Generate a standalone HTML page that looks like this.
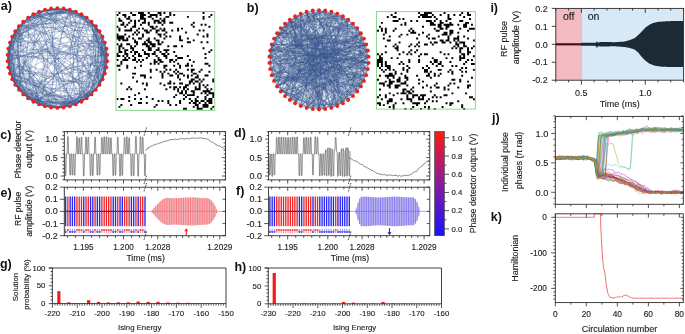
<!DOCTYPE html>
<html><head><meta charset="utf-8"><style>
html,body{margin:0;padding:0;background:#fff;}
body{width:685px;height:334px;overflow:hidden;}
svg{display:block;filter:blur(0.3px);font-family:"Liberation Sans", sans-serif;}
</style></head><body>
<svg width="685" height="334" viewBox="0 0 685 334">
<rect width="685" height="334" fill="#fff"/>
<text x="0.8" y="9.5" font-size="12.5" text-anchor="start" font-weight="bold" fill="#111">a)</text>
<path d="M118.46 12h1.96v1.96h-1.96zM130.19 12h1.96v1.96h-1.96zM138.02 12h1.96v1.96h-1.96zM139.97 12h1.96v1.96h-1.96zM141.93 12h1.96v1.96h-1.96zM147.8 12h1.96v1.96h-1.96zM157.58 12h1.96v1.96h-1.96zM159.53 12h1.96v1.96h-1.96zM163.44 12h1.96v1.96h-1.96zM169.31 12h1.96v1.96h-1.96zM202.56 12h1.96v1.96h-1.96zM116.5 13.96h1.96v1.96h-1.96zM122.37 13.96h1.96v1.96h-1.96zM124.32 13.96h1.96v1.96h-1.96zM132.15 13.96h1.96v1.96h-1.96zM134.1 13.96h1.96v1.96h-1.96zM139.97 13.96h1.96v1.96h-1.96zM141.93 13.96h1.96v1.96h-1.96zM143.88 13.96h1.96v1.96h-1.96zM149.75 13.96h1.96v1.96h-1.96zM151.71 13.96h1.96v1.96h-1.96zM153.66 13.96h1.96v1.96h-1.96zM155.62 13.96h1.96v1.96h-1.96zM159.53 13.96h1.96v1.96h-1.96zM169.31 13.96h1.96v1.96h-1.96zM173.22 13.96h1.96v1.96h-1.96zM210.39 13.96h1.96v1.96h-1.96zM124.32 15.91h1.96v1.96h-1.96zM128.24 15.91h1.96v1.96h-1.96zM139.97 15.91h1.96v1.96h-1.96zM141.93 15.91h1.96v1.96h-1.96zM147.8 15.91h1.96v1.96h-1.96zM149.75 15.91h1.96v1.96h-1.96zM155.62 15.91h1.96v1.96h-1.96zM165.4 15.91h1.96v1.96h-1.96zM167.36 15.91h1.96v1.96h-1.96zM186.92 15.91h1.96v1.96h-1.96zM202.56 15.91h1.96v1.96h-1.96zM208.43 15.91h1.96v1.96h-1.96zM118.46 17.87h1.96v1.96h-1.96zM126.28 17.87h1.96v1.96h-1.96zM128.24 17.87h1.96v1.96h-1.96zM139.97 17.87h1.96v1.96h-1.96zM141.93 17.87h1.96v1.96h-1.96zM143.88 17.87h1.96v1.96h-1.96zM151.71 17.87h1.96v1.96h-1.96zM159.53 17.87h1.96v1.96h-1.96zM163.44 17.87h1.96v1.96h-1.96zM202.56 17.87h1.96v1.96h-1.96zM118.46 19.82h1.96v1.96h-1.96zM120.41 19.82h1.96v1.96h-1.96zM130.19 19.82h1.96v1.96h-1.96zM134.1 19.82h1.96v1.96h-1.96zM138.02 19.82h1.96v1.96h-1.96zM143.88 19.82h1.96v1.96h-1.96zM153.66 19.82h1.96v1.96h-1.96zM155.62 19.82h1.96v1.96h-1.96zM157.58 19.82h1.96v1.96h-1.96zM161.49 19.82h1.96v1.96h-1.96zM163.44 19.82h1.96v1.96h-1.96zM122.37 21.78h1.96v1.96h-1.96zM128.24 21.78h1.96v1.96h-1.96zM134.1 21.78h1.96v1.96h-1.96zM141.93 21.78h1.96v1.96h-1.96zM143.88 21.78h1.96v1.96h-1.96zM147.8 21.78h1.96v1.96h-1.96zM153.66 21.78h1.96v1.96h-1.96zM157.58 21.78h1.96v1.96h-1.96zM159.53 21.78h1.96v1.96h-1.96zM163.44 21.78h1.96v1.96h-1.96zM169.31 21.78h1.96v1.96h-1.96zM171.27 21.78h1.96v1.96h-1.96zM192.78 21.78h1.96v1.96h-1.96zM120.41 23.74h1.96v1.96h-1.96zM122.37 23.74h1.96v1.96h-1.96zM126.28 23.74h1.96v1.96h-1.96zM134.1 23.74h1.96v1.96h-1.96zM139.97 23.74h1.96v1.96h-1.96zM147.8 23.74h1.96v1.96h-1.96zM161.49 23.74h1.96v1.96h-1.96zM190.83 23.74h1.96v1.96h-1.96zM200.61 23.74h1.96v1.96h-1.96zM204.52 23.74h1.96v1.96h-1.96zM116.5 25.69h1.96v1.96h-1.96zM124.32 25.69h1.96v1.96h-1.96zM132.15 25.69h1.96v1.96h-1.96zM134.1 25.69h1.96v1.96h-1.96zM149.75 25.69h1.96v1.96h-1.96zM151.71 25.69h1.96v1.96h-1.96zM155.62 25.69h1.96v1.96h-1.96zM192.78 25.69h1.96v1.96h-1.96zM208.43 25.69h1.96v1.96h-1.96zM118.46 27.65h1.96v1.96h-1.96zM130.19 27.65h1.96v1.96h-1.96zM138.02 27.65h1.96v1.96h-1.96zM141.93 27.65h1.96v1.96h-1.96zM151.71 27.65h1.96v1.96h-1.96zM153.66 27.65h1.96v1.96h-1.96zM159.53 27.65h1.96v1.96h-1.96zM163.44 27.65h1.96v1.96h-1.96zM177.14 27.65h1.96v1.96h-1.96zM181.05 27.65h1.96v1.96h-1.96zM118.46 29.6h1.96v1.96h-1.96zM124.32 29.6h1.96v1.96h-1.96zM126.28 29.6h1.96v1.96h-1.96zM128.24 29.6h1.96v1.96h-1.96zM130.19 29.6h1.96v1.96h-1.96zM136.06 29.6h1.96v1.96h-1.96zM143.88 29.6h1.96v1.96h-1.96zM145.84 29.6h1.96v1.96h-1.96zM149.75 29.6h1.96v1.96h-1.96zM155.62 29.6h1.96v1.96h-1.96zM157.58 29.6h1.96v1.96h-1.96zM161.49 29.6h1.96v1.96h-1.96zM163.44 29.6h1.96v1.96h-1.96zM171.27 29.6h1.96v1.96h-1.96zM177.14 29.6h1.96v1.96h-1.96zM198.65 29.6h1.96v1.96h-1.96zM202.56 29.6h1.96v1.96h-1.96zM134.1 31.56h1.96v1.96h-1.96zM138.02 31.56h1.96v1.96h-1.96zM145.84 31.56h1.96v1.96h-1.96zM147.8 31.56h1.96v1.96h-1.96zM155.62 31.56h1.96v1.96h-1.96zM165.4 31.56h1.96v1.96h-1.96zM184.96 31.56h1.96v1.96h-1.96zM116.5 33.52h1.96v1.96h-1.96zM124.32 33.52h1.96v1.96h-1.96zM132.15 33.52h1.96v1.96h-1.96zM136.06 33.52h1.96v1.96h-1.96zM141.93 33.52h1.96v1.96h-1.96zM157.58 33.52h1.96v1.96h-1.96zM159.53 33.52h1.96v1.96h-1.96zM163.44 33.52h1.96v1.96h-1.96zM196.7 33.52h1.96v1.96h-1.96zM206.48 33.52h1.96v1.96h-1.96zM116.5 35.47h1.96v1.96h-1.96zM118.46 35.47h1.96v1.96h-1.96zM120.41 35.47h1.96v1.96h-1.96zM122.37 35.47h1.96v1.96h-1.96zM128.24 35.47h1.96v1.96h-1.96zM141.93 35.47h1.96v1.96h-1.96zM159.53 35.47h1.96v1.96h-1.96zM165.4 35.47h1.96v1.96h-1.96zM169.31 35.47h1.96v1.96h-1.96zM179.09 35.47h1.96v1.96h-1.96zM202.56 35.47h1.96v1.96h-1.96zM206.48 35.47h1.96v1.96h-1.96zM116.5 37.43h1.96v1.96h-1.96zM118.46 37.43h1.96v1.96h-1.96zM120.41 37.43h1.96v1.96h-1.96zM122.37 37.43h1.96v1.96h-1.96zM126.28 37.43h1.96v1.96h-1.96zM132.15 37.43h1.96v1.96h-1.96zM138.02 37.43h1.96v1.96h-1.96zM139.97 37.43h1.96v1.96h-1.96zM147.8 37.43h1.96v1.96h-1.96zM153.66 37.43h1.96v1.96h-1.96zM163.44 37.43h1.96v1.96h-1.96zM179.09 37.43h1.96v1.96h-1.96zM186.92 37.43h1.96v1.96h-1.96zM118.46 39.38h1.96v1.96h-1.96zM122.37 39.38h1.96v1.96h-1.96zM124.32 39.38h1.96v1.96h-1.96zM126.28 39.38h1.96v1.96h-1.96zM134.1 39.38h1.96v1.96h-1.96zM145.84 39.38h1.96v1.96h-1.96zM147.8 39.38h1.96v1.96h-1.96zM155.62 39.38h1.96v1.96h-1.96zM157.58 39.38h1.96v1.96h-1.96zM179.09 39.38h1.96v1.96h-1.96zM181.05 39.38h1.96v1.96h-1.96zM192.78 39.38h1.96v1.96h-1.96zM134.1 41.34h1.96v1.96h-1.96zM136.06 41.34h1.96v1.96h-1.96zM143.88 41.34h1.96v1.96h-1.96zM147.8 41.34h1.96v1.96h-1.96zM149.75 41.34h1.96v1.96h-1.96zM157.58 41.34h1.96v1.96h-1.96zM161.49 41.34h1.96v1.96h-1.96zM186.92 41.34h1.96v1.96h-1.96zM188.87 41.34h1.96v1.96h-1.96zM200.61 41.34h1.96v1.96h-1.96zM206.48 41.34h1.96v1.96h-1.96zM116.5 43.3h1.96v1.96h-1.96zM120.41 43.3h1.96v1.96h-1.96zM126.28 43.3h1.96v1.96h-1.96zM128.24 43.3h1.96v1.96h-1.96zM136.06 43.3h1.96v1.96h-1.96zM141.93 43.3h1.96v1.96h-1.96zM143.88 43.3h1.96v1.96h-1.96zM145.84 43.3h1.96v1.96h-1.96zM149.75 43.3h1.96v1.96h-1.96zM151.71 43.3h1.96v1.96h-1.96zM153.66 43.3h1.96v1.96h-1.96zM157.58 43.3h1.96v1.96h-1.96zM159.53 43.3h1.96v1.96h-1.96zM118.46 45.25h1.96v1.96h-1.96zM120.41 45.25h1.96v1.96h-1.96zM130.19 45.25h1.96v1.96h-1.96zM134.1 45.25h1.96v1.96h-1.96zM145.84 45.25h1.96v1.96h-1.96zM147.8 45.25h1.96v1.96h-1.96zM151.71 45.25h1.96v1.96h-1.96zM153.66 45.25h1.96v1.96h-1.96zM167.36 45.25h1.96v1.96h-1.96zM173.22 45.25h1.96v1.96h-1.96zM175.18 45.25h1.96v1.96h-1.96zM181.05 45.25h1.96v1.96h-1.96zM118.46 47.21h1.96v1.96h-1.96zM122.37 47.21h1.96v1.96h-1.96zM130.19 47.21h1.96v1.96h-1.96zM132.15 47.21h1.96v1.96h-1.96zM147.8 47.21h1.96v1.96h-1.96zM149.75 47.21h1.96v1.96h-1.96zM157.58 47.21h1.96v1.96h-1.96zM202.56 47.21h1.96v1.96h-1.96zM118.46 49.16h1.96v1.96h-1.96zM124.32 49.16h1.96v1.96h-1.96zM126.28 49.16h1.96v1.96h-1.96zM132.15 49.16h1.96v1.96h-1.96zM141.93 49.16h1.96v1.96h-1.96zM147.8 49.16h1.96v1.96h-1.96zM149.75 49.16h1.96v1.96h-1.96zM155.62 49.16h1.96v1.96h-1.96zM157.58 49.16h1.96v1.96h-1.96zM163.44 49.16h1.96v1.96h-1.96zM165.4 49.16h1.96v1.96h-1.96zM167.36 49.16h1.96v1.96h-1.96zM210.39 49.16h1.96v1.96h-1.96zM118.46 51.12h1.96v1.96h-1.96zM120.41 51.12h1.96v1.96h-1.96zM124.32 51.12h1.96v1.96h-1.96zM130.19 51.12h1.96v1.96h-1.96zM134.1 51.12h1.96v1.96h-1.96zM136.06 51.12h1.96v1.96h-1.96zM143.88 51.12h1.96v1.96h-1.96zM153.66 51.12h1.96v1.96h-1.96zM159.53 51.12h1.96v1.96h-1.96zM165.4 51.12h1.96v1.96h-1.96zM173.22 51.12h1.96v1.96h-1.96zM208.43 51.12h1.96v1.96h-1.96zM116.5 53.08h1.96v1.96h-1.96zM124.32 53.08h1.96v1.96h-1.96zM126.28 53.08h1.96v1.96h-1.96zM134.1 53.08h1.96v1.96h-1.96zM138.02 53.08h1.96v1.96h-1.96zM143.88 53.08h1.96v1.96h-1.96zM145.84 53.08h1.96v1.96h-1.96zM147.8 53.08h1.96v1.96h-1.96zM151.71 53.08h1.96v1.96h-1.96zM153.66 53.08h1.96v1.96h-1.96zM161.49 53.08h1.96v1.96h-1.96zM163.44 53.08h1.96v1.96h-1.96zM167.36 53.08h1.96v1.96h-1.96zM204.52 53.08h1.96v1.96h-1.96zM116.5 55.03h1.96v1.96h-1.96zM118.46 55.03h1.96v1.96h-1.96zM122.37 55.03h1.96v1.96h-1.96zM126.28 55.03h1.96v1.96h-1.96zM132.15 55.03h1.96v1.96h-1.96zM138.02 55.03h1.96v1.96h-1.96zM139.97 55.03h1.96v1.96h-1.96zM147.8 55.03h1.96v1.96h-1.96zM155.62 55.03h1.96v1.96h-1.96zM163.44 55.03h1.96v1.96h-1.96zM165.4 55.03h1.96v1.96h-1.96zM175.18 55.03h1.96v1.96h-1.96zM186.92 55.03h1.96v1.96h-1.96zM124.32 56.99h1.96v1.96h-1.96zM128.24 56.99h1.96v1.96h-1.96zM134.1 56.99h1.96v1.96h-1.96zM145.84 56.99h1.96v1.96h-1.96zM157.58 56.99h1.96v1.96h-1.96zM165.4 56.99h1.96v1.96h-1.96zM177.14 56.99h1.96v1.96h-1.96zM179.09 56.99h1.96v1.96h-1.96zM181.05 56.99h1.96v1.96h-1.96zM204.52 56.99h1.96v1.96h-1.96zM116.5 58.94h1.96v1.96h-1.96zM122.37 58.94h1.96v1.96h-1.96zM124.32 58.94h1.96v1.96h-1.96zM126.28 58.94h1.96v1.96h-1.96zM132.15 58.94h1.96v1.96h-1.96zM134.1 58.94h1.96v1.96h-1.96zM138.02 58.94h1.96v1.96h-1.96zM141.93 58.94h1.96v1.96h-1.96zM153.66 58.94h1.96v1.96h-1.96zM157.58 58.94h1.96v1.96h-1.96zM159.53 58.94h1.96v1.96h-1.96zM169.31 58.94h1.96v1.96h-1.96zM171.27 58.94h1.96v1.96h-1.96zM175.18 58.94h1.96v1.96h-1.96zM188.87 58.94h1.96v1.96h-1.96zM120.41 60.9h1.96v1.96h-1.96zM136.06 60.9h1.96v1.96h-1.96zM139.97 60.9h1.96v1.96h-1.96zM153.66 60.9h1.96v1.96h-1.96zM155.62 60.9h1.96v1.96h-1.96zM159.53 60.9h1.96v1.96h-1.96zM161.49 60.9h1.96v1.96h-1.96zM169.31 60.9h1.96v1.96h-1.96zM173.22 60.9h1.96v1.96h-1.96zM192.78 60.9h1.96v1.96h-1.96zM120.41 62.86h1.96v1.96h-1.96zM149.75 62.86h1.96v1.96h-1.96zM153.66 62.86h1.96v1.96h-1.96zM157.58 62.86h1.96v1.96h-1.96zM177.14 62.86h1.96v1.96h-1.96zM186.92 62.86h1.96v1.96h-1.96zM204.52 62.86h1.96v1.96h-1.96zM206.48 62.86h1.96v1.96h-1.96zM116.5 64.81h1.96v1.96h-1.96zM118.46 64.81h1.96v1.96h-1.96zM126.28 64.81h1.96v1.96h-1.96zM139.97 64.81h1.96v1.96h-1.96zM163.44 64.81h1.96v1.96h-1.96zM165.4 64.81h1.96v1.96h-1.96zM173.22 64.81h1.96v1.96h-1.96zM179.09 64.81h1.96v1.96h-1.96zM184.96 64.81h1.96v1.96h-1.96zM186.92 64.81h1.96v1.96h-1.96zM190.83 64.81h1.96v1.96h-1.96zM208.43 64.81h1.96v1.96h-1.96zM126.28 66.77h1.96v1.96h-1.96zM134.1 66.77h1.96v1.96h-1.96zM163.44 66.77h1.96v1.96h-1.96zM179.09 66.77h1.96v1.96h-1.96zM118.46 68.72h1.96v1.96h-1.96zM149.75 68.72h1.96v1.96h-1.96zM155.62 68.72h1.96v1.96h-1.96zM165.4 68.72h1.96v1.96h-1.96zM169.31 68.72h1.96v1.96h-1.96zM175.18 68.72h1.96v1.96h-1.96zM186.92 68.72h1.96v1.96h-1.96zM190.83 68.72h1.96v1.96h-1.96zM192.78 68.72h1.96v1.96h-1.96zM200.61 68.72h1.96v1.96h-1.96zM149.75 70.68h1.96v1.96h-1.96zM159.53 70.68h1.96v1.96h-1.96zM163.44 70.68h1.96v1.96h-1.96zM173.22 70.68h1.96v1.96h-1.96zM177.14 70.68h1.96v1.96h-1.96zM190.83 70.68h1.96v1.96h-1.96zM198.65 70.68h1.96v1.96h-1.96zM208.43 70.68h1.96v1.96h-1.96zM132.15 72.64h1.96v1.96h-1.96zM134.1 72.64h1.96v1.96h-1.96zM161.49 72.64h1.96v1.96h-1.96zM167.36 72.64h1.96v1.96h-1.96zM175.18 72.64h1.96v1.96h-1.96zM179.09 72.64h1.96v1.96h-1.96zM181.05 72.64h1.96v1.96h-1.96zM192.78 72.64h1.96v1.96h-1.96zM194.74 72.64h1.96v1.96h-1.96zM139.97 74.59h1.96v1.96h-1.96zM141.93 74.59h1.96v1.96h-1.96zM143.88 74.59h1.96v1.96h-1.96zM161.49 74.59h1.96v1.96h-1.96zM169.31 74.59h1.96v1.96h-1.96zM171.27 74.59h1.96v1.96h-1.96zM177.14 74.59h1.96v1.96h-1.96zM183 74.59h1.96v1.96h-1.96zM186.92 74.59h1.96v1.96h-1.96zM190.83 74.59h1.96v1.96h-1.96zM196.7 74.59h1.96v1.96h-1.96zM204.52 74.59h1.96v1.96h-1.96zM206.48 74.59h1.96v1.96h-1.96zM132.15 76.55h1.96v1.96h-1.96zM143.88 76.55h1.96v1.96h-1.96zM149.75 76.55h1.96v1.96h-1.96zM161.49 76.55h1.96v1.96h-1.96zM177.14 76.55h1.96v1.96h-1.96zM186.92 76.55h1.96v1.96h-1.96zM194.74 76.55h1.96v1.96h-1.96zM196.7 76.55h1.96v1.96h-1.96zM179.09 78.5h1.96v1.96h-1.96zM190.83 78.5h1.96v1.96h-1.96zM192.78 78.5h1.96v1.96h-1.96zM198.65 78.5h1.96v1.96h-1.96zM202.56 78.5h1.96v1.96h-1.96zM212.34 78.5h1.96v1.96h-1.96zM136.06 80.46h1.96v1.96h-1.96zM169.31 80.46h1.96v1.96h-1.96zM188.87 80.46h1.96v1.96h-1.96zM190.83 80.46h1.96v1.96h-1.96zM194.74 80.46h1.96v1.96h-1.96zM196.7 80.46h1.96v1.96h-1.96zM200.61 80.46h1.96v1.96h-1.96zM212.34 80.46h1.96v1.96h-1.96zM120.41 82.42h1.96v1.96h-1.96zM141.93 82.42h1.96v1.96h-1.96zM145.84 82.42h1.96v1.96h-1.96zM159.53 82.42h1.96v1.96h-1.96zM167.36 82.42h1.96v1.96h-1.96zM169.31 82.42h1.96v1.96h-1.96zM173.22 82.42h1.96v1.96h-1.96zM179.09 82.42h1.96v1.96h-1.96zM181.05 82.42h1.96v1.96h-1.96zM188.87 82.42h1.96v1.96h-1.96zM192.78 82.42h1.96v1.96h-1.96zM198.65 82.42h1.96v1.96h-1.96zM145.84 84.37h1.96v1.96h-1.96zM163.44 84.37h1.96v1.96h-1.96zM184.96 84.37h1.96v1.96h-1.96zM186.92 84.37h1.96v1.96h-1.96zM198.65 84.37h1.96v1.96h-1.96zM202.56 84.37h1.96v1.96h-1.96zM206.48 84.37h1.96v1.96h-1.96zM128.24 86.33h1.96v1.96h-1.96zM169.31 86.33h1.96v1.96h-1.96zM173.22 86.33h1.96v1.96h-1.96zM175.18 86.33h1.96v1.96h-1.96zM179.09 86.33h1.96v1.96h-1.96zM183 86.33h1.96v1.96h-1.96zM184.96 86.33h1.96v1.96h-1.96zM194.74 86.33h1.96v1.96h-1.96zM198.65 86.33h1.96v1.96h-1.96zM204.52 86.33h1.96v1.96h-1.96zM126.28 88.28h1.96v1.96h-1.96zM130.19 88.28h1.96v1.96h-1.96zM143.88 88.28h1.96v1.96h-1.96zM165.4 88.28h1.96v1.96h-1.96zM173.22 88.28h1.96v1.96h-1.96zM177.14 88.28h1.96v1.96h-1.96zM183 88.28h1.96v1.96h-1.96zM186.92 88.28h1.96v1.96h-1.96zM194.74 88.28h1.96v1.96h-1.96zM196.7 88.28h1.96v1.96h-1.96zM198.65 88.28h1.96v1.96h-1.96zM206.48 88.28h1.96v1.96h-1.96zM210.39 88.28h1.96v1.96h-1.96zM177.14 90.24h1.96v1.96h-1.96zM181.05 90.24h1.96v1.96h-1.96zM184.96 90.24h1.96v1.96h-1.96zM190.83 90.24h1.96v1.96h-1.96zM192.78 90.24h1.96v1.96h-1.96zM202.56 90.24h1.96v1.96h-1.96zM204.52 90.24h1.96v1.96h-1.96zM206.48 90.24h1.96v1.96h-1.96zM208.43 90.24h1.96v1.96h-1.96zM138.02 92.2h1.96v1.96h-1.96zM179.09 92.2h1.96v1.96h-1.96zM181.05 92.2h1.96v1.96h-1.96zM184.96 92.2h1.96v1.96h-1.96zM192.78 92.2h1.96v1.96h-1.96zM200.61 92.2h1.96v1.96h-1.96zM204.52 92.2h1.96v1.96h-1.96zM208.43 92.2h1.96v1.96h-1.96zM210.39 92.2h1.96v1.96h-1.96zM212.34 92.2h1.96v1.96h-1.96zM134.1 94.15h1.96v1.96h-1.96zM175.18 94.15h1.96v1.96h-1.96zM183 94.15h1.96v1.96h-1.96zM186.92 94.15h1.96v1.96h-1.96zM188.87 94.15h1.96v1.96h-1.96zM190.83 94.15h1.96v1.96h-1.96zM192.78 94.15h1.96v1.96h-1.96zM206.48 94.15h1.96v1.96h-1.96zM212.34 94.15h1.96v1.96h-1.96zM128.24 96.11h1.96v1.96h-1.96zM145.84 96.11h1.96v1.96h-1.96zM173.22 96.11h1.96v1.96h-1.96zM184.96 96.11h1.96v1.96h-1.96zM196.7 96.11h1.96v1.96h-1.96zM204.52 96.11h1.96v1.96h-1.96zM212.34 96.11h1.96v1.96h-1.96zM116.5 98.06h1.96v1.96h-1.96zM120.41 98.06h1.96v1.96h-1.96zM122.37 98.06h1.96v1.96h-1.96zM134.1 98.06h1.96v1.96h-1.96zM139.97 98.06h1.96v1.96h-1.96zM151.71 98.06h1.96v1.96h-1.96zM183 98.06h1.96v1.96h-1.96zM188.87 98.06h1.96v1.96h-1.96zM194.74 98.06h1.96v1.96h-1.96zM204.52 98.06h1.96v1.96h-1.96zM208.43 98.06h1.96v1.96h-1.96zM210.39 98.06h1.96v1.96h-1.96zM128.24 100.02h1.96v1.96h-1.96zM157.58 100.02h1.96v1.96h-1.96zM161.49 100.02h1.96v1.96h-1.96zM167.36 100.02h1.96v1.96h-1.96zM179.09 100.02h1.96v1.96h-1.96zM190.83 100.02h1.96v1.96h-1.96zM194.74 100.02h1.96v1.96h-1.96zM196.7 100.02h1.96v1.96h-1.96zM200.61 100.02h1.96v1.96h-1.96zM202.56 100.02h1.96v1.96h-1.96zM206.48 100.02h1.96v1.96h-1.96zM208.43 100.02h1.96v1.96h-1.96zM210.39 100.02h1.96v1.96h-1.96zM138.02 101.98h1.96v1.96h-1.96zM139.97 101.98h1.96v1.96h-1.96zM145.84 101.98h1.96v1.96h-1.96zM167.36 101.98h1.96v1.96h-1.96zM179.09 101.98h1.96v1.96h-1.96zM188.87 101.98h1.96v1.96h-1.96zM192.78 101.98h1.96v1.96h-1.96zM194.74 101.98h1.96v1.96h-1.96zM198.65 101.98h1.96v1.96h-1.96zM204.52 101.98h1.96v1.96h-1.96zM208.43 101.98h1.96v1.96h-1.96zM210.39 101.98h1.96v1.96h-1.96zM120.41 103.93h1.96v1.96h-1.96zM130.19 103.93h1.96v1.96h-1.96zM155.62 103.93h1.96v1.96h-1.96zM169.31 103.93h1.96v1.96h-1.96zM175.18 103.93h1.96v1.96h-1.96zM194.74 103.93h1.96v1.96h-1.96zM196.7 103.93h1.96v1.96h-1.96zM202.56 103.93h1.96v1.96h-1.96zM204.52 103.93h1.96v1.96h-1.96zM206.48 103.93h1.96v1.96h-1.96zM118.46 105.89h1.96v1.96h-1.96zM153.66 105.89h1.96v1.96h-1.96zM192.78 105.89h1.96v1.96h-1.96zM196.7 105.89h1.96v1.96h-1.96zM202.56 105.89h1.96v1.96h-1.96zM204.52 105.89h1.96v1.96h-1.96zM206.48 105.89h1.96v1.96h-1.96zM212.34 105.89h1.96v1.96h-1.96zM183 107.84h1.96v1.96h-1.96zM184.96 107.84h1.96v1.96h-1.96zM196.7 107.84h1.96v1.96h-1.96zM198.65 107.84h1.96v1.96h-1.96zM200.61 107.84h1.96v1.96h-1.96zM210.39 107.84h1.96v1.96h-1.96z" fill="#000"/>
<rect x="116" y="11.5" width="98.7" height="98.9" fill="none" stroke="#8fd68f" stroke-width="1"/>
<path d="M104.86 73.42Q84.29 83.25 75.77 104.4M69.81 106.33Q21.08 81.05 18.95 26.19M57.4 8.1Q40.5 34.74 9.94 42.58M57.4 8.1Q97.43 44.99 86.73 98.37M102.55 79.25Q83.52 89.57 69.81 106.33M57.4 8.1Q41.83 10.08 28.07 17.63M28.07 98.37Q26.06 91.37 18.95 89.81M106.42 67.35Q70.33 75.8 51.15 107.51M15.27 84.74Q15.32 81.13 12.25 79.25M95.85 26.19Q54.81 16.82 15.27 31.26M106.42 48.65Q66.17 44.19 44.99 9.67M91.56 94.38Q45.58 94.39 8.38 67.35M28.07 98.37Q9.56 76.94 8.38 48.65M106.42 67.35Q54.84 62.03 28.07 17.63M57.4 107.9Q27.76 98.79 9.94 73.42M39.03 104.4Q12.3 69.58 18.95 26.19M69.81 106.33Q63.66 107.58 57.4 107.9M23.24 94.38Q15 84.91 9.94 73.42M95.85 26.19Q70.36 25.26 51.15 8.49M51.15 107.51Q27.08 94.65 9.94 73.42M8.38 67.35Q7.41 51.68 12.25 36.75M51.15 107.51Q27.34 99.37 12.25 79.25M91.56 21.62Q55.71 31.18 18.95 26.19M99.53 84.74Q67.63 36.26 9.94 42.58M23.24 21.62Q30.57 15.72 39.03 11.6M91.56 21.62Q46.63 43.18 12.25 79.25M91.56 21.62Q93.31 43.78 107.2 61.13M107.2 54.87Q57.29 58.87 9.94 42.58M99.53 84.74Q97.79 87.34 95.85 89.81M57.4 8.1Q55.42 57.36 28.07 98.37M86.73 17.63Q88.66 20.21 91.56 21.62M51.15 107.51Q17.84 86.75 8.38 48.65M95.85 89.81Q83.9 94.48 75.77 104.4M95.85 26.19Q93.71 43.63 107.2 54.87M75.77 11.6Q60.56 7.71 44.99 9.67M81.44 101.73Q57.4 89.67 33.36 101.73M18.95 89.81Q17.01 87.34 15.27 84.74M91.56 94.38Q89.22 96.46 86.73 98.37M7.6 54.87Q12.84 33.5 28.07 17.63M51.15 107.51Q41.93 105.63 33.36 101.73M102.55 36.75Q105.13 73.51 81.44 101.73M81.44 101.73Q74.28 100.63 69.81 106.33M63.65 107.51Q49.67 98.53 33.36 101.73M63.65 107.51Q43.09 84.03 12.25 79.25M75.77 11.6Q49.39 26.82 18.95 26.19M18.95 89.81Q15.2 84.78 12.25 79.25M91.56 94.38Q84.23 100.28 75.77 104.4M15.27 84.74Q10.84 76.43 8.38 67.35M57.4 8.1Q41.11 61.11 75.77 104.4M86.73 98.37Q69.08 93.95 57.4 107.9M7.6 61.13Q9.28 42.36 18.95 26.19M9.94 42.58Q33.47 29.08 51.15 8.49M75.77 104.4Q53.49 88.91 28.07 98.37M7.6 54.87Q23.54 26.21 51.15 8.49M23.24 94.38Q22.56 90.72 18.95 89.81M18.95 26.19Q28.49 23.06 33.36 14.27M102.55 79.25Q79.93 89.01 63.65 107.51M7.6 61.13Q24.99 45.17 23.24 21.62M69.81 106.33Q60.54 107.98 51.15 107.51M7.6 54.87Q16.89 44.84 15.27 31.26M91.56 21.62Q99.53 58 91.56 94.38M8.38 67.35Q17.61 47.78 18.95 26.19M91.56 94.38Q60.5 107.34 28.07 98.37M99.53 84.74Q92.43 86.98 91.56 94.38M18.95 26.19Q21.74 24.51 23.24 21.62M91.56 21.62Q102.44 43.37 106.42 67.35M107.2 61.13Q71.8 21.63 18.95 26.19M104.86 42.58Q105.01 48.92 107.2 54.87M8.38 67.35Q9.95 60.99 7.6 54.87M95.85 26.19Q98.14 32.15 102.55 36.75M86.73 98.37Q62.55 52.52 15.27 31.26M106.42 48.65Q60 61.58 33.36 101.73M12.25 36.75Q20.67 23.51 33.36 14.27M75.77 104.4Q51.39 89.5 23.24 94.38M95.85 89.81Q63.34 105.02 28.07 98.37M99.53 84.74Q91.77 94.6 81.44 101.73M95.85 89.81Q83.56 94.01 75.77 104.4M69.81 9.67Q68.8 53.49 99.53 84.74M107.2 54.87Q106.21 70.53 99.53 84.74M18.95 89.81Q15.2 84.78 12.25 79.25M69.81 9.67Q80.95 43.05 106.42 67.35M99.53 31.26Q69.21 28.17 44.99 9.67M95.85 89.81Q72.55 90.19 57.4 107.9M81.44 14.27Q58.8 58 81.44 101.73M95.85 26.19Q104.4 63.94 86.73 98.37M69.81 9.67Q51.6 56.89 51.15 107.51M63.65 8.49Q25.04 40.21 18.95 89.81M8.38 67.35Q16.76 55.44 9.94 42.58M69.81 9.67Q54.24 7.71 39.03 11.6M91.56 94.38Q88.72 95.86 86.73 98.37M15.27 84.74Q7.7 67.48 8.38 48.65M8.38 48.65Q9.87 42.56 12.25 36.75M102.55 79.25Q51.45 89.17 7.6 61.13M28.07 98.37Q33.39 61.03 18.95 26.19M75.77 104.4Q72.83 105.48 69.81 106.33M12.25 79.25Q15.16 38.13 44.99 9.67M104.86 42.58Q101.35 52.45 107.2 61.13M99.53 31.26Q108.78 71.19 81.44 101.73M23.24 94.38Q4.9 61.3 18.95 26.19M57.4 107.9Q48.02 107.19 39.03 104.4M104.86 73.42Q98.17 87.62 86.73 98.37M15.27 84.74Q9.64 73.52 7.6 61.13M86.73 98.37Q47.46 110.11 15.27 84.74M75.77 11.6Q106.72 38.47 102.55 79.25M95.85 26.19Q98.98 38.43 106.42 48.65M69.81 9.67Q71.73 51.26 102.55 79.25M18.95 89.81Q23.99 64.37 9.94 42.58M104.86 42.58Q104.25 52.08 107.2 61.13M63.65 107.51Q43.69 82.94 12.25 79.25M91.56 94.38Q86.78 98.43 81.44 101.73M81.44 101.73Q74.5 101.19 69.81 106.33M9.94 73.42Q13.63 60.75 8.38 48.65M86.73 17.63Q100.12 30.89 106.42 48.65M69.81 106.33Q54.79 99.47 39.03 104.4M63.65 107.51Q45.11 105.86 28.07 98.37M69.81 9.67Q28.98 13.22 8.38 48.65M69.81 106.33Q33.51 101.45 9.94 73.42M23.24 21.62Q36.08 19.22 44.99 9.67M33.36 101.73Q30.22 95.41 23.24 94.38M12.25 79.25Q7.41 64.32 8.38 48.65M81.44 14.27Q97.48 55.48 86.73 98.37M44.99 106.33Q42.27 104.56 39.03 104.4M86.73 98.37Q72.97 105.92 57.4 107.9M102.55 79.25Q101.14 82.05 99.53 84.74M91.56 21.62Q61.58 24.91 33.36 14.27M63.65 107.51Q41.53 83.01 9.94 73.42M86.73 98.37Q69.98 107.01 51.15 107.51M7.6 61.13Q12.31 33.21 33.36 14.27M102.55 36.75Q98.58 50.14 107.2 61.13M69.81 9.67Q81.01 38.47 107.2 54.87M91.56 21.62Q105.62 45.62 104.86 73.42M106.42 48.65Q76.9 84.84 33.36 101.73M95.85 26.19Q96.54 29.56 99.53 31.26M18.95 26.19Q25.48 19.42 33.36 14.27M7.6 61.13Q7.48 58 7.6 54.87M69.81 9.67Q50.14 57.54 63.65 107.51M18.95 89.81Q8.15 70.65 8.38 48.65M91.56 21.62Q93.6 40.96 107.2 54.87M9.94 73.42Q13.48 63.55 7.6 54.87M8.38 67.35Q8.76 64.14 7.6 61.13M104.86 73.42Q61.33 37.39 7.6 54.87M104.86 73.42Q99.8 84.91 91.56 94.38M102.55 79.25Q89.49 84.55 86.73 98.37M75.77 104.4Q57.4 100.52 39.03 104.4M63.65 107.51Q35.49 104.56 15.27 84.74M102.55 79.25Q51.25 63.77 39.03 11.6M81.44 14.27Q50.99 7.25 23.24 21.62M102.55 79.25Q53.91 63.49 18.95 26.19M28.07 98.37Q18.71 90.01 12.25 79.25M102.55 36.75Q100.35 49.81 107.2 61.13M69.81 9.67Q54.24 7.71 39.03 11.6M39.03 104.4Q9.8 80.4 9.94 42.58M106.42 48.65Q104.67 55.03 107.2 61.13M102.55 36.75Q108.02 61.18 99.53 84.74M106.42 67.35Q59.98 99.03 9.94 73.42M75.77 11.6Q63.05 13.26 51.15 8.49M104.86 42.58Q57.85 61.59 7.6 54.87M99.53 84.74Q55.02 95.81 12.25 79.25M63.65 8.49Q74.01 16.04 86.73 17.63M107.2 54.87Q107.08 64.28 104.86 73.42M104.86 73.42Q102.62 79.28 99.53 84.74M51.15 107.51Q68.77 55.83 33.36 14.27M75.77 11.6Q52.14 30.44 23.24 21.62M104.86 42.58Q54.51 42.84 7.6 61.13M9.94 73.42Q9.05 70.41 8.38 67.35M57.4 107.9Q49.32 65.59 7.6 54.87M33.36 101.73Q56.24 58.07 28.07 17.63M69.81 9.67Q38.21 17.22 12.25 36.75M81.44 14.27Q73.65 58 81.44 101.73M104.86 73.42Q53.04 71.42 9.94 42.58M102.55 79.25Q94.13 92.49 81.44 101.73M63.65 8.49Q44.82 8.99 28.07 17.63M102.55 79.25Q101.14 82.05 99.53 84.74M86.73 98.37Q84.15 100.15 81.44 101.73M104.86 42.58Q64.54 39.96 33.36 14.27M86.73 17.63Q93.9 23.72 99.53 31.26M69.81 9.67Q81.08 20.69 95.85 26.19M69.81 9.67Q51.96 14.93 33.36 14.27M63.65 8.49Q75.88 11.31 86.73 17.63M63.65 107.51Q57.4 107.98 51.15 107.51M57.4 8.1Q39.24 29.39 12.25 36.75M57.4 107.9Q48.02 107.19 39.03 104.4M95.85 26.19Q99.8 66.09 81.44 101.73M15.27 31.26Q23.03 21.4 33.36 14.27M15.27 84.74Q7.62 41.83 39.03 11.6M63.65 8.49Q31.45 41.53 15.27 84.74M95.85 89.81Q75.65 35.94 18.95 26.19M39.03 104.4Q32.85 96.69 23.24 94.38M91.56 21.62Q102.22 72.56 63.65 107.51M75.77 11.6Q44.95 9.5 18.95 26.19M95.85 26.19Q93.14 55.75 99.53 84.74M75.77 104.4Q66.78 107.19 57.4 107.9M81.44 14.27Q47.96 8.49 18.95 26.19M106.42 48.65Q103.13 83.14 75.77 104.4M9.94 42.58Q13.52 33.88 18.95 26.19M12.25 36.75Q13.66 33.95 15.27 31.26M9.94 73.42Q7.72 64.28 7.6 54.87M63.65 8.49Q40.62 27.48 12.25 36.75M51.15 107.51Q42.58 71.92 7.6 61.13M106.42 48.65Q100.91 58 106.42 67.35M106.42 48.65Q106.16 67.3 99.53 84.74M57.4 8.1Q43.7 15.85 28.07 17.63M12.25 79.25Q25.57 53.98 18.95 26.19M75.77 104.4Q65.62 101.12 57.4 107.9M63.65 107.51Q57.4 104.45 51.15 107.51M69.81 9.67Q78.72 12.69 86.73 17.63M104.86 73.42Q87.85 99.91 57.4 107.9M75.77 104.4Q50.53 64.45 12.25 36.75M39.03 104.4Q33.46 69.27 9.94 42.58M81.44 14.27Q84.15 15.85 86.73 17.63M102.55 36.75Q103.81 39.62 104.86 42.58M18.95 26.19Q22.02 24.78 23.24 21.62M106.42 48.65Q87.1 71.98 81.44 101.73M51.15 107.51Q39.44 79.71 9.94 73.42M69.81 9.67Q54.94 18.84 39.03 11.6M102.55 36.75Q54.06 50.91 12.25 79.25M107.2 54.87Q91.12 71.35 91.56 94.38M8.38 67.35Q10.8 58 8.38 48.65M69.81 106.33Q43.27 80.26 8.38 67.35M39.03 104.4Q56.32 58 39.03 11.6M86.73 98.37Q57.4 109.81 28.07 98.37M91.56 94.38Q60.57 83.08 33.36 101.73M86.73 17.63Q50.81 5.81 18.95 26.19M15.27 31.26Q25.28 19.18 39.03 11.6M107.2 54.87Q105.52 73.64 95.85 89.81M91.56 21.62Q48.65 51.64 33.36 101.73M106.42 67.35Q101.56 82.27 91.56 94.38M9.94 42.58Q14.41 37.77 15.27 31.26M15.27 84.74Q8.59 70.53 7.6 54.87M86.73 17.63Q51.28 34.15 12.25 36.75M8.38 67.35Q11.2 60.91 7.6 54.87M99.53 31.26Q100.07 34.54 102.55 36.75M69.81 9.67Q31.98 17.94 8.38 48.65M69.81 106.33Q40.38 100.99 15.27 84.74M81.44 14.27Q84.15 15.85 86.73 17.63M81.44 101.73Q70.75 99.07 63.65 107.51M57.4 8.1Q42.88 21.34 23.24 21.62M63.65 8.49Q46.08 44.32 7.6 54.87M28.07 17.63Q38.11 17.01 44.99 9.67M107.2 61.13Q62.25 66.82 33.36 101.73M44.99 106.33Q31.95 88.76 12.25 79.25M23.24 94.38Q21.78 91.45 18.95 89.81M51.15 107.51Q44.97 106.41 39.03 104.4M28.07 17.63Q41.3 17.35 51.15 8.49M28.07 98.37Q12 72.75 9.94 42.58M44.99 106.33Q35.41 98 23.24 94.38M91.56 94.38Q81.59 102 69.81 106.33M95.85 26.19Q72.39 11.85 44.99 9.67M106.42 48.65Q106.93 51.74 107.2 54.87M33.36 14.27Q41.93 10.37 51.15 8.49M39.03 104.4Q35.2 72.09 7.6 54.87M57.4 107.9Q54.27 107.82 51.15 107.51M107.2 61.13Q105.9 70.45 102.55 79.25M102.55 36.75Q60 61.15 28.07 98.37M107.2 54.87Q107.32 58 107.2 61.13M104.86 42.58Q82.89 66.28 86.73 98.37M104.86 42.58Q93.8 62.6 99.53 84.74M95.85 26.19Q108.45 51.55 102.55 79.25M23.24 94.38Q21.51 91.7 18.95 89.81M57.4 107.9Q46.4 100.83 33.36 101.73M69.81 9.67Q87.14 17.06 99.53 31.26M104.86 73.42Q99.8 84.91 91.56 94.38M23.24 94.38Q20.2 88.77 15.27 84.74M104.86 73.42Q99.8 84.91 91.56 94.38M107.2 54.87Q95.82 67.86 99.53 84.74M95.85 26.19Q97.23 29.06 99.53 31.26M7.6 54.87Q12.32 46.43 12.25 36.75M99.53 84.74Q50.96 83.09 7.6 61.13M91.56 94.38Q75.8 97.11 63.65 107.51M99.53 84.74Q89.32 87.97 86.73 98.37M99.53 31.26Q53.47 26.87 9.94 42.58M86.73 17.63Q96.09 25.99 102.55 36.75M86.73 17.63Q87.11 39.15 106.42 48.65M91.56 21.62Q92.3 25.23 95.85 26.19M63.65 8.49Q66.46 10.49 69.81 9.67M28.07 98.37Q16.63 87.62 9.94 73.42M81.44 101.73Q69.89 106.64 57.4 107.9M81.44 101.73Q30.34 95.25 8.38 48.65M15.27 31.26Q20.9 23.72 28.07 17.63M95.85 26.19Q65.55 32.9 44.99 9.67M86.73 17.63Q66.81 58 86.73 98.37M51.15 107.51Q38.92 104.69 28.07 98.37M9.94 73.42Q7.29 61.15 8.38 48.65M106.42 48.65Q52.17 37.63 9.94 73.42M63.65 107.51Q69.23 53.32 28.07 17.63M75.77 104.4Q27.46 89.88 9.94 42.58M51.15 107.51Q41.45 98.28 28.07 98.37M95.85 26.19Q76.22 10.46 51.15 8.49M99.53 84.74Q58.46 54.74 7.6 54.87M86.73 98.37Q48.94 63.37 33.36 14.27M23.24 21.62Q35.01 17.28 44.99 9.67M69.81 9.67Q72.83 10.52 75.77 11.6M33.36 101.73Q30.65 100.15 28.07 98.37M86.73 98.37Q83.03 98.38 81.44 101.73M102.55 36.75Q58.1 63.57 8.38 48.65M75.77 11.6Q27.9 44.12 33.36 101.73M12.25 36.75Q22.01 32.29 23.24 21.62M57.4 8.1Q67.43 18.94 81.44 14.27M91.56 21.62Q97.91 28.57 102.55 36.75M95.85 26.19Q99.6 31.22 102.55 36.75M104.86 73.42Q82.13 81.22 75.77 104.4M12.25 36.75Q13.66 33.95 15.27 31.26M95.85 26.19Q97.61 32.48 102.55 36.75M106.42 67.35Q59.64 93.6 9.94 73.42M51.15 107.51Q21.94 95.76 8.38 67.35M86.73 98.37Q64.02 50 12.25 36.75M107.2 54.87Q98.99 68.68 99.53 84.74M86.73 17.63Q87.96 21.06 91.56 21.62M7.6 54.87Q7.87 51.74 8.38 48.65M107.2 54.87Q58.2 59.26 33.36 101.73M86.73 17.63Q96.09 25.99 102.55 36.75M106.42 67.35Q58.59 39.03 7.6 61.13M8.38 48.65Q17.45 39.2 18.95 26.19M102.55 36.75Q68.7 33.99 44.99 9.67M75.77 104.4Q62.64 99.48 51.15 107.51M81.44 14.27Q65.7 14.5 51.15 8.49M39.03 104.4Q56.91 58.09 23.24 21.62M95.85 26.19Q87.53 54.19 102.55 79.25M91.56 94.38Q73.36 98.31 57.4 107.9M81.44 101.73Q68 99.27 57.4 107.9M75.77 11.6Q60.08 15.34 44.99 9.67M69.81 9.67Q46.14 23.34 18.95 26.19M12.25 36.75Q25.94 28.46 33.36 14.27M107.2 61.13Q106.93 64.26 106.42 67.35M81.44 101.73Q69.89 106.64 57.4 107.9M86.73 17.63Q93.9 23.72 99.53 31.26M104.86 42.58Q89.99 62.12 99.53 84.74M63.65 8.49Q47.96 8.5 33.36 14.27M57.4 8.1Q19.18 48.19 33.36 101.73M51.15 107.51Q44.97 106.41 39.03 104.4M102.55 36.75Q54.4 34.24 8.38 48.65M91.56 94.38Q45.86 63.43 51.15 8.49M81.44 14.27Q51.72 49.05 7.6 61.13M63.65 8.49Q66.54 10.09 69.81 9.67M63.65 8.49Q87.46 16.63 102.55 36.75M18.95 89.81Q5.21 58 18.95 26.19M28.07 98.37Q24.69 92.83 18.95 89.81M99.53 84.74Q97.16 86.89 95.85 89.81M75.77 104.4Q68.81 102.44 63.65 107.51M107.2 54.87Q66.11 44.28 39.03 11.6M91.56 21.62Q92.31 35.84 104.86 42.58M39.03 104.4Q33.32 101.8 28.07 98.37M86.73 17.63Q68.56 67.23 23.24 94.38M95.85 89.81Q77.63 33.55 18.95 26.19M9.94 42.58Q12.18 36.72 15.27 31.26M44.99 106.33Q33.21 102 23.24 94.38M28.07 98.37Q25.55 68.35 9.94 42.58M106.42 67.35Q100.94 75.24 99.53 84.74M95.85 89.81Q86.39 93.05 81.44 101.73M75.77 104.4Q26.47 95.39 8.38 48.65M69.81 9.67Q54.24 7.71 39.03 11.6M57.4 8.1Q72.97 10.08 86.73 17.63M102.55 36.75Q91.89 58 102.55 79.25M75.77 11.6Q83.61 21.93 95.85 26.19M75.77 104.4Q45.87 62.57 39.03 11.6M69.81 106.33Q35.32 92.79 8.38 67.35M23.24 94.38Q22.45 90.82 18.95 89.81M99.53 84.74Q93.9 92.28 86.73 98.37M75.77 11.6Q104.91 35.64 104.86 73.42M91.56 21.62Q97.91 28.57 102.55 36.75M104.86 73.42Q74.29 78.42 63.65 107.51M51.15 107.51Q27.34 99.37 12.25 79.25M69.81 9.67Q72.83 10.52 75.77 11.6M86.73 17.63Q42.56 12.31 9.94 42.58M106.42 67.35Q69.79 44.81 44.99 9.67M99.53 31.26Q73.37 61.05 86.73 98.37M51.15 107.51Q44.34 68.8 7.6 54.87M81.44 101.73Q57.4 87.6 33.36 101.73M63.65 8.49Q66.75 8.96 69.81 9.67M23.24 94.38Q15.57 60.63 18.95 26.19M33.36 101.73Q20.67 92.49 12.25 79.25M18.95 89.81Q16.29 74.28 7.6 61.13M9.94 42.58Q15.09 38.09 15.27 31.26M81.44 14.27Q107.43 41.74 102.55 79.25M9.94 73.42Q14.27 63.45 7.6 54.87M39.03 104.4Q30.57 100.28 23.24 94.38M39.03 104.4Q32.56 88.03 15.27 84.74M102.55 36.75Q108.25 58 102.55 79.25M15.27 84.74Q9.64 73.52 7.6 61.13M106.42 67.35Q57.4 80.45 8.38 67.35M8.38 48.65Q10.84 39.57 15.27 31.26M8.38 67.35Q7.7 48.52 15.27 31.26M23.24 94.38Q16.89 87.43 12.25 79.25M91.56 21.62Q92.43 25.11 95.85 26.19M69.81 106.33Q57.4 108.21 44.99 106.33M81.44 101.73Q86.2 46.6 44.99 9.67M39.03 104.4Q30.57 100.28 23.24 94.38M106.42 48.65Q71.04 66.66 69.81 106.33M57.4 107.9Q48.53 104.49 39.03 104.4M107.2 61.13Q70.34 90.68 23.24 94.38M86.73 98.37Q57.4 106.57 28.07 98.37M95.85 89.81Q83.69 94.18 75.77 104.4M102.55 79.25Q99.27 81.02 99.53 84.74M23.24 94.38Q22.04 87.26 15.27 84.74M69.81 9.67Q54.24 7.71 39.03 11.6M95.85 26.19Q103.11 60.88 91.56 94.38M95.85 26.19Q108.14 61.19 91.56 94.38M57.4 8.1Q86.37 56.18 63.65 107.51M81.44 14.27Q86.75 26.74 99.53 31.26M33.36 101.73Q20.67 92.49 12.25 79.25M9.94 73.42Q10.48 66.95 7.6 61.13M23.24 94.38Q38.58 55.62 33.36 14.27M102.55 36.75Q104.73 84.02 63.65 107.51M99.53 84.74Q41.48 77.24 23.24 21.62M57.4 107.9Q43.8 86.89 18.95 89.81M57.4 107.9Q51.61 103.85 44.99 106.33M91.56 94.38Q85.59 96.8 81.44 101.73M102.55 36.75Q104.93 42.56 106.42 48.65M12.25 79.25Q12.49 75.78 9.94 73.42M44.99 106.33Q42.54 103.73 39.03 104.4M99.53 84.74Q97.13 86.86 95.85 89.81M102.55 36.75Q99.22 50.02 107.2 61.13M75.77 104.4Q43.24 66.98 23.24 21.62M81.44 14.27Q108.78 44.81 99.53 84.74M69.81 106.33Q64.53 53.48 18.95 26.19M104.86 73.42Q98.17 87.62 86.73 98.37M23.24 94.38Q21.01 84.44 12.25 79.25M28.07 98.37Q24.51 88.89 15.27 84.74M15.27 84.74Q31.79 53.12 28.07 17.63M39.03 104.4Q33.1 75.66 7.6 61.13M12.25 79.25Q6.35 51.55 18.95 26.19M102.55 36.75Q71.41 62.55 81.44 101.73M63.65 107.51Q47.96 107.5 33.36 101.73M95.85 89.81Q49.75 68.53 15.27 31.26M106.42 48.65Q103.26 55.11 107.2 61.13M86.73 98.37Q81.48 101.8 75.77 104.4M99.53 31.26Q101.14 33.95 102.55 36.75M51.15 107.51Q37.74 88.98 15.27 84.74M95.85 26.19Q94.98 48.35 106.42 67.35M95.85 26.19Q81.3 77.77 33.36 101.73M18.95 26.19Q25.48 19.42 33.36 14.27M86.73 17.63Q98.17 28.38 104.86 42.58M39.03 104.4Q25.47 96.6 15.27 84.74M7.6 54.87Q16.27 44.64 15.27 31.26M18.95 89.81Q29.69 58 18.95 26.19M86.73 98.37Q54.12 110.09 23.24 94.38M107.2 54.87Q57.4 62.46 7.6 54.87M75.77 104.4Q31.87 85.19 9.94 42.58M95.85 89.81Q54.85 71.35 9.94 73.42M99.53 84.74Q89.52 96.82 75.77 104.4M18.95 89.81Q13.52 82.12 9.94 73.42M81.44 14.27Q57.4 25.73 33.36 14.27M44.99 106.33Q67.89 57.34 39.03 11.6M99.53 31.26Q106.21 45.47 107.2 61.13M106.42 48.65Q53.01 48.67 18.95 89.81M15.27 84.74Q8.59 70.53 7.6 54.87M75.77 11.6Q86.91 17.38 95.85 26.19M104.86 42.58Q49.59 33.95 9.94 73.42M95.85 89.81Q86.91 98.62 75.77 104.4M63.65 107.51Q60.53 107.82 57.4 107.9M69.81 106.33Q52.87 93.84 33.36 101.73M9.94 73.42Q9.72 70.24 8.38 67.35M44.99 106.33Q29.69 84.03 8.38 67.35M63.65 8.49Q47.24 18.42 28.07 17.63M91.56 94.38Q84.23 100.28 75.77 104.4M57.4 107.9Q54.27 107.82 51.15 107.51M7.6 61.13Q7.72 51.72 9.94 42.58M106.42 67.35Q105.75 70.41 104.86 73.42M8.38 48.65Q9.05 45.59 9.94 42.58M107.2 61.13Q105.9 70.45 102.55 79.25M107.2 54.87Q106.21 70.53 99.53 84.74M99.53 84.74Q88.42 28.87 33.36 14.27M39.03 104.4Q36.48 67.85 9.94 42.58M107.2 54.87Q75.8 24.53 33.36 14.27M39.03 104.4Q25.28 96.82 15.27 84.74M95.85 26.19Q83.39 54.72 102.55 79.25M106.42 67.35Q103.96 76.43 99.53 84.74M95.85 89.81Q77.98 95.43 63.65 107.51M106.42 48.65Q107.1 67.48 99.53 84.74M44.99 106.33Q36.08 103.31 28.07 98.37M63.65 107.51Q57.4 107.98 51.15 107.51M28.07 98.37Q24.24 85.43 12.25 79.25M107.2 61.13Q82.61 76.32 75.77 104.4M7.6 61.13Q17.32 28.88 44.99 9.67M91.56 94.38Q88.03 95.02 86.73 98.37M106.42 67.35Q63.53 34.13 9.94 42.58M86.73 17.63Q93.9 23.72 99.53 31.26M81.44 14.27Q67.99 58.67 75.77 104.4M75.77 11.6Q76.46 68.48 28.07 98.37M91.56 21.62Q68.81 61.71 63.65 107.51M12.25 36.75Q20.67 23.51 33.36 14.27M106.42 67.35Q57.25 57.63 28.07 98.37M12.25 36.75Q13.66 33.95 15.27 31.26M75.77 11.6Q92.04 21.11 102.55 36.75M18.95 89.81Q21.66 60.25 15.27 31.26M86.73 17.63Q96.09 25.99 102.55 36.75M12.25 79.25Q13.34 69.31 7.6 61.13M33.36 101.73Q12.48 79.14 8.38 48.65M106.42 67.35Q103.96 76.43 99.53 84.74M81.44 101.73Q56.07 60.83 8.38 67.35M7.6 61.13Q37.66 45.47 39.03 11.6M15.27 84.74Q15.13 68.85 7.6 54.87M75.77 11.6Q54.21 7.25 33.36 14.27M39.03 104.4Q27.89 98.62 18.95 89.81M91.56 94.38Q64.05 92.85 39.03 104.4M107.2 61.13Q106.93 64.26 106.42 67.35M33.36 101.73Q29.98 83.75 12.25 79.25M57.4 107.9Q18.24 76.43 18.95 26.19M106.42 48.65Q75.85 83.39 33.36 101.73M23.24 94.38Q21.01 92.17 18.95 89.81M104.86 73.42Q99.8 84.91 91.56 94.38M106.42 67.35Q103.96 76.43 99.53 84.74M75.77 104.4Q66.78 107.19 57.4 107.9M33.36 14.27Q39.69 13.27 44.99 9.67M91.56 94.38Q75.42 96.3 63.65 107.51M104.86 42.58Q106.49 48.63 107.2 54.87M107.2 61.13Q60.05 64.7 23.24 94.38M7.6 54.87Q10.55 39.45 18.95 26.19M57.4 107.9Q43.09 80.54 12.25 79.25M7.6 54.87Q12.44 46.46 12.25 36.75M39.03 104.4Q36.15 103.17 33.36 101.73M81.44 14.27Q41.7 41.28 12.25 79.25M63.65 8.49Q87.46 16.63 102.55 36.75M91.56 21.62Q62.65 64.35 15.27 84.74M23.24 94.38Q13.26 82.27 8.38 67.35M23.24 94.38Q13.24 82.27 8.38 67.35M28.07 98.37Q9.78 61 23.24 21.62M28.07 17.63Q34.91 17.09 39.03 11.6M7.6 61.13Q7.72 51.72 9.94 42.58M15.27 84.74Q15.84 74.45 8.38 67.35" stroke="#3c5c96" stroke-width="0.36" stroke-opacity="0.9" fill="none"/>
<circle cx="57.4" cy="8.1" r="1.9" fill="#e8231e"/>
<circle cx="63.65" cy="8.49" r="1.9" fill="#e8231e"/>
<circle cx="69.81" cy="9.67" r="1.9" fill="#e8231e"/>
<circle cx="75.77" cy="11.6" r="1.9" fill="#e8231e"/>
<circle cx="81.44" cy="14.27" r="1.9" fill="#e8231e"/>
<circle cx="86.73" cy="17.63" r="1.9" fill="#e8231e"/>
<circle cx="91.56" cy="21.62" r="1.9" fill="#e8231e"/>
<circle cx="95.85" cy="26.19" r="1.9" fill="#e8231e"/>
<circle cx="99.53" cy="31.26" r="1.9" fill="#e8231e"/>
<circle cx="102.55" cy="36.75" r="1.9" fill="#e8231e"/>
<circle cx="104.86" cy="42.58" r="1.9" fill="#e8231e"/>
<circle cx="106.42" cy="48.65" r="1.9" fill="#e8231e"/>
<circle cx="107.2" cy="54.87" r="1.9" fill="#e8231e"/>
<circle cx="107.2" cy="61.13" r="1.9" fill="#e8231e"/>
<circle cx="106.42" cy="67.35" r="1.9" fill="#e8231e"/>
<circle cx="104.86" cy="73.42" r="1.9" fill="#e8231e"/>
<circle cx="102.55" cy="79.25" r="1.9" fill="#e8231e"/>
<circle cx="99.53" cy="84.74" r="1.9" fill="#e8231e"/>
<circle cx="95.85" cy="89.81" r="1.9" fill="#e8231e"/>
<circle cx="91.56" cy="94.38" r="1.9" fill="#e8231e"/>
<circle cx="86.73" cy="98.37" r="1.9" fill="#e8231e"/>
<circle cx="81.44" cy="101.73" r="1.9" fill="#e8231e"/>
<circle cx="75.77" cy="104.4" r="1.9" fill="#e8231e"/>
<circle cx="69.81" cy="106.33" r="1.9" fill="#e8231e"/>
<circle cx="63.65" cy="107.51" r="1.9" fill="#e8231e"/>
<circle cx="57.4" cy="107.9" r="1.9" fill="#e8231e"/>
<circle cx="51.15" cy="107.51" r="1.9" fill="#e8231e"/>
<circle cx="44.99" cy="106.33" r="1.9" fill="#e8231e"/>
<circle cx="39.03" cy="104.4" r="1.9" fill="#e8231e"/>
<circle cx="33.36" cy="101.73" r="1.9" fill="#e8231e"/>
<circle cx="28.07" cy="98.37" r="1.9" fill="#e8231e"/>
<circle cx="23.24" cy="94.38" r="1.9" fill="#e8231e"/>
<circle cx="18.95" cy="89.81" r="1.9" fill="#e8231e"/>
<circle cx="15.27" cy="84.74" r="1.9" fill="#e8231e"/>
<circle cx="12.25" cy="79.25" r="1.9" fill="#e8231e"/>
<circle cx="9.94" cy="73.42" r="1.9" fill="#e8231e"/>
<circle cx="8.38" cy="67.35" r="1.9" fill="#e8231e"/>
<circle cx="7.6" cy="61.13" r="1.9" fill="#e8231e"/>
<circle cx="7.6" cy="54.87" r="1.9" fill="#e8231e"/>
<circle cx="8.38" cy="48.65" r="1.9" fill="#e8231e"/>
<circle cx="9.94" cy="42.58" r="1.9" fill="#e8231e"/>
<circle cx="12.25" cy="36.75" r="1.9" fill="#e8231e"/>
<circle cx="15.27" cy="31.26" r="1.9" fill="#e8231e"/>
<circle cx="18.95" cy="26.19" r="1.9" fill="#e8231e"/>
<circle cx="23.24" cy="21.62" r="1.9" fill="#e8231e"/>
<circle cx="28.07" cy="17.63" r="1.9" fill="#e8231e"/>
<circle cx="33.36" cy="14.27" r="1.9" fill="#e8231e"/>
<circle cx="39.03" cy="11.6" r="1.9" fill="#e8231e"/>
<circle cx="44.99" cy="9.67" r="1.9" fill="#e8231e"/>
<circle cx="51.15" cy="8.49" r="1.9" fill="#e8231e"/>
<text x="246.8" y="12.2" font-size="12.5" text-anchor="start" font-weight="bold" fill="#111">b)</text>
<path d="M394.62 12.1h1.96v1.96h-1.96zM418.12 12.1h1.96v1.96h-1.96zM423.99 12.1h1.96v1.96h-1.96zM425.95 12.1h1.96v1.96h-1.96zM427.91 12.1h1.96v1.96h-1.96zM429.87 12.1h1.96v1.96h-1.96zM443.57 12.1h1.96v1.96h-1.96zM461.19 12.1h1.96v1.96h-1.96zM467.07 12.1h1.96v1.96h-1.96zM390.71 14.06h1.96v1.96h-1.96zM420.08 14.06h1.96v1.96h-1.96zM422.03 14.06h1.96v1.96h-1.96zM423.99 14.06h1.96v1.96h-1.96zM425.95 14.06h1.96v1.96h-1.96zM431.82 14.06h1.96v1.96h-1.96zM439.66 14.06h1.96v1.96h-1.96zM447.49 14.06h1.96v1.96h-1.96zM453.36 14.06h1.96v1.96h-1.96zM459.24 14.06h1.96v1.96h-1.96zM467.07 14.06h1.96v1.96h-1.96zM469.03 14.06h1.96v1.96h-1.96zM386.79 16.02h1.96v1.96h-1.96zM392.66 16.02h1.96v1.96h-1.96zM394.62 16.02h1.96v1.96h-1.96zM418.12 16.02h1.96v1.96h-1.96zM422.03 16.02h1.96v1.96h-1.96zM423.99 16.02h1.96v1.96h-1.96zM425.95 16.02h1.96v1.96h-1.96zM427.91 16.02h1.96v1.96h-1.96zM429.87 16.02h1.96v1.96h-1.96zM433.78 16.02h1.96v1.96h-1.96zM447.49 16.02h1.96v1.96h-1.96zM463.15 16.02h1.96v1.96h-1.96zM398.54 17.97h1.96v1.96h-1.96zM402.45 17.97h1.96v1.96h-1.96zM435.74 17.97h1.96v1.96h-1.96zM447.49 17.97h1.96v1.96h-1.96zM449.45 17.97h1.96v1.96h-1.96zM469.03 17.97h1.96v1.96h-1.96zM392.66 19.93h1.96v1.96h-1.96zM394.62 19.93h1.96v1.96h-1.96zM396.58 19.93h1.96v1.96h-1.96zM410.29 19.93h1.96v1.96h-1.96zM416.16 19.93h1.96v1.96h-1.96zM425.95 19.93h1.96v1.96h-1.96zM427.91 19.93h1.96v1.96h-1.96zM429.87 19.93h1.96v1.96h-1.96zM433.78 19.93h1.96v1.96h-1.96zM439.66 19.93h1.96v1.96h-1.96zM445.53 19.93h1.96v1.96h-1.96zM459.24 19.93h1.96v1.96h-1.96zM461.19 19.93h1.96v1.96h-1.96zM380.92 21.89h1.96v1.96h-1.96zM404.41 21.89h1.96v1.96h-1.96zM429.87 21.89h1.96v1.96h-1.96zM431.82 21.89h1.96v1.96h-1.96zM439.66 21.89h1.96v1.96h-1.96zM441.61 21.89h1.96v1.96h-1.96zM449.45 21.89h1.96v1.96h-1.96zM465.11 21.89h1.96v1.96h-1.96zM467.07 21.89h1.96v1.96h-1.96zM400.5 23.85h1.96v1.96h-1.96zM404.41 23.85h1.96v1.96h-1.96zM429.87 23.85h1.96v1.96h-1.96zM431.82 23.85h1.96v1.96h-1.96zM433.78 23.85h1.96v1.96h-1.96zM437.7 23.85h1.96v1.96h-1.96zM439.66 23.85h1.96v1.96h-1.96zM443.57 23.85h1.96v1.96h-1.96zM445.53 23.85h1.96v1.96h-1.96zM447.49 23.85h1.96v1.96h-1.96zM449.45 23.85h1.96v1.96h-1.96zM451.4 23.85h1.96v1.96h-1.96zM457.28 23.85h1.96v1.96h-1.96zM463.15 23.85h1.96v1.96h-1.96zM465.11 23.85h1.96v1.96h-1.96zM470.98 23.85h1.96v1.96h-1.96zM378.96 25.81h1.96v1.96h-1.96zM422.03 25.81h1.96v1.96h-1.96zM437.7 25.81h1.96v1.96h-1.96zM439.66 25.81h1.96v1.96h-1.96zM445.53 25.81h1.96v1.96h-1.96zM447.49 25.81h1.96v1.96h-1.96zM463.15 25.81h1.96v1.96h-1.96zM465.11 25.81h1.96v1.96h-1.96zM380.92 27.76h1.96v1.96h-1.96zM384.83 27.76h1.96v1.96h-1.96zM394.62 27.76h1.96v1.96h-1.96zM410.29 27.76h1.96v1.96h-1.96zM433.78 27.76h1.96v1.96h-1.96zM439.66 27.76h1.96v1.96h-1.96zM441.61 27.76h1.96v1.96h-1.96zM445.53 27.76h1.96v1.96h-1.96zM459.24 27.76h1.96v1.96h-1.96zM469.03 27.76h1.96v1.96h-1.96zM470.98 27.76h1.96v1.96h-1.96zM472.94 27.76h1.96v1.96h-1.96zM377 29.72h1.96v1.96h-1.96zM380.92 29.72h1.96v1.96h-1.96zM384.83 29.72h1.96v1.96h-1.96zM392.66 29.72h1.96v1.96h-1.96zM408.33 29.72h1.96v1.96h-1.96zM412.24 29.72h1.96v1.96h-1.96zM435.74 29.72h1.96v1.96h-1.96zM437.7 29.72h1.96v1.96h-1.96zM449.45 29.72h1.96v1.96h-1.96zM451.4 29.72h1.96v1.96h-1.96zM467.07 29.72h1.96v1.96h-1.96zM384.83 31.68h1.96v1.96h-1.96zM410.29 31.68h1.96v1.96h-1.96zM412.24 31.68h1.96v1.96h-1.96zM414.2 31.68h1.96v1.96h-1.96zM422.03 31.68h1.96v1.96h-1.96zM443.57 31.68h1.96v1.96h-1.96zM445.53 31.68h1.96v1.96h-1.96zM449.45 31.68h1.96v1.96h-1.96zM451.4 31.68h1.96v1.96h-1.96zM457.28 31.68h1.96v1.96h-1.96zM382.87 33.64h1.96v1.96h-1.96zM400.5 33.64h1.96v1.96h-1.96zM406.37 33.64h1.96v1.96h-1.96zM418.12 33.64h1.96v1.96h-1.96zM427.91 33.64h1.96v1.96h-1.96zM441.61 33.64h1.96v1.96h-1.96zM443.57 33.64h1.96v1.96h-1.96zM445.53 33.64h1.96v1.96h-1.96zM449.45 33.64h1.96v1.96h-1.96zM388.75 35.6h1.96v1.96h-1.96zM398.54 35.6h1.96v1.96h-1.96zM425.95 35.6h1.96v1.96h-1.96zM437.7 35.6h1.96v1.96h-1.96zM447.49 35.6h1.96v1.96h-1.96zM457.28 35.6h1.96v1.96h-1.96zM463.15 35.6h1.96v1.96h-1.96zM382.87 37.55h1.96v1.96h-1.96zM416.16 37.55h1.96v1.96h-1.96zM427.91 37.55h1.96v1.96h-1.96zM431.82 37.55h1.96v1.96h-1.96zM433.78 37.55h1.96v1.96h-1.96zM447.49 37.55h1.96v1.96h-1.96zM453.36 37.55h1.96v1.96h-1.96zM455.32 37.55h1.96v1.96h-1.96zM457.28 37.55h1.96v1.96h-1.96zM467.07 37.55h1.96v1.96h-1.96zM386.79 39.51h1.96v1.96h-1.96zM388.75 39.51h1.96v1.96h-1.96zM439.66 39.51h1.96v1.96h-1.96zM441.61 39.51h1.96v1.96h-1.96zM445.53 39.51h1.96v1.96h-1.96zM447.49 39.51h1.96v1.96h-1.96zM453.36 39.51h1.96v1.96h-1.96zM457.28 39.51h1.96v1.96h-1.96zM472.94 39.51h1.96v1.96h-1.96zM398.54 41.47h1.96v1.96h-1.96zM418.12 41.47h1.96v1.96h-1.96zM429.87 41.47h1.96v1.96h-1.96zM433.78 41.47h1.96v1.96h-1.96zM435.74 41.47h1.96v1.96h-1.96zM441.61 41.47h1.96v1.96h-1.96zM443.57 41.47h1.96v1.96h-1.96zM449.45 41.47h1.96v1.96h-1.96zM455.32 41.47h1.96v1.96h-1.96zM459.24 41.47h1.96v1.96h-1.96zM461.19 41.47h1.96v1.96h-1.96zM463.15 41.47h1.96v1.96h-1.96zM394.62 43.43h1.96v1.96h-1.96zM410.29 43.43h1.96v1.96h-1.96zM416.16 43.43h1.96v1.96h-1.96zM423.99 43.43h1.96v1.96h-1.96zM425.95 43.43h1.96v1.96h-1.96zM431.82 43.43h1.96v1.96h-1.96zM455.32 43.43h1.96v1.96h-1.96zM457.28 43.43h1.96v1.96h-1.96zM463.15 43.43h1.96v1.96h-1.96zM384.83 45.39h1.96v1.96h-1.96zM392.66 45.39h1.96v1.96h-1.96zM396.58 45.39h1.96v1.96h-1.96zM408.33 45.39h1.96v1.96h-1.96zM414.2 45.39h1.96v1.96h-1.96zM418.12 45.39h1.96v1.96h-1.96zM453.36 45.39h1.96v1.96h-1.96zM457.28 45.39h1.96v1.96h-1.96zM463.15 45.39h1.96v1.96h-1.96zM465.11 45.39h1.96v1.96h-1.96zM472.94 45.39h1.96v1.96h-1.96zM394.62 47.34h1.96v1.96h-1.96zM396.58 47.34h1.96v1.96h-1.96zM451.4 47.34h1.96v1.96h-1.96zM455.32 47.34h1.96v1.96h-1.96zM459.24 47.34h1.96v1.96h-1.96zM461.19 47.34h1.96v1.96h-1.96zM467.07 47.34h1.96v1.96h-1.96zM470.98 47.34h1.96v1.96h-1.96zM396.58 49.3h1.96v1.96h-1.96zM410.29 49.3h1.96v1.96h-1.96zM416.16 49.3h1.96v1.96h-1.96zM459.24 49.3h1.96v1.96h-1.96zM467.07 49.3h1.96v1.96h-1.96zM384.83 51.26h1.96v1.96h-1.96zM402.45 51.26h1.96v1.96h-1.96zM408.33 51.26h1.96v1.96h-1.96zM414.2 51.26h1.96v1.96h-1.96zM439.66 51.26h1.96v1.96h-1.96zM459.24 51.26h1.96v1.96h-1.96zM467.07 51.26h1.96v1.96h-1.96zM469.03 51.26h1.96v1.96h-1.96zM377 53.22h1.96v1.96h-1.96zM380.92 53.22h1.96v1.96h-1.96zM398.54 53.22h1.96v1.96h-1.96zM406.37 53.22h1.96v1.96h-1.96zM410.29 53.22h1.96v1.96h-1.96zM420.08 53.22h1.96v1.96h-1.96zM423.99 53.22h1.96v1.96h-1.96zM425.95 53.22h1.96v1.96h-1.96zM443.57 53.22h1.96v1.96h-1.96zM447.49 53.22h1.96v1.96h-1.96zM461.19 53.22h1.96v1.96h-1.96zM463.15 53.22h1.96v1.96h-1.96zM467.07 53.22h1.96v1.96h-1.96zM378.96 55.18h1.96v1.96h-1.96zM418.12 55.18h1.96v1.96h-1.96zM459.24 55.18h1.96v1.96h-1.96zM463.15 55.18h1.96v1.96h-1.96zM472.94 55.18h1.96v1.96h-1.96zM378.96 57.13h1.96v1.96h-1.96zM380.92 57.13h1.96v1.96h-1.96zM390.71 57.13h1.96v1.96h-1.96zM396.58 57.13h1.96v1.96h-1.96zM431.82 57.13h1.96v1.96h-1.96zM445.53 57.13h1.96v1.96h-1.96zM451.4 57.13h1.96v1.96h-1.96zM459.24 57.13h1.96v1.96h-1.96zM461.19 57.13h1.96v1.96h-1.96zM463.15 57.13h1.96v1.96h-1.96zM377 59.09h1.96v1.96h-1.96zM378.96 59.09h1.96v1.96h-1.96zM380.92 59.09h1.96v1.96h-1.96zM408.33 59.09h1.96v1.96h-1.96zM418.12 59.09h1.96v1.96h-1.96zM433.78 59.09h1.96v1.96h-1.96zM435.74 59.09h1.96v1.96h-1.96zM459.24 59.09h1.96v1.96h-1.96zM467.07 59.09h1.96v1.96h-1.96zM470.98 59.09h1.96v1.96h-1.96zM377 61.05h1.96v1.96h-1.96zM378.96 61.05h1.96v1.96h-1.96zM380.92 61.05h1.96v1.96h-1.96zM384.83 61.05h1.96v1.96h-1.96zM400.5 61.05h1.96v1.96h-1.96zM408.33 61.05h1.96v1.96h-1.96zM418.12 61.05h1.96v1.96h-1.96zM429.87 61.05h1.96v1.96h-1.96zM433.78 61.05h1.96v1.96h-1.96zM435.74 61.05h1.96v1.96h-1.96zM439.66 61.05h1.96v1.96h-1.96zM449.45 61.05h1.96v1.96h-1.96zM465.11 61.05h1.96v1.96h-1.96zM377 63.01h1.96v1.96h-1.96zM380.92 63.01h1.96v1.96h-1.96zM384.83 63.01h1.96v1.96h-1.96zM398.54 63.01h1.96v1.96h-1.96zM402.45 63.01h1.96v1.96h-1.96zM431.82 63.01h1.96v1.96h-1.96zM437.7 63.01h1.96v1.96h-1.96zM439.66 63.01h1.96v1.96h-1.96zM463.15 63.01h1.96v1.96h-1.96zM470.98 63.01h1.96v1.96h-1.96zM472.94 63.01h1.96v1.96h-1.96zM377 64.97h1.96v1.96h-1.96zM380.92 64.97h1.96v1.96h-1.96zM384.83 64.97h1.96v1.96h-1.96zM386.79 64.97h1.96v1.96h-1.96zM388.75 64.97h1.96v1.96h-1.96zM406.37 64.97h1.96v1.96h-1.96zM425.95 64.97h1.96v1.96h-1.96zM435.74 64.97h1.96v1.96h-1.96zM441.61 64.97h1.96v1.96h-1.96zM451.4 64.97h1.96v1.96h-1.96zM455.32 64.97h1.96v1.96h-1.96zM378.96 66.92h1.96v1.96h-1.96zM386.79 66.92h1.96v1.96h-1.96zM388.75 66.92h1.96v1.96h-1.96zM402.45 66.92h1.96v1.96h-1.96zM408.33 66.92h1.96v1.96h-1.96zM422.03 66.92h1.96v1.96h-1.96zM427.91 66.92h1.96v1.96h-1.96zM461.19 66.92h1.96v1.96h-1.96zM465.11 66.92h1.96v1.96h-1.96zM380.92 68.88h1.96v1.96h-1.96zM384.83 68.88h1.96v1.96h-1.96zM388.75 68.88h1.96v1.96h-1.96zM392.66 68.88h1.96v1.96h-1.96zM402.45 68.88h1.96v1.96h-1.96zM406.37 68.88h1.96v1.96h-1.96zM423.99 68.88h1.96v1.96h-1.96zM425.95 68.88h1.96v1.96h-1.96zM437.7 68.88h1.96v1.96h-1.96zM439.66 68.88h1.96v1.96h-1.96zM449.45 68.88h1.96v1.96h-1.96zM459.24 68.88h1.96v1.96h-1.96zM472.94 68.88h1.96v1.96h-1.96zM382.87 70.84h1.96v1.96h-1.96zM394.62 70.84h1.96v1.96h-1.96zM406.37 70.84h1.96v1.96h-1.96zM423.99 70.84h1.96v1.96h-1.96zM425.95 70.84h1.96v1.96h-1.96zM429.87 70.84h1.96v1.96h-1.96zM447.49 70.84h1.96v1.96h-1.96zM451.4 70.84h1.96v1.96h-1.96zM461.19 70.84h1.96v1.96h-1.96zM465.11 70.84h1.96v1.96h-1.96zM388.75 72.8h1.96v1.96h-1.96zM390.71 72.8h1.96v1.96h-1.96zM394.62 72.8h1.96v1.96h-1.96zM400.5 72.8h1.96v1.96h-1.96zM427.91 72.8h1.96v1.96h-1.96zM433.78 72.8h1.96v1.96h-1.96zM439.66 72.8h1.96v1.96h-1.96zM451.4 72.8h1.96v1.96h-1.96zM378.96 74.76h1.96v1.96h-1.96zM384.83 74.76h1.96v1.96h-1.96zM386.79 74.76h1.96v1.96h-1.96zM388.75 74.76h1.96v1.96h-1.96zM390.71 74.76h1.96v1.96h-1.96zM392.66 74.76h1.96v1.96h-1.96zM404.41 74.76h1.96v1.96h-1.96zM416.16 74.76h1.96v1.96h-1.96zM425.95 74.76h1.96v1.96h-1.96zM427.91 74.76h1.96v1.96h-1.96zM433.78 74.76h1.96v1.96h-1.96zM437.7 74.76h1.96v1.96h-1.96zM461.19 74.76h1.96v1.96h-1.96zM386.79 76.71h1.96v1.96h-1.96zM392.66 76.71h1.96v1.96h-1.96zM398.54 76.71h1.96v1.96h-1.96zM404.41 76.71h1.96v1.96h-1.96zM406.37 76.71h1.96v1.96h-1.96zM429.87 76.71h1.96v1.96h-1.96zM470.98 76.71h1.96v1.96h-1.96zM377 78.67h1.96v1.96h-1.96zM388.75 78.67h1.96v1.96h-1.96zM396.58 78.67h1.96v1.96h-1.96zM398.54 78.67h1.96v1.96h-1.96zM406.37 78.67h1.96v1.96h-1.96zM418.12 78.67h1.96v1.96h-1.96zM451.4 78.67h1.96v1.96h-1.96zM453.36 78.67h1.96v1.96h-1.96zM459.24 78.67h1.96v1.96h-1.96zM384.83 80.63h1.96v1.96h-1.96zM388.75 80.63h1.96v1.96h-1.96zM390.71 80.63h1.96v1.96h-1.96zM392.66 80.63h1.96v1.96h-1.96zM396.58 80.63h1.96v1.96h-1.96zM398.54 80.63h1.96v1.96h-1.96zM404.41 80.63h1.96v1.96h-1.96zM422.03 80.63h1.96v1.96h-1.96zM459.24 80.63h1.96v1.96h-1.96zM467.07 80.63h1.96v1.96h-1.96zM378.96 82.59h1.96v1.96h-1.96zM380.92 82.59h1.96v1.96h-1.96zM382.87 82.59h1.96v1.96h-1.96zM388.75 82.59h1.96v1.96h-1.96zM390.71 82.59h1.96v1.96h-1.96zM400.5 82.59h1.96v1.96h-1.96zM402.45 82.59h1.96v1.96h-1.96zM404.41 82.59h1.96v1.96h-1.96zM418.12 82.59h1.96v1.96h-1.96zM435.74 82.59h1.96v1.96h-1.96zM449.45 82.59h1.96v1.96h-1.96zM453.36 82.59h1.96v1.96h-1.96zM382.87 84.55h1.96v1.96h-1.96zM386.79 84.55h1.96v1.96h-1.96zM388.75 84.55h1.96v1.96h-1.96zM394.62 84.55h1.96v1.96h-1.96zM396.58 84.55h1.96v1.96h-1.96zM398.54 84.55h1.96v1.96h-1.96zM406.37 84.55h1.96v1.96h-1.96zM425.95 84.55h1.96v1.96h-1.96zM433.78 84.55h1.96v1.96h-1.96zM447.49 84.55h1.96v1.96h-1.96zM467.07 84.55h1.96v1.96h-1.96zM469.03 84.55h1.96v1.96h-1.96zM388.75 86.5h1.96v1.96h-1.96zM394.62 86.5h1.96v1.96h-1.96zM396.58 86.5h1.96v1.96h-1.96zM412.24 86.5h1.96v1.96h-1.96zM422.03 86.5h1.96v1.96h-1.96zM429.87 86.5h1.96v1.96h-1.96zM435.74 86.5h1.96v1.96h-1.96zM437.7 86.5h1.96v1.96h-1.96zM443.57 86.5h1.96v1.96h-1.96zM457.28 86.5h1.96v1.96h-1.96zM467.07 86.5h1.96v1.96h-1.96zM378.96 88.46h1.96v1.96h-1.96zM402.45 88.46h1.96v1.96h-1.96zM404.41 88.46h1.96v1.96h-1.96zM410.29 88.46h1.96v1.96h-1.96zM443.57 88.46h1.96v1.96h-1.96zM447.49 88.46h1.96v1.96h-1.96zM402.45 90.42h1.96v1.96h-1.96zM406.37 90.42h1.96v1.96h-1.96zM408.33 90.42h1.96v1.96h-1.96zM412.24 90.42h1.96v1.96h-1.96zM429.87 90.42h1.96v1.96h-1.96zM388.75 92.38h1.96v1.96h-1.96zM396.58 92.38h1.96v1.96h-1.96zM400.5 92.38h1.96v1.96h-1.96zM402.45 92.38h1.96v1.96h-1.96zM404.41 92.38h1.96v1.96h-1.96zM408.33 92.38h1.96v1.96h-1.96zM410.29 92.38h1.96v1.96h-1.96zM451.4 92.38h1.96v1.96h-1.96zM465.11 92.38h1.96v1.96h-1.96zM378.96 94.34h1.96v1.96h-1.96zM384.83 94.34h1.96v1.96h-1.96zM392.66 94.34h1.96v1.96h-1.96zM406.37 94.34h1.96v1.96h-1.96zM412.24 94.34h1.96v1.96h-1.96zM414.2 94.34h1.96v1.96h-1.96zM416.16 94.34h1.96v1.96h-1.96zM420.08 94.34h1.96v1.96h-1.96zM422.03 94.34h1.96v1.96h-1.96zM423.99 94.34h1.96v1.96h-1.96zM433.78 94.34h1.96v1.96h-1.96zM443.57 94.34h1.96v1.96h-1.96zM445.53 94.34h1.96v1.96h-1.96zM377 96.29h1.96v1.96h-1.96zM384.83 96.29h1.96v1.96h-1.96zM406.37 96.29h1.96v1.96h-1.96zM412.24 96.29h1.96v1.96h-1.96zM418.12 96.29h1.96v1.96h-1.96zM422.03 96.29h1.96v1.96h-1.96zM431.82 96.29h1.96v1.96h-1.96zM435.74 96.29h1.96v1.96h-1.96zM439.66 96.29h1.96v1.96h-1.96zM469.03 96.29h1.96v1.96h-1.96zM470.98 96.29h1.96v1.96h-1.96zM380.92 98.25h1.96v1.96h-1.96zM388.75 98.25h1.96v1.96h-1.96zM390.71 98.25h1.96v1.96h-1.96zM400.5 98.25h1.96v1.96h-1.96zM406.37 98.25h1.96v1.96h-1.96zM408.33 98.25h1.96v1.96h-1.96zM410.29 98.25h1.96v1.96h-1.96zM418.12 98.25h1.96v1.96h-1.96zM420.08 98.25h1.96v1.96h-1.96zM422.03 98.25h1.96v1.96h-1.96zM427.91 98.25h1.96v1.96h-1.96zM472.94 98.25h1.96v1.96h-1.96zM386.79 100.21h1.96v1.96h-1.96zM388.75 100.21h1.96v1.96h-1.96zM390.71 100.21h1.96v1.96h-1.96zM410.29 100.21h1.96v1.96h-1.96zM425.95 100.21h1.96v1.96h-1.96zM431.82 100.21h1.96v1.96h-1.96zM435.74 100.21h1.96v1.96h-1.96zM457.28 100.21h1.96v1.96h-1.96zM377 102.17h1.96v1.96h-1.96zM378.96 102.17h1.96v1.96h-1.96zM386.79 102.17h1.96v1.96h-1.96zM394.62 102.17h1.96v1.96h-1.96zM402.45 102.17h1.96v1.96h-1.96zM412.24 102.17h1.96v1.96h-1.96zM414.2 102.17h1.96v1.96h-1.96zM416.16 102.17h1.96v1.96h-1.96zM418.12 102.17h1.96v1.96h-1.96zM423.99 102.17h1.96v1.96h-1.96zM445.53 102.17h1.96v1.96h-1.96zM449.45 102.17h1.96v1.96h-1.96zM451.4 102.17h1.96v1.96h-1.96zM378.96 104.13h1.96v1.96h-1.96zM382.87 104.13h1.96v1.96h-1.96zM392.66 104.13h1.96v1.96h-1.96zM416.16 104.13h1.96v1.96h-1.96zM449.45 104.13h1.96v1.96h-1.96zM461.19 104.13h1.96v1.96h-1.96zM388.75 106.08h1.96v1.96h-1.96zM392.66 106.08h1.96v1.96h-1.96zM412.24 106.08h1.96v1.96h-1.96zM423.99 106.08h1.96v1.96h-1.96zM427.91 106.08h1.96v1.96h-1.96zM441.61 106.08h1.96v1.96h-1.96zM461.19 106.08h1.96v1.96h-1.96zM392.66 108.04h1.96v1.96h-1.96zM404.41 108.04h1.96v1.96h-1.96zM410.29 108.04h1.96v1.96h-1.96zM420.08 108.04h1.96v1.96h-1.96zM427.91 108.04h1.96v1.96h-1.96zM433.78 108.04h1.96v1.96h-1.96zM463.15 108.04h1.96v1.96h-1.96z" fill="#000"/>
<rect x="376.5" y="11.6" width="98.9" height="97.5" fill="none" stroke="#8fd68f" stroke-width="1"/>
<path d="M368.6 62.92Q367.9 69.13 366.27 75.16M319 109.5Q302.66 94.52 280.71 91.48M342.94 16.25Q304.49 15.15 274.03 38.64M357.29 91.48Q304.56 96.27 269.4 56.68M367.82 69.11Q316.7 71.87 270.18 50.49M360.96 86.43Q308.94 90.77 269.4 56.68M363.97 80.96Q359.35 89.12 353.02 96.03M366.27 75.16Q315.25 69.27 274.03 38.64M368.6 56.68Q331.94 92.49 280.71 91.48M366.27 75.16Q314.03 75.08 271.73 44.44M348.21 19.59Q299.37 45.54 289.79 100.01M363.97 38.64Q319.63 49.82 277.04 33.17M367.82 50.49Q323.99 67.67 289.79 100.01M348.21 19.59Q320.9 61.82 277.04 86.43M353.02 96.03Q321.53 55.19 270.18 50.49M366.27 44.44Q312 32.54 270.18 69.11M312.77 109.11Q331.08 59.04 306.64 11.66M353.02 23.57Q348.88 76.23 306.64 107.94M300.7 106.01Q315.78 59.39 312.77 10.49M363.97 80.96Q314.18 97.92 270.18 69.11M348.21 19.59Q323.61 23.31 300.7 13.59M366.27 44.44Q358.5 64.79 360.96 86.43M331.36 11.66Q329.95 64.95 289.79 100.01M342.94 103.35Q321.39 57.83 280.71 28.12M368.6 56.68Q320.04 43.2 270.18 50.49M360.96 86.43Q317.79 60.94 295.06 16.25M270.18 50.49Q279.76 27.34 300.7 13.59M357.29 28.12Q320.57 62.66 271.73 75.16M353.02 23.57Q331.54 68.91 295.06 103.35M360.96 86.43Q319.75 59.09 295.06 16.25M366.27 75.16Q327.77 78.44 300.7 106.01M357.29 91.48Q344.88 95.42 337.3 106.01M337.3 106.01Q305.14 66.32 295.06 16.25M337.3 106.01Q341.84 50.76 300.7 13.59M325.23 10.49Q350.82 57.8 331.36 107.94M363.97 38.64Q321.97 67.3 271.73 75.16M366.27 44.44Q318.64 54.15 270.18 50.49M357.29 91.48Q332.4 47.22 289.79 19.59M357.29 91.48Q310.64 68.71 284.98 23.57M368.6 62.92Q319.51 51.64 269.4 56.68M270.18 69.11Q269.09 56.66 271.73 44.44M342.94 16.25Q302.32 50.63 295.06 103.35M357.29 91.48Q318.83 59.91 306.64 11.66M368.6 62.92Q341.07 94.57 300.7 106.01M357.29 28.12Q361.23 43.08 368.6 56.68M277.04 33.17Q287.44 21.65 300.7 13.59M363.97 38.64Q321.03 67.69 269.4 62.92M337.3 13.59Q328.85 66.05 284.98 96.03M331.36 11.66Q307.98 46.48 269.4 62.92M357.29 91.48Q331.78 46.19 284.98 23.57M357.29 91.48Q323.85 52.16 274.03 38.64M368.6 56.68Q322.74 30.22 271.73 44.44M363.97 38.64Q328.41 72.75 284.98 96.03M357.29 28.12Q343.95 77.93 300.7 106.01M368.6 62.92Q360.65 73.33 360.96 86.43M331.36 11.66Q357.47 49.92 353.02 96.03M277.04 86.43Q289.87 46.09 312.77 10.49M312.77 109.11Q323.71 59.5 306.64 11.66M348.21 100.01Q297.18 83.04 277.04 33.17M325.23 109.11Q293.6 94.76 270.18 69.11M348.21 19.59Q315.52 58.67 319 109.5M367.82 50.49Q323.02 27.95 274.03 38.64M366.27 44.44Q313.61 51.3 284.98 96.03M368.6 62.92Q316.79 66.6 277.04 33.17M342.94 16.25Q348.84 35.12 366.27 44.44M366.27 44.44Q341.22 90.38 289.79 100.01M348.21 100.01Q320.37 59.15 306.64 11.66M368.6 62.92Q318.63 60.73 280.71 28.12M360.96 86.43Q336.15 39.06 284.98 23.57M319 10.1Q295.69 50.57 284.98 96.03M366.27 44.44Q319 25.43 271.73 44.44M319 109.5Q317.15 60.15 300.7 13.59M295.06 103.35Q322.7 60.51 312.77 10.49M337.3 13.59Q324.6 64.44 277.04 86.43M353.02 23.57Q312.47 55.06 295.06 103.35M325.23 109.11Q319 106.23 312.77 109.11M368.6 62.92Q317.11 52.46 277.04 86.43M366.27 44.44Q317.6 37.61 270.18 50.49M325.23 10.49Q307.16 59.05 319 109.5M367.82 69.11Q328.26 76.64 300.7 106.01M366.27 44.44Q315.47 48.93 271.73 75.16M368.6 56.68Q324.9 90.71 271.73 75.16M277.04 86.43Q268.75 66.15 271.73 44.44M331.36 11.66Q314.93 59.8 331.36 107.94M284.98 96.03Q288.23 49.8 312.77 10.49M360.96 33.17Q312.04 32.69 269.4 56.68M360.96 33.17Q337.78 67.24 331.36 107.94M319 10.1Q306.75 60.57 325.23 109.11M342.94 16.25Q302.28 17.57 271.73 44.44M319 10.1Q282.84 50.51 295.06 103.35M357.29 28.12Q356.31 74.57 325.23 109.11M319 109.5Q302.65 85.56 274.03 80.96M367.82 69.11Q320.22 53.42 270.18 50.49M360.96 33.17Q314.66 53.83 280.71 91.48M363.97 80.96Q321.33 56.98 289.79 19.59M368.6 62.92Q321.97 44.24 271.73 44.44M337.3 106.01Q289.42 91.3 271.73 44.44M367.82 69.11Q345.75 101.95 306.64 107.94M366.27 44.44Q347.7 73.3 337.3 106.01M367.82 50.49Q317.34 51.1 270.18 69.11M348.21 19.59Q304.21 47.57 284.98 96.03M342.94 16.25Q296.18 35.5 274.03 80.96M269.4 56.68Q274.62 35.4 289.79 19.59M353.02 96.03Q328.22 108.13 300.7 106.01M366.27 44.44Q337.62 89.14 284.98 96.03M366.27 75.16Q324.42 76.48 289.79 100.01M366.27 75.16Q319 63.77 271.73 75.16M337.3 106.01Q302 95.93 271.73 75.16M271.73 44.44Q284.21 34.53 289.79 19.59M360.96 86.43Q311.46 78.85 270.18 50.49M360.96 33.17Q313.57 54.7 295.06 103.35M353.02 96.03Q312.53 63.91 300.7 13.59M348.21 19.59Q310.48 55.11 300.7 106.01M366.27 75.16Q334.06 80.53 319 109.5M331.36 107.94Q333.57 56.06 306.64 11.66M360.96 33.17Q330.3 31.25 306.64 11.66M363.97 38.64Q313 28.32 269.4 56.68M367.82 50.49Q323.77 84.79 270.18 69.11M368.6 56.68Q321.85 82.33 270.18 69.11M367.82 69.11Q327.28 42.21 280.71 28.12M342.94 16.25Q339.38 54.57 360.96 86.43M342.94 103.35Q335.37 50.8 295.06 16.25M367.82 50.49Q366.61 59.8 367.82 69.11M269.4 56.68Q277.23 36.84 289.79 19.59M337.3 106.01Q319.16 59.68 280.71 28.12M366.27 44.44Q326.45 20.75 280.71 28.12M277.04 33.17Q289.38 19.03 306.64 11.66M353.02 96.03Q310.21 64.63 306.64 11.66M367.82 50.49Q322.55 31.72 274.03 38.64M274.03 38.64Q289.87 28.78 300.7 13.59M353.02 96.03Q337.06 44.86 289.79 19.59M342.94 103.35Q300.86 88.39 269.4 56.68M348.21 100.01Q306.49 68.89 289.79 19.59M367.82 69.11Q329.26 33.89 277.04 33.17M348.21 100.01Q318.93 59.89 271.73 44.44M319 109.5Q323.73 58.9 300.7 13.59M357.29 28.12Q351.85 59.8 357.29 91.48M319 10.1Q303.25 46.77 270.18 69.11M360.96 33.17Q321.98 62.6 295.06 103.35M331.36 107.94Q313.17 60.91 312.77 10.49M331.36 107.94Q287.37 93.48 270.18 50.49M342.94 16.25Q319 8.87 295.06 16.25M337.3 106.01Q303.43 67.13 295.06 16.25M348.21 19.59Q331.07 71.13 280.71 91.48M367.82 69.11Q316.73 66.8 274.03 38.64M366.27 44.44Q319.85 66.52 269.4 56.68M366.27 75.16Q349.33 101.54 319 109.5M337.3 13.59Q311.28 36.04 277.04 33.17M342.94 103.35Q298.81 76.5 280.71 28.12M363.97 80.96Q319.32 64.84 277.04 86.43M366.27 44.44Q316.26 53.97 277.04 86.43M331.36 11.66Q307.91 59.8 331.36 107.94M319 10.1Q335.16 25.45 357.29 28.12M357.29 91.48Q311.83 64.35 306.64 11.66M348.21 19.59Q316.24 15.99 284.98 23.57M325.23 10.49Q294.14 14.58 274.03 38.64M331.36 107.94Q290.12 73.39 289.79 19.59M325.23 10.49Q340.44 58.45 331.36 107.94M363.97 38.64Q343 65.96 348.21 100.01M368.6 62.92Q321.77 45.29 271.73 44.44M280.71 91.48Q277.46 57.19 284.98 23.57M366.27 44.44Q327.84 82.12 274.03 80.96M306.64 107.94Q297.4 93.84 280.71 91.48M353.02 96.03Q313.82 64.66 284.98 23.57M366.27 44.44Q317.09 29.43 270.18 50.49M325.23 10.49Q311.4 19.97 295.06 16.25M325.23 10.49Q339.57 40.48 368.6 56.68M348.21 19.59Q319 8.2 289.79 19.59M319 10.1Q285.06 27.93 269.4 62.92M319 10.1Q309.65 10.81 300.7 13.59M367.82 69.11Q322.01 83.59 274.03 80.96M312.77 109.11Q326.49 58.37 295.06 16.25M357.29 28.12Q321.66 17.49 284.98 23.57M277.04 86.43Q286.11 61.87 274.03 38.64M348.21 19.59Q304.28 49.1 289.79 100.01M353.02 96.03Q305.14 71.27 289.79 19.59M357.29 91.48Q306.05 92.5 269.4 56.68M357.29 28.12Q366.16 44.48 368.6 62.92M353.02 96.03Q307.87 87.9 269.4 62.92M367.82 50.49Q318.71 64.41 271.73 44.44M366.27 75.16Q316.74 95.7 270.18 69.11M368.6 56.68Q326.39 31.03 277.04 33.17M348.21 100.01Q318.87 60.04 269.4 56.68M337.3 106.01Q324.75 56.15 284.98 23.57M289.79 100.01Q308.67 59.8 289.79 19.59M357.29 28.12Q325.35 69.81 274.03 80.96M331.36 11.66Q348.62 19.03 360.96 33.17M342.94 103.35Q318.47 60.24 280.71 28.12M300.7 106.01Q287.84 65.74 284.98 23.57M337.3 13.59Q315.82 57.49 280.71 91.48M367.82 69.11Q314.76 68.81 280.71 28.12M325.23 10.49Q345.8 54.69 342.94 103.35M319 10.1Q349.83 22.54 367.82 50.49M368.6 62.92Q319 51.14 269.4 62.92M353.02 96.03Q320.33 59.17 312.77 10.49M325.23 10.49Q290.45 25.28 269.4 56.68M312.77 109.11Q300.31 93.79 280.71 91.48M280.71 91.48Q302.26 54.36 306.64 11.66M353.02 96.03Q306.94 81.74 270.18 50.49M368.6 62.92Q322.13 35.04 270.18 50.49M348.21 100.01Q338.9 102.1 331.36 107.94M342.94 16.25Q331.35 67.63 289.79 100.01M342.94 103.35Q299.97 68.75 300.7 13.59M363.97 80.96Q311.54 78.64 271.73 44.44M348.21 100.01Q309.66 68.57 280.71 28.12M363.97 80.96Q344.32 90.4 331.36 107.94M325.23 10.49Q297.73 21.11 274.03 38.64M357.29 91.48Q346.34 42.45 306.64 11.66M360.96 33.17Q323.94 67.58 277.04 86.43M348.21 19.59Q337.71 68.61 306.64 107.94M342.94 16.25Q298.4 16.03 270.18 50.49M363.97 80.96Q335.8 41.91 295.06 16.25M367.82 50.49Q334.94 88.8 284.98 96.03M363.97 38.64Q360.43 73.26 342.94 103.35M368.6 62.92Q337.48 99.06 289.79 100.01M342.94 16.25Q322.86 63.42 277.04 86.43M360.96 33.17Q358.93 67.42 348.21 100.01M360.96 33.17Q321.79 68.39 269.4 62.92M367.82 69.11Q325.67 42.96 277.04 33.17M360.96 86.43Q308.78 70.69 289.79 19.59M280.71 28.12Q293.42 24.6 300.7 13.59M366.27 44.44Q313.27 29.77 269.4 62.92M312.77 109.11Q313.18 60.54 300.7 13.59M331.36 107.94Q319.29 59.66 289.79 19.59M366.27 44.44Q317.36 57.54 289.79 100.01M337.3 13.59Q290.44 36.17 277.04 86.43M337.3 13.59Q345.41 68.38 306.64 107.94M319 109.5Q312.04 62.06 289.79 19.59M284.98 96.03Q304.69 58.9 289.79 19.59M360.96 33.17Q329 34.55 306.64 11.66M353.02 23.57Q309.96 47.36 274.03 80.96M319 10.1Q347.65 56.18 331.36 107.94M331.36 11.66Q327.43 59.27 337.3 106.01M367.82 50.49Q333.27 74.99 306.64 107.94M353.02 23.57Q367.56 56.74 357.29 91.48M368.6 56.68Q326.13 32.04 277.04 33.17M360.96 33.17Q362.81 74.03 337.3 106.01M367.82 50.49Q335.15 19.01 289.79 19.59M368.6 56.68Q318.45 57.67 274.03 80.96M274.03 80.96Q273.26 71.54 269.4 62.92M337.3 13.59Q348.4 19.34 357.29 28.12M280.71 91.48Q298.96 55.98 295.06 16.25M348.21 19.59Q301.49 45.31 284.98 96.03M357.29 91.48Q338.61 43.58 295.06 16.25M360.96 33.17Q317.43 54.98 269.4 62.92M295.06 103.35Q289.74 100.07 284.98 96.03M348.21 19.59Q310.29 55.01 300.7 106.01M325.23 10.49Q323.75 60.71 306.64 107.94M368.6 62.92Q319.66 62.37 277.04 86.43M269.4 56.68Q285.67 41.48 289.79 19.59M319 109.5Q306.39 98.62 289.79 100.01M325.23 109.11Q298.58 103.2 277.04 86.43M366.27 75.16Q334.74 35 284.98 23.57M325.23 10.49Q316.02 60.37 342.94 103.35M368.6 62.92Q351.64 90.45 325.23 109.11M360.96 33.17Q318.06 58.8 289.79 100.01M367.82 50.49Q323.62 74.03 274.03 80.96M348.21 19.59Q345.04 72.05 306.64 107.94M269.4 56.68Q270.1 50.47 271.73 44.44M319 10.1Q345.24 54.79 337.3 106.01M360.96 86.43Q323.46 52.77 277.04 33.17M331.36 11.66Q342.72 48.64 363.97 80.96M331.36 11.66Q309.24 57.3 306.64 107.94M363.97 38.64Q314.73 46.66 270.18 69.11M284.98 96.03Q271.39 72.03 271.73 44.44M342.94 16.25Q292.39 34.81 277.04 86.43M368.6 56.68Q319.28 60.91 274.03 80.96M367.82 69.11Q321.12 93.53 271.73 75.16M337.3 13.59Q300.73 53.87 306.64 107.94M348.21 19.59Q326.94 62.38 319 109.5M325.23 10.49Q304.47 42.23 269.4 56.68M363.97 80.96Q326.72 40.29 271.73 44.44M342.94 16.25Q333.19 68.81 289.79 100.01M368.6 62.92Q319 78.39 269.4 62.92M337.3 13.59Q314.18 55.81 277.04 86.43M360.96 33.17Q320.33 63.15 270.18 69.11M331.36 11.66Q308.41 47 269.4 62.92M368.6 62.92Q319.9 45.5 269.4 56.68M342.94 16.25Q328.24 11.34 312.77 10.49M348.21 19.59Q347.55 69.08 319 109.5M368.6 62.92Q365.66 78.27 357.29 91.48M368.6 56.68Q324.54 88.87 271.73 75.16M363.97 80.96Q321.28 57.04 289.79 19.59M348.21 19.59Q352.23 24.41 357.29 28.12M337.3 13.59Q329.45 57.12 357.29 91.48M368.6 56.68Q333.19 76.96 306.64 107.94M331.36 11.66Q294.41 15.08 271.73 44.44M270.18 69.11Q269.09 56.66 271.73 44.44M271.73 75.16Q268.92 59.8 271.73 44.44M342.94 16.25Q342.34 48.82 367.82 69.11M353.02 23.57Q305.03 40.58 274.03 80.96M367.82 69.11Q361.19 86.58 348.21 100.01M353.02 23.57Q351.17 55.74 360.96 86.43M357.29 28.12Q328.26 31.3 306.64 11.66M342.94 16.25Q310.32 58.15 325.23 109.11M366.27 44.44Q320.44 61.54 295.06 103.35M360.96 33.17Q312.42 47.82 274.03 80.96M269.4 62.92Q296.86 43.72 306.64 11.66M367.82 69.11Q318.91 59.34 277.04 86.43M366.27 75.16Q329.58 37.31 277.04 33.17M366.27 44.44Q319 66.24 271.73 44.44M312.77 109.11Q288.21 88.72 269.4 62.92M271.73 75.16Q277.18 33.26 312.77 10.49M363.97 80.96Q317.57 61.32 295.06 16.25M368.6 62.92Q317.87 41.8 270.18 69.11M342.94 103.35Q306.44 108.7 277.04 86.43M348.21 100.01Q338.83 45.39 289.79 19.59M306.64 107.94Q309.43 61.63 289.79 19.59M367.82 69.11Q320.15 53.79 270.18 50.49M319 10.1Q303.8 32.15 277.04 33.17M367.82 69.11Q321.26 47.97 270.18 50.49M368.6 56.68Q321.14 42.85 271.73 44.44M300.7 106.01Q327.92 60.93 312.77 10.49M331.36 11.66Q343.09 15.97 353.02 23.57M319 10.1Q323.58 61.29 289.79 100.01M331.36 11.66Q294.31 36.61 271.73 75.16M331.36 107.94Q342.22 55.37 312.77 10.49M342.94 16.25Q324.87 60.92 325.23 109.11M289.79 100.01Q298.35 58.5 295.06 16.25M348.21 19.59Q354.36 30.54 363.97 38.64M353.02 23.57Q325.78 69.13 274.03 80.96M319 10.1Q351.76 24.91 368.6 56.68M306.64 107.94Q322.27 59.59 300.7 13.59M366.27 44.44Q316.88 53.29 271.73 75.16M363.97 80.96Q348.18 87.2 342.94 103.35M360.96 33.17Q315.14 53.72 277.04 86.43M353.02 23.57Q303.5 35.38 271.73 75.16M325.23 10.49Q351.11 33.24 368.6 62.92M306.64 107.94Q286.96 98.53 274.03 80.96M348.21 19.59Q313.35 57.96 319 109.5M325.23 109.11Q315.87 109.58 306.64 107.94M348.21 19.59Q343.19 51.94 366.27 75.16M360.96 33.17Q332.24 78.02 280.71 91.48M325.23 109.11Q303.75 62.71 306.64 11.66M348.21 100.01Q316.12 63.28 274.03 38.64M319 109.5Q316.92 60.34 295.06 16.25M342.94 103.35Q341.83 52.38 312.77 10.49M342.94 16.25Q300.89 48.31 289.79 100.01M367.82 50.49Q321.26 54.08 289.79 19.59M360.96 33.17Q321.86 67.04 270.18 69.11M319 10.1Q329.77 61.16 306.64 107.94M312.77 109.11Q289.06 101 274.03 80.96M337.3 106.01Q291.88 79.5 280.71 28.12M367.82 50.49Q324.67 77.26 274.03 80.96M368.6 56.68Q318.99 59.77 277.04 86.43M337.3 106.01Q319 110.2 300.7 106.01M357.29 28.12Q359.04 34.39 363.97 38.64M357.29 91.48Q332.33 45.61 284.98 23.57M342.94 16.25Q334.91 69.9 289.79 100.01M368.6 56.68Q318.27 48.26 269.4 62.92M353.02 23.57Q359.35 30.48 363.97 38.64M368.6 62.92Q319.84 73.19 270.18 69.11M363.97 38.64Q334.75 31.16 312.77 10.49M360.96 33.17Q316.67 56.98 284.98 96.03M337.3 106.01Q323.77 55.85 277.04 33.17M331.36 107.94Q296.28 67.18 300.7 13.59M368.6 56.68Q361.29 67.87 363.97 80.96M367.82 50.49Q319 26.13 270.18 50.49M367.82 50.49Q317.35 33.52 269.4 56.68M360.96 86.43Q324.87 51.72 280.71 28.12M360.96 33.17Q327.98 64.03 325.23 109.11M342.94 103.35Q315.4 60.97 312.77 10.49M348.21 100.01Q340.68 51.21 312.77 10.49M367.82 69.11Q357.93 81.2 353.02 96.03M337.3 106.01Q296.37 78.52 277.04 33.17M357.29 28.12Q308.58 33.49 269.4 62.92M325.23 10.49Q359.24 34.26 366.27 75.16M342.94 16.25Q363.94 45.2 363.97 80.96M367.82 50.49Q353.6 88.42 319 109.5M348.21 19.59Q326.03 66.4 280.71 91.48M319 10.1Q321.38 59.35 337.3 106.01M337.3 106.01Q343.24 53.58 312.77 10.49M363.97 38.64Q312.36 39.36 270.18 69.11M368.6 62.92Q320.81 54.23 277.04 33.17M270.18 50.49Q279.76 27.34 300.7 13.59M337.3 13.59Q300.12 52.33 300.7 106.01M342.94 103.35Q330.72 52.36 289.79 19.59M342.94 16.25Q325.48 59.8 342.94 103.35M337.3 13.59Q293.34 47.73 295.06 103.35M366.27 75.16Q353.12 96.13 331.36 107.94M360.96 86.43Q319.52 59.25 289.79 19.59M331.36 107.94Q291.15 70.83 295.06 16.25M331.36 107.94Q290.52 73.2 289.79 19.59M325.23 109.11Q300.55 67.11 289.79 19.59M366.27 44.44Q366.41 82.11 337.3 106.01M319 109.5Q299.92 73.67 271.73 44.44M348.21 19.59Q304.22 49.06 289.79 100.01M300.7 106.01Q279.76 92.26 270.18 69.11M363.97 80.96Q361.03 86.47 357.29 91.48M348.21 19.59Q337.74 56.23 360.96 86.43M342.94 103.35Q333.93 50.32 289.79 19.59M360.96 86.43Q330.28 47.79 289.79 19.59M342.94 16.25Q298.18 42.58 280.71 91.48M325.23 109.11Q311.1 63.52 284.98 23.57M274.03 80.96Q293.58 49.73 300.7 13.59M360.96 86.43Q309.9 82.77 270.18 50.49M342.94 16.25Q347.81 35.97 366.27 44.44M337.3 13.59Q338.43 56.09 353.02 96.03M363.97 38.64Q318.48 59.24 295.06 103.35M325.23 10.49Q281.71 36.14 277.04 86.43M368.6 56.68Q323.56 83.71 271.73 75.16M357.29 28.12Q303.69 27.26 270.18 69.11M319 109.5Q294.14 69.64 284.98 23.57M319 10.1Q332.64 59.8 319 109.5M366.27 75.16Q315.71 77.02 269.4 56.68M368.6 62.92Q319.41 53.32 269.4 56.68M337.3 106.01Q306.91 66.45 289.79 19.59M366.27 75.16Q330.74 81.15 306.64 107.94M342.94 103.35Q306.97 68.54 284.98 23.57M368.6 56.68Q320 43.88 270.18 50.49M325.23 109.11Q303.98 91.72 277.04 86.43M366.27 44.44Q317.74 39.77 270.18 50.49M368.6 56.68Q318.45 58.41 280.71 91.48M353.02 96.03Q343.09 103.63 331.36 107.94M319 109.5Q328.66 58.58 306.64 11.66M284.98 96.03Q295.42 62.78 277.04 33.17M357.29 28.12Q306.82 46.83 284.98 96.03M269.4 62.92Q275.93 32.47 300.7 13.59M363.97 38.64Q318.32 58.73 280.71 91.48M348.21 19.59Q307.3 14.22 274.03 38.64M353.02 23.57Q322 64.53 271.73 75.16M319 10.1Q287.39 39.74 274.03 80.96M367.82 50.49Q319.76 71.85 269.4 56.68M367.82 50.49Q350.86 93.73 306.64 107.94M312.77 109.11Q305.06 68.65 271.73 44.44M357.29 28.12Q358.74 37.95 366.27 44.44M357.29 91.48Q305.49 78.39 277.04 33.17M360.96 86.43Q320.26 79.79 280.71 91.48M325.23 109.11Q293.23 71.92 284.98 23.57M331.36 107.94Q306.18 80 270.18 69.11M368.6 56.68Q327.59 81.49 280.71 91.48M325.23 10.49Q311.93 55.31 277.04 86.43M357.29 91.48Q323.62 56.87 306.64 11.66M348.21 19.59Q355.36 25.66 360.96 33.17M342.94 103.35Q328.29 54.69 295.06 16.25M366.27 75.16Q314 75.2 271.73 44.44M325.23 10.49Q332.25 60.63 319 109.5M295.06 103.35Q304 58.86 300.7 13.59M312.77 109.11Q316.62 59.95 306.64 11.66M337.3 106.01Q322.26 58.01 289.79 19.59M342.94 103.35Q305.97 110.55 277.04 86.43M353.02 23.57Q336.15 70.69 300.7 106.01M363.97 38.64Q324.46 16.61 280.71 28.12M368.6 62.92Q318.16 62.39 277.04 33.17M363.97 38.64Q329.33 74.02 284.98 96.03M331.36 11.66Q342.14 64.21 312.77 109.11M363.97 38.64Q315.1 28.96 270.18 50.49M366.27 44.44Q321.08 61.76 306.64 107.94M366.27 44.44Q336.35 83.68 289.79 100.01M353.02 23.57Q302.95 37.71 274.03 80.96M360.96 86.43Q343.7 93.8 331.36 107.94M312.77 109.11Q286.4 80.49 271.73 44.44M325.23 109.11Q298.03 65.18 300.7 13.59M366.27 44.44Q316.42 51.85 271.73 75.16M363.97 80.96Q317.27 62.94 277.04 33.17M368.6 56.68Q352.73 78.34 342.94 103.35M367.82 50.49Q322.02 63.96 295.06 103.35M325.23 109.11Q305.35 78.58 270.18 69.11M353.02 23.57Q322.37 33.1 295.06 16.25M366.27 75.16Q362.54 80.29 360.96 86.43M357.29 28.12Q329 73.57 277.04 86.43M274.03 38.64Q289.06 18.6 312.77 10.49M300.7 106.01Q279.75 78.27 271.73 44.44M342.94 103.35Q322.87 56.6 280.71 28.12M367.82 50.49Q325.92 86.76 271.73 75.16M360.96 86.43Q312.7 79.2 269.4 56.68M357.29 28.12Q344.6 78.4 300.7 106.01M353.02 96.03Q298.65 87.81 274.03 38.64M269.4 56.68Q275 39.1 284.98 23.57M342.94 103.35Q296.33 74.18 289.79 19.59M325.23 10.49Q328.34 54.67 363.97 80.96M368.6 56.68Q344.55 73.84 342.94 103.35M337.3 13.59Q308.79 55 295.06 103.35M319 10.1Q346.46 16.53 363.97 38.64M331.36 107.94Q295.42 79.31 274.03 38.64M319 10.1Q338.06 61 312.77 109.11M337.3 13.59Q300.99 14.31 274.03 38.64M366.27 44.44Q321.58 73.3 269.4 62.92M325.23 109.11Q297.15 62.56 312.77 10.49M366.27 75.16Q343.32 33.9 300.7 13.59" stroke="#36538c" stroke-width="0.33" stroke-opacity="0.88" fill="none"/>
<circle cx="319" cy="10.1" r="1.9" fill="#e8231e"/>
<circle cx="325.23" cy="10.49" r="1.9" fill="#e8231e"/>
<circle cx="331.36" cy="11.66" r="1.9" fill="#e8231e"/>
<circle cx="337.3" cy="13.59" r="1.9" fill="#e8231e"/>
<circle cx="342.94" cy="16.25" r="1.9" fill="#e8231e"/>
<circle cx="348.21" cy="19.59" r="1.9" fill="#e8231e"/>
<circle cx="353.02" cy="23.57" r="1.9" fill="#e8231e"/>
<circle cx="357.29" cy="28.12" r="1.9" fill="#e8231e"/>
<circle cx="360.96" cy="33.17" r="1.9" fill="#e8231e"/>
<circle cx="363.97" cy="38.64" r="1.9" fill="#e8231e"/>
<circle cx="366.27" cy="44.44" r="1.9" fill="#e8231e"/>
<circle cx="367.82" cy="50.49" r="1.9" fill="#e8231e"/>
<circle cx="368.6" cy="56.68" r="1.9" fill="#e8231e"/>
<circle cx="368.6" cy="62.92" r="1.9" fill="#e8231e"/>
<circle cx="367.82" cy="69.11" r="1.9" fill="#e8231e"/>
<circle cx="366.27" cy="75.16" r="1.9" fill="#e8231e"/>
<circle cx="363.97" cy="80.96" r="1.9" fill="#e8231e"/>
<circle cx="360.96" cy="86.43" r="1.9" fill="#e8231e"/>
<circle cx="357.29" cy="91.48" r="1.9" fill="#e8231e"/>
<circle cx="353.02" cy="96.03" r="1.9" fill="#e8231e"/>
<circle cx="348.21" cy="100.01" r="1.9" fill="#e8231e"/>
<circle cx="342.94" cy="103.35" r="1.9" fill="#e8231e"/>
<circle cx="337.3" cy="106.01" r="1.9" fill="#e8231e"/>
<circle cx="331.36" cy="107.94" r="1.9" fill="#e8231e"/>
<circle cx="325.23" cy="109.11" r="1.9" fill="#e8231e"/>
<circle cx="319" cy="109.5" r="1.9" fill="#e8231e"/>
<circle cx="312.77" cy="109.11" r="1.9" fill="#e8231e"/>
<circle cx="306.64" cy="107.94" r="1.9" fill="#e8231e"/>
<circle cx="300.7" cy="106.01" r="1.9" fill="#e8231e"/>
<circle cx="295.06" cy="103.35" r="1.9" fill="#e8231e"/>
<circle cx="289.79" cy="100.01" r="1.9" fill="#e8231e"/>
<circle cx="284.98" cy="96.03" r="1.9" fill="#e8231e"/>
<circle cx="280.71" cy="91.48" r="1.9" fill="#e8231e"/>
<circle cx="277.04" cy="86.43" r="1.9" fill="#e8231e"/>
<circle cx="274.03" cy="80.96" r="1.9" fill="#e8231e"/>
<circle cx="271.73" cy="75.16" r="1.9" fill="#e8231e"/>
<circle cx="270.18" cy="69.11" r="1.9" fill="#e8231e"/>
<circle cx="269.4" cy="62.92" r="1.9" fill="#e8231e"/>
<circle cx="269.4" cy="56.68" r="1.9" fill="#e8231e"/>
<circle cx="270.18" cy="50.49" r="1.9" fill="#e8231e"/>
<circle cx="271.73" cy="44.44" r="1.9" fill="#e8231e"/>
<circle cx="274.03" cy="38.64" r="1.9" fill="#e8231e"/>
<circle cx="277.04" cy="33.17" r="1.9" fill="#e8231e"/>
<circle cx="280.71" cy="28.12" r="1.9" fill="#e8231e"/>
<circle cx="284.98" cy="23.57" r="1.9" fill="#e8231e"/>
<circle cx="289.79" cy="19.59" r="1.9" fill="#e8231e"/>
<circle cx="295.06" cy="16.25" r="1.9" fill="#e8231e"/>
<circle cx="300.7" cy="13.59" r="1.9" fill="#e8231e"/>
<circle cx="306.64" cy="11.66" r="1.9" fill="#e8231e"/>
<circle cx="312.77" cy="10.49" r="1.9" fill="#e8231e"/>
<text x="490.4" y="12.2" font-size="12.5" text-anchor="start" font-weight="bold" fill="#111">i)</text>
<rect x="555.8" y="8.4" width="26.2" height="71.8" fill="#f2bbc1"/>
<rect x="582" y="8.4" width="101.6" height="71.8" fill="#d7e9f6"/>
<path d="M581.36 42.83 L582 42.83 L582.64 42.83 L583.28 42.83 L583.92 42.83 L584.55 42.83 L585.19 42.83 L585.83 42.83 L586.47 42.83 L587.11 42.83 L587.75 42.83 L588.39 42.83 L589.03 42.83 L589.67 42.83 L590.31 42.83 L590.94 42.83 L591.58 42.83 L592.22 42.83 L592.86 42.83 L593.5 42.83 L594.14 42.83 L594.78 42.83 L595.42 42.83 L596.06 42.83 L596.7 42.72 L597.34 42.61 L597.97 42.5 L598.61 42.39 L599.25 42.28 L599.89 42.17 L600.53 42.06 L601.17 42.06 L601.81 42.06 L602.45 42.07 L603.09 42.07 L603.73 42.08 L604.36 42.08 L605 42.08 L605.64 42.09 L606.28 42.09 L606.92 42.1 L607.56 42.1 L608.2 42.1 L608.84 42.11 L609.48 42.11 L610.12 42.12 L610.75 42.12 L611.39 42.12 L612.03 42.13 L612.67 42.13 L613.31 42.14 L613.95 42.14 L614.59 42.14 L615.23 42.13 L615.87 42.09 L616.5 42.05 L617.14 42.02 L617.78 41.98 L618.42 41.94 L619.06 41.9 L619.7 41.87 L620.34 41.83 L620.98 41.79 L621.62 41.75 L622.26 41.71 L622.89 41.68 L623.53 41.64 L624.17 41.57 L624.81 41.4 L625.45 41.23 L626.09 41.06 L626.73 40.89 L627.37 40.72 L628.01 40.55 L628.65 40.38 L629.29 40.21 L629.92 39.97 L630.56 39.71 L631.2 39.45 L631.84 39.2 L632.48 38.94 L633.12 38.68 L633.76 38.43 L634.4 38.17 L635.04 37.8 L635.68 37.25 L636.31 36.71 L636.95 36.16 L637.59 35.62 L638.23 35.07 L638.87 34.45 L639.51 33.8 L640.15 33.15 L640.79 32.5 L641.43 31.85 L642.07 31.2 L642.7 30.53 L643.34 29.87 L643.98 29.2 L644.62 28.54 L645.26 27.87 L645.9 27.32 L646.54 26.84 L647.18 26.36 L647.82 25.88 L648.45 25.39 L649.09 24.91 L649.73 24.59 L650.37 24.27 L651.01 23.95 L651.65 23.63 L652.29 23.31 L652.93 23.06 L653.57 22.91 L654.21 22.76 L654.84 22.61 L655.48 22.46 L656.12 22.31 L656.76 22.16 L657.4 22.01 L658.04 21.86 L658.68 21.82 L659.32 21.77 L659.96 21.72 L660.6 21.67 L661.23 21.63 L661.87 21.58 L662.51 21.53 L663.15 21.48 L663.79 21.44 L664.43 21.39 L665.07 21.34 L665.71 21.31 L666.35 21.29 L666.99 21.26 L667.62 21.24 L668.26 21.22 L668.9 21.19 L669.54 21.17 L670.18 21.14 L670.82 21.12 L671.46 21.1 L672.1 21.07 L672.74 21.05 L673.38 21.03 L674.01 21 L674.65 20.98 L675.29 20.96 L675.93 20.96 L676.57 20.96 L677.21 20.96 L677.85 20.96 L678.49 20.96 L679.13 20.96 L679.77 20.96 L680.4 20.96 L681.04 20.96 L681.68 20.96 L682.32 20.96 L682.96 20.96 L683.6 20.96 L683.6 67.1 L682.96 67.1 L682.32 67.1 L681.68 67.1 L681.04 67.1 L680.4 67.1 L679.77 67.1 L679.13 67.1 L678.49 67.1 L677.85 67.1 L677.21 67.1 L676.57 67.1 L675.93 67.1 L675.29 67.1 L674.65 67.09 L674.01 67.07 L673.38 67.05 L672.74 67.03 L672.1 67.02 L671.46 67 L670.82 66.98 L670.18 66.96 L669.54 66.95 L668.9 66.93 L668.26 66.91 L667.62 66.89 L666.99 66.88 L666.35 66.86 L665.71 66.84 L665.07 66.82 L664.43 66.81 L663.79 66.79 L663.15 66.77 L662.51 66.75 L661.87 66.74 L661.23 66.64 L660.6 66.55 L659.96 66.46 L659.32 66.37 L658.68 66.27 L658.04 66.18 L657.4 66.09 L656.76 65.99 L656.12 65.9 L655.48 65.81 L654.84 65.72 L654.21 65.56 L653.57 65.3 L652.93 65.05 L652.29 64.79 L651.65 64.53 L651.01 64.28 L650.37 64.02 L649.73 63.76 L649.09 63.51 L648.45 63.03 L647.82 62.54 L647.18 62.06 L646.54 61.58 L645.9 61.1 L645.26 60.55 L644.62 59.88 L643.98 59.22 L643.34 58.55 L642.7 57.89 L642.07 57.22 L641.43 56.45 L640.79 55.68 L640.15 54.9 L639.51 54.13 L638.87 53.36 L638.23 52.62 L637.59 52.04 L636.95 51.47 L636.31 50.89 L635.68 50.31 L635.04 49.74 L634.4 49.39 L633.76 49.2 L633.12 49.01 L632.48 48.81 L631.84 48.62 L631.2 48.43 L630.56 48.24 L629.92 48.04 L629.29 47.87 L628.65 47.76 L628.01 47.65 L627.37 47.55 L626.73 47.44 L626.09 47.33 L625.45 47.23 L624.81 47.12 L624.17 47.01 L623.53 46.95 L622.89 46.9 L622.26 46.85 L621.62 46.8 L620.98 46.75 L620.34 46.7 L619.7 46.65 L619.06 46.6 L618.42 46.55 L617.78 46.5 L617.14 46.45 L616.5 46.4 L615.87 46.35 L615.23 46.29 L614.59 46.28 L613.95 46.29 L613.31 46.31 L612.67 46.32 L612.03 46.33 L611.39 46.34 L610.75 46.35 L610.12 46.37 L609.48 46.38 L608.84 46.39 L608.2 46.4 L607.56 46.41 L606.92 46.42 L606.28 46.44 L605.64 46.45 L605 46.46 L604.36 46.47 L603.73 46.48 L603.09 46.5 L602.45 46.51 L601.81 46.52 L601.17 46.53 L600.53 46.54 L599.89 46.43 L599.25 46.32 L598.61 46.21 L597.97 46.1 L597.34 45.99 L596.7 45.88 L596.06 45.77 L595.42 45.77 L594.78 45.77 L594.14 45.77 L593.5 45.77 L592.86 45.77 L592.22 45.77 L591.58 45.77 L590.94 45.77 L590.31 45.77 L589.67 45.77 L589.03 45.77 L588.39 45.77 L587.75 45.77 L587.11 45.77 L586.47 45.77 L585.83 45.77 L585.19 45.77 L584.55 45.77 L583.92 45.77 L583.28 45.77 L582.64 45.77 L582 45.77 L581.36 45.77Z" fill="#1b2a35"/>
<line x1="555.8" y1="44.3" x2="582" y2="44.3" stroke="#4e0e14" stroke-width="2.2"/>
<path d="M594.9 44.4 L596.9 41.2 L598.9 44.4 L596.9 47.9Z" fill="#1b2a35"/>
<rect x="555.8" y="8.4" width="127.8" height="71.8" fill="none" stroke="#2c2c2c" stroke-width="0.9"/>
<line x1="551.8" y1="8.4" x2="555.8" y2="8.4" stroke="#2c2c2c" stroke-width="0.9"/>
<text x="547.8" y="11.6" font-size="9" text-anchor="end" font-weight="normal" fill="#1a1a1a" stroke="#1a1a1a" stroke-width="0.12">0.2</text>
<line x1="551.8" y1="26.35" x2="555.8" y2="26.35" stroke="#2c2c2c" stroke-width="0.9"/>
<text x="547.8" y="29.55" font-size="9" text-anchor="end" font-weight="normal" fill="#1a1a1a" stroke="#1a1a1a" stroke-width="0.12">0.1</text>
<line x1="551.8" y1="44.3" x2="555.8" y2="44.3" stroke="#2c2c2c" stroke-width="0.9"/>
<text x="547.8" y="47.5" font-size="9" text-anchor="end" font-weight="normal" fill="#1a1a1a" stroke="#1a1a1a" stroke-width="0.12">0.0</text>
<line x1="551.8" y1="62.25" x2="555.8" y2="62.25" stroke="#2c2c2c" stroke-width="0.9"/>
<text x="547.8" y="65.45" font-size="9" text-anchor="end" font-weight="normal" fill="#1a1a1a" stroke="#1a1a1a" stroke-width="0.12">-0.1</text>
<line x1="551.8" y1="80.2" x2="555.8" y2="80.2" stroke="#2c2c2c" stroke-width="0.9"/>
<text x="547.8" y="83.4" font-size="9" text-anchor="end" font-weight="normal" fill="#1a1a1a" stroke="#1a1a1a" stroke-width="0.12">-0.2</text>
<line x1="555.8" y1="80.2" x2="555.8" y2="82.4" stroke="#2c2c2c" stroke-width="0.9"/>
<line x1="555.8" y1="8.4" x2="555.8" y2="10.6" stroke="#2c2c2c" stroke-width="0.9"/>
<line x1="568.58" y1="80.2" x2="568.58" y2="82.4" stroke="#2c2c2c" stroke-width="0.9"/>
<line x1="568.58" y1="8.4" x2="568.58" y2="10.6" stroke="#2c2c2c" stroke-width="0.9"/>
<line x1="581.36" y1="80.2" x2="581.36" y2="84.7" stroke="#2c2c2c" stroke-width="0.9"/>
<line x1="581.36" y1="8.4" x2="581.36" y2="12.9" stroke="#2c2c2c" stroke-width="0.9"/>
<line x1="594.14" y1="80.2" x2="594.14" y2="82.4" stroke="#2c2c2c" stroke-width="0.9"/>
<line x1="594.14" y1="8.4" x2="594.14" y2="10.6" stroke="#2c2c2c" stroke-width="0.9"/>
<line x1="606.92" y1="80.2" x2="606.92" y2="82.4" stroke="#2c2c2c" stroke-width="0.9"/>
<line x1="606.92" y1="8.4" x2="606.92" y2="10.6" stroke="#2c2c2c" stroke-width="0.9"/>
<line x1="619.7" y1="80.2" x2="619.7" y2="82.4" stroke="#2c2c2c" stroke-width="0.9"/>
<line x1="619.7" y1="8.4" x2="619.7" y2="10.6" stroke="#2c2c2c" stroke-width="0.9"/>
<line x1="632.48" y1="80.2" x2="632.48" y2="82.4" stroke="#2c2c2c" stroke-width="0.9"/>
<line x1="632.48" y1="8.4" x2="632.48" y2="10.6" stroke="#2c2c2c" stroke-width="0.9"/>
<line x1="645.26" y1="80.2" x2="645.26" y2="84.7" stroke="#2c2c2c" stroke-width="0.9"/>
<line x1="645.26" y1="8.4" x2="645.26" y2="12.9" stroke="#2c2c2c" stroke-width="0.9"/>
<line x1="658.04" y1="80.2" x2="658.04" y2="82.4" stroke="#2c2c2c" stroke-width="0.9"/>
<line x1="658.04" y1="8.4" x2="658.04" y2="10.6" stroke="#2c2c2c" stroke-width="0.9"/>
<line x1="670.82" y1="80.2" x2="670.82" y2="82.4" stroke="#2c2c2c" stroke-width="0.9"/>
<line x1="670.82" y1="8.4" x2="670.82" y2="10.6" stroke="#2c2c2c" stroke-width="0.9"/>
<line x1="683.6" y1="80.2" x2="683.6" y2="82.4" stroke="#2c2c2c" stroke-width="0.9"/>
<line x1="683.6" y1="8.4" x2="683.6" y2="10.6" stroke="#2c2c2c" stroke-width="0.9"/>
<text x="581.36" y="96" font-size="9" text-anchor="middle" font-weight="normal" fill="#1a1a1a" stroke="#1a1a1a" stroke-width="0.12">0.5</text>
<text x="645.26" y="96" font-size="9" text-anchor="middle" font-weight="normal" fill="#1a1a1a" stroke="#1a1a1a" stroke-width="0.12">1.0</text>
<text x="619.8" y="107.2" font-size="9" text-anchor="middle" font-weight="normal" fill="#1a1a1a" stroke="#1a1a1a" stroke-width="0.12">Time (ms)</text>
<text x="507.2" y="39" font-size="9" text-anchor="middle" font-weight="normal" fill="#1a1a1a" stroke="#1a1a1a" stroke-width="0.12" transform="rotate(-90 507.2 39)">RF pulse</text>
<text x="519" y="37.5" font-size="9" text-anchor="middle" font-weight="normal" fill="#1a1a1a" stroke="#1a1a1a" stroke-width="0.12" transform="rotate(-90 519 37.5)">amplitude (V)</text>
<text x="568.7" y="20.2" font-size="10.5" text-anchor="middle" font-weight="normal" fill="#1a1a1a" stroke="#1a1a1a" stroke-width="0.12">off</text>
<text x="593.5" y="20.2" font-size="10.5" text-anchor="middle" font-weight="normal" fill="#1a1a1a" stroke="#1a1a1a" stroke-width="0.12">on</text>
<text x="0.3" y="138.7" font-size="12.5" text-anchor="start" font-weight="bold" fill="#111">c)</text>
<text x="0.6" y="196.5" font-size="12.5" text-anchor="start" font-weight="bold" fill="#111">e)</text>
<text x="234.1" y="137.1" font-size="12.5" text-anchor="start" font-weight="bold" fill="#111">d)</text>
<text x="236" y="194.9" font-size="12.5" text-anchor="start" font-weight="bold" fill="#111">f)</text>
<polyline points="64.3,153.92 64.85,153.92 65.3,175.88 65.9,175.88 66.35,153.92 67.12,153.92 67.57,136.65 68.17,136.65 68.62,153.92 69.39,153.92 69.84,174.96 70.44,174.96 70.89,153.92 71.66,153.92 72.11,175.02 72.71,175.02 73.16,153.92 73.92,153.92 74.37,175.21 74.97,175.21 75.42,153.92 76.19,153.92 76.64,136.81 77.24,136.81 77.69,153.92 78.46,153.92 78.91,138.1 79.51,138.1 79.96,153.92 80.73,153.92 81.18,137.17 81.78,137.17 82.23,153.92 83,153.92 83.45,176 84.05,176 84.5,153.92 85.27,153.92 85.72,137.02 86.32,137.02 86.77,153.92 87.54,153.92 87.99,137.46 88.59,137.46 89.04,153.92 89.8,153.92 90.25,175.54 90.85,175.54 91.3,153.92 92.07,153.92 92.52,175.57 93.12,175.57 93.57,153.92 94.34,153.92 94.79,137.25 95.39,137.25 95.84,153.92 96.61,153.92 97.06,175.15 97.66,175.15 98.11,153.92 98.88,153.92 99.33,174.92 99.93,174.92 100.38,153.92 101.15,153.92 101.6,137.59 102.2,137.59 102.65,153.92 103.42,153.92 103.87,136.91 104.47,136.91 104.92,153.92 105.68,153.92 106.13,136.79 106.73,136.79 107.18,153.92 107.95,153.92 108.4,137.52 109,137.52 109.45,153.92 110.22,153.92 110.67,137.91 111.27,137.91 111.72,153.92 112.49,153.92 112.94,175.64 113.54,175.64 113.99,153.92 114.76,153.92 115.21,175.24 115.81,175.24 116.26,153.92 117.03,153.92 117.48,137.32 118.08,137.32 118.53,153.92 119.3,153.92 119.75,176.1 120.35,176.1 120.8,153.92 121.56,153.92 122.01,175.33 122.61,175.33 123.06,153.92 123.83,153.92 124.28,137.62 124.88,137.62 125.33,153.92 126.1,153.92 126.55,136.79 127.15,136.79 127.6,153.92 128.37,153.92 128.82,137.85 129.42,137.85 129.87,153.92 130.64,153.92 131.09,175.49 131.69,175.49 132.14,153.92 132.91,153.92 133.36,175.8 133.96,175.8 134.41,153.92 135.18,153.92 135.63,136.65 136.23,136.65 136.68,153.92 137.44,153.92 137.89,176.16 138.49,176.16 138.94,153.92 139.71,153.92 140.16,136.8 140.76,136.8 141.21,153.92 141.98,153.92 142.43,137.48 143.03,137.48 143.48,153.92 144.25,153.92 144.7,175.82 145.3,175.82 145.75,153.92" fill="none" stroke="#3a3a3a" stroke-width="0.55"/>
<polyline points="145.3,150.71 146.9,148.79 147.77,149.11 148.63,146.83 149.5,147.35 150.43,146.32 151.37,146.14 152.3,146.11 153.18,145.18 154.05,144.76 154.93,144.8 155.8,144.29 156.73,144 157.65,143.88 158.57,143.39 159.5,143.11 160.38,142.72 161.25,142.74 162.12,142.51 163,141.64 163.93,141.32 164.85,141.07 165.77,141.27 166.7,141.2 167.52,140.58 168.35,140.25 169.18,140.06 170,139.81 170.97,139.73 171.95,139.4 172.93,139.67 173.9,139.55 174.72,139.43 175.54,138.82 176.36,139.81 177.18,139.47 178,138.95 178.82,139.23 179.63,139.2 180.45,138.85 181.27,138.1 182.08,138.48 182.9,138.58 183.72,139.05 184.54,139.09 185.36,138.84 186.18,138.43 187,138.82 187.82,138.38 188.63,139.07 189.45,138.59 190.27,138.34 191.08,138.17 191.9,138.35 192.93,138.27 193.97,137.47 195,138.57 195.8,138.56 196.6,138.03 197.4,138.5 198.2,137.81 199,137.95 199.8,137.96 200.6,137.93 201.4,137.89 202.2,138.27 203,138.13 204.07,138.52 205.13,138.46 206.2,138.83 207.02,138.89 207.85,139.35 208.68,139.4 209.5,140.87 210.47,141.36 211.45,142.11 212.43,141.99 213.4,142.69 214.3,143.52 215.2,143.67 216.1,144.96 217,144.76 217.9,145.9 218.8,146.17 219.7,145.61 220.6,146.81 221.42,147.3 222.23,147.35 223.05,148.11 223.87,148.34 224.68,148.93 225.5,149.8" fill="none" stroke="#3a3a3a" stroke-width="0.6"/>
<path d="M67.2 196.46h1.35V226.34h-1.35zM76.27 196.46h1.35V226.34h-1.35zM78.54 196.46h1.35V226.34h-1.35zM80.81 196.46h1.35V226.34h-1.35zM85.35 196.46h1.35V226.34h-1.35zM87.62 196.46h1.35V226.34h-1.35zM94.42 196.46h1.35V226.34h-1.35zM101.23 196.46h1.35V226.34h-1.35zM103.5 196.46h1.35V226.34h-1.35zM105.76 196.46h1.35V226.34h-1.35zM108.03 196.46h1.35V226.34h-1.35zM110.3 196.46h1.35V226.34h-1.35zM117.11 196.46h1.35V226.34h-1.35zM123.91 196.46h1.35V226.34h-1.35zM126.18 196.46h1.35V226.34h-1.35zM128.45 196.46h1.35V226.34h-1.35zM135.26 196.46h1.35V226.34h-1.35zM139.79 196.46h1.35V226.34h-1.35zM142.06 196.46h1.35V226.34h-1.35z" fill="#f02828"/>
<path d="M64.93 196.46h1.35V226.34h-1.35zM69.47 196.46h1.35V226.34h-1.35zM71.74 196.46h1.35V226.34h-1.35zM74 196.46h1.35V226.34h-1.35zM83.08 196.46h1.35V226.34h-1.35zM89.88 196.46h1.35V226.34h-1.35zM92.15 196.46h1.35V226.34h-1.35zM96.69 196.46h1.35V226.34h-1.35zM98.96 196.46h1.35V226.34h-1.35zM112.57 196.46h1.35V226.34h-1.35zM114.84 196.46h1.35V226.34h-1.35zM119.38 196.46h1.35V226.34h-1.35zM121.64 196.46h1.35V226.34h-1.35zM130.72 196.46h1.35V226.34h-1.35zM132.99 196.46h1.35V226.34h-1.35zM137.52 196.46h1.35V226.34h-1.35zM144.33 196.46h1.35V226.34h-1.35z" fill="#2828f0"/>
<path d="M67.87 233.2v-4.2M67.87 229l0.9 1.4h-1.8zM76.94 233.2v-4.2M76.94 229l0.9 1.4h-1.8zM79.21 233.2v-4.2M79.21 229l0.9 1.4h-1.8zM81.48 233.2v-4.2M81.48 229l0.9 1.4h-1.8zM86.02 233.2v-4.2M86.02 229l0.9 1.4h-1.8zM88.29 233.2v-4.2M88.29 229l0.9 1.4h-1.8zM95.09 233.2v-4.2M95.09 229l0.9 1.4h-1.8zM101.9 233.2v-4.2M101.9 229l0.9 1.4h-1.8zM104.17 233.2v-4.2M104.17 229l0.9 1.4h-1.8zM106.43 233.2v-4.2M106.43 229l0.9 1.4h-1.8zM108.7 233.2v-4.2M108.7 229l0.9 1.4h-1.8zM110.97 233.2v-4.2M110.97 229l0.9 1.4h-1.8zM117.78 233.2v-4.2M117.78 229l0.9 1.4h-1.8zM124.58 233.2v-4.2M124.58 229l0.9 1.4h-1.8zM126.85 233.2v-4.2M126.85 229l0.9 1.4h-1.8zM129.12 233.2v-4.2M129.12 229l0.9 1.4h-1.8zM135.93 233.2v-4.2M135.93 229l0.9 1.4h-1.8zM140.46 233.2v-4.2M140.46 229l0.9 1.4h-1.8zM142.73 233.2v-4.2M142.73 229l0.9 1.4h-1.8z" stroke="#f04a4a" stroke-width="0.6" fill="#f04a4a"/>
<path d="M65.6 228.8v4.2M65.6 233l0.9 -1.4h-1.8zM70.14 228.8v4.2M70.14 233l0.9 -1.4h-1.8zM72.41 228.8v4.2M72.41 233l0.9 -1.4h-1.8zM74.67 228.8v4.2M74.67 233l0.9 -1.4h-1.8zM83.75 228.8v4.2M83.75 233l0.9 -1.4h-1.8zM90.55 228.8v4.2M90.55 233l0.9 -1.4h-1.8zM92.82 228.8v4.2M92.82 233l0.9 -1.4h-1.8zM97.36 228.8v4.2M97.36 233l0.9 -1.4h-1.8zM99.63 228.8v4.2M99.63 233l0.9 -1.4h-1.8zM113.24 228.8v4.2M113.24 233l0.9 -1.4h-1.8zM115.51 228.8v4.2M115.51 233l0.9 -1.4h-1.8zM120.05 228.8v4.2M120.05 233l0.9 -1.4h-1.8zM122.31 228.8v4.2M122.31 233l0.9 -1.4h-1.8zM131.39 228.8v4.2M131.39 233l0.9 -1.4h-1.8zM133.66 228.8v4.2M133.66 233l0.9 -1.4h-1.8zM138.19 228.8v4.2M138.19 233l0.9 -1.4h-1.8zM145 228.8v4.2M145 233l0.9 -1.4h-1.8z" stroke="#4a4af0" stroke-width="0.6" fill="#4a4af0"/>
<line x1="64.3" y1="211.4" x2="145.3" y2="211.4" stroke="#5a1a9a" stroke-width="1.2"/>
<path d="M151.6 211.4 L151.93 210.31 L152.25 210 L152.58 209.66 L152.91 209.32 L153.23 208.97 L153.56 208.61 L153.89 208.25 L154.21 207.88 L154.54 207.51 L154.87 207.14 L155.19 206.77 L155.52 206.4 L155.84 206.02 L156.17 205.65 L156.5 205.29 L156.82 204.92 L157.15 204.56 L157.48 204.2 L157.8 203.85 L158.13 203.5 L158.46 203.16 L158.78 202.83 L159.11 202.5 L159.44 202.18 L159.76 201.87 L160.09 201.57 L160.42 201.28 L160.74 201 L161.07 200.73 L161.39 200.47 L161.72 200.22 L162.05 199.98 L162.37 199.75 L162.7 199.54 L163.03 199.34 L163.35 199.15 L163.68 198.97 L164.01 198.81 L164.33 198.66 L164.66 198.52 L164.99 198.39 L165.31 198.28 L165.64 198.19 L165.97 198.1 L166.29 198.03 L166.62 197.97 L166.95 197.93 L167.27 197.89 L167.6 197.88 L167.93 197.87 L168.25 197.88 L168.58 197.89 L168.9 197.92 L169.23 197.95 L169.56 197.97 L169.88 197.99 L170.21 198.02 L170.54 198.04 L170.86 198.06 L171.19 198.08 L171.52 198.1 L171.84 198.11 L172.17 198.13 L172.5 198.14 L172.82 198.16 L173.15 198.17 L173.48 198.18 L173.8 198.19 L174.13 198.19 L174.45 198.2 L174.78 198.2 L175.11 198.2 L175.43 198.2 L175.76 198.2 L176.09 198.19 L176.41 198.19 L176.74 198.18 L177.07 198.17 L177.39 198.16 L177.72 198.15 L178.05 198.13 L178.37 198.12 L178.7 198.1 L179.03 198.08 L179.35 198.07 L179.68 198.04 L180.01 198.02 L180.33 198 L180.66 197.98 L180.99 197.95 L181.31 197.93 L181.64 197.9 L181.96 197.88 L182.29 197.85 L182.62 197.82 L182.94 197.8 L183.27 197.77 L183.6 197.74 L183.92 197.72 L184.25 197.69 L184.58 197.67 L184.9 197.64 L185.23 197.62 L185.56 197.59 L185.88 197.57 L186.21 197.55 L186.54 197.53 L186.86 197.51 L187.19 197.49 L187.51 197.47 L187.84 197.46 L188.17 197.44 L188.49 197.43 L188.82 197.42 L189.15 197.41 L189.47 197.4 L189.8 197.39 L190.13 197.39 L190.45 197.39 L190.78 197.38 L191.11 197.38 L191.43 197.39 L191.76 197.39 L192.09 197.4 L192.41 197.4 L192.74 197.41 L193.07 197.42 L193.39 197.43 L193.72 197.45 L194.05 197.46 L194.37 197.48 L194.7 197.5 L195.02 197.52 L195.35 197.54 L195.68 197.56 L196 197.58 L196.33 197.6 L196.66 197.63 L196.98 197.65 L197.31 197.68 L197.64 197.7 L197.96 197.73 L198.29 197.76 L198.62 197.78 L198.94 197.81 L199.27 197.84 L199.6 197.86 L199.92 197.89 L200.25 197.91 L200.57 197.94 L200.9 197.96 L201.23 197.99 L201.55 198.01 L201.88 198.03 L202.21 198.05 L202.53 198.07 L202.86 198.09 L203.19 198.11 L203.51 198.13 L203.84 198.14 L204.17 198.15 L204.49 198.17 L204.82 198.18 L205.15 198.18 L205.47 198.19 L205.8 198.2 L206.13 198.2 L206.45 198.2 L206.78 198.2 L207.11 198.2 L207.43 198.23 L207.76 198.28 L208.08 198.36 L208.41 198.46 L208.74 198.58 L209.06 198.73 L209.39 198.9 L209.72 199.1 L210.04 199.33 L210.37 199.58 L210.7 199.85 L211.02 200.15 L211.35 200.47 L211.68 200.82 L212 201.19 L212.33 201.59 L212.66 202.02 L212.98 202.47 L213.31 202.94 L213.63 203.44 L213.96 203.97 L214.29 204.53 L214.61 205.11 L214.94 205.73 L215.27 206.38 L215.59 207.07 L215.92 207.81 L216.25 208.6 L216.57 209.5 L216.9 211.4 L216.9 211.4 L216.57 213.3 L216.25 214.2 L215.92 214.99 L215.59 215.73 L215.27 216.42 L214.94 217.07 L214.61 217.69 L214.29 218.27 L213.96 218.83 L213.63 219.36 L213.31 219.86 L212.98 220.33 L212.66 220.78 L212.33 221.21 L212 221.61 L211.68 221.98 L211.35 222.33 L211.02 222.65 L210.7 222.95 L210.37 223.22 L210.04 223.47 L209.72 223.7 L209.39 223.9 L209.06 224.07 L208.74 224.22 L208.41 224.34 L208.08 224.44 L207.76 224.52 L207.43 224.57 L207.11 224.6 L206.78 224.6 L206.45 224.6 L206.13 224.6 L205.8 224.6 L205.47 224.61 L205.15 224.62 L204.82 224.62 L204.49 224.63 L204.17 224.65 L203.84 224.66 L203.51 224.67 L203.19 224.69 L202.86 224.71 L202.53 224.73 L202.21 224.75 L201.88 224.77 L201.55 224.79 L201.23 224.81 L200.9 224.84 L200.57 224.86 L200.25 224.89 L199.92 224.91 L199.6 224.94 L199.27 224.96 L198.94 224.99 L198.62 225.02 L198.29 225.04 L197.96 225.07 L197.64 225.1 L197.31 225.12 L196.98 225.15 L196.66 225.17 L196.33 225.2 L196 225.22 L195.68 225.24 L195.35 225.26 L195.02 225.28 L194.7 225.3 L194.37 225.32 L194.05 225.34 L193.72 225.35 L193.39 225.37 L193.07 225.38 L192.74 225.39 L192.41 225.4 L192.09 225.4 L191.76 225.41 L191.43 225.41 L191.11 225.42 L190.78 225.42 L190.45 225.41 L190.13 225.41 L189.8 225.41 L189.47 225.4 L189.15 225.39 L188.82 225.38 L188.49 225.37 L188.17 225.36 L187.84 225.34 L187.51 225.33 L187.19 225.31 L186.86 225.29 L186.54 225.27 L186.21 225.25 L185.88 225.23 L185.56 225.21 L185.23 225.18 L184.9 225.16 L184.58 225.13 L184.25 225.11 L183.92 225.08 L183.6 225.06 L183.27 225.03 L182.94 225 L182.62 224.98 L182.29 224.95 L181.96 224.92 L181.64 224.9 L181.31 224.87 L180.99 224.85 L180.66 224.82 L180.33 224.8 L180.01 224.78 L179.68 224.76 L179.35 224.73 L179.03 224.72 L178.7 224.7 L178.37 224.68 L178.05 224.67 L177.72 224.65 L177.39 224.64 L177.07 224.63 L176.74 224.62 L176.41 224.61 L176.09 224.61 L175.76 224.6 L175.43 224.6 L175.11 224.6 L174.78 224.6 L174.45 224.6 L174.13 224.61 L173.8 224.61 L173.48 224.62 L173.15 224.63 L172.82 224.64 L172.5 224.66 L172.17 224.67 L171.84 224.69 L171.52 224.7 L171.19 224.72 L170.86 224.74 L170.54 224.76 L170.21 224.78 L169.88 224.81 L169.56 224.83 L169.23 224.85 L168.9 224.88 L168.58 224.91 L168.25 224.92 L167.93 224.93 L167.6 224.92 L167.27 224.91 L166.95 224.87 L166.62 224.83 L166.29 224.77 L165.97 224.7 L165.64 224.61 L165.31 224.52 L164.99 224.41 L164.66 224.28 L164.33 224.14 L164.01 223.99 L163.68 223.83 L163.35 223.65 L163.03 223.46 L162.7 223.26 L162.37 223.05 L162.05 222.82 L161.72 222.58 L161.39 222.33 L161.07 222.07 L160.74 221.8 L160.42 221.52 L160.09 221.23 L159.76 220.93 L159.44 220.62 L159.11 220.3 L158.78 219.97 L158.46 219.64 L158.13 219.3 L157.8 218.95 L157.48 218.6 L157.15 218.24 L156.82 217.88 L156.5 217.51 L156.17 217.15 L155.84 216.78 L155.52 216.4 L155.19 216.03 L154.87 215.66 L154.54 215.29 L154.21 214.92 L153.89 214.55 L153.56 214.19 L153.23 213.83 L152.91 213.48 L152.58 213.14 L152.25 212.8 L151.93 212.49 L151.6 211.4Z" fill="#f8c4c8"/>
<path d="M152.2 210.05V212.75M153.94 208.19V214.61M155.68 206.21V216.59M157.42 204.26V218.54M159.16 202.45V220.35M160.9 200.87V221.93M162.64 199.58V223.22M164.38 198.64V224.16M166.12 198.07V224.73M167.86 197.87V224.93M169.6 197.97V224.83M171.34 198.09V224.71M173.08 198.17V224.63M174.82 198.2V224.6M176.56 198.18V224.62M178.3 198.12V224.68M180.04 198.02V224.78M181.78 197.89V224.91M183.52 197.75V225.05M185.26 197.61V225.19M187 197.5V225.3M188.74 197.42V225.38M190.48 197.39V225.41M192.22 197.4V225.4M193.96 197.46V225.34M195.7 197.56V225.24M197.44 197.69V225.11M199.18 197.83V224.97M200.92 197.97V224.83M202.66 198.08V224.72M204.4 198.16V224.64M206.14 198.2V224.6M207.88 198.31V224.49M209.62 199.04V223.76M211.36 200.48V222.32M213.1 202.64V220.16M214.84 205.54V217.26M216.58 209.51V213.29" stroke="#f0646c" stroke-width="0.75" fill="none"/>
<line x1="145.3" y1="211.4" x2="225.5" y2="211.4" stroke="#f0646c" stroke-width="0.6"/>
<path d="M186.3 235V230" stroke="#f02020" stroke-width="1.1"/>
<path d="M186.3 228.2l2 3h-4z" fill="#f02020"/>
<rect x="64.3" y="131.6" width="161.2" height="48.3" fill="none" stroke="#2c2c2c" stroke-width="0.9"/>
<rect x="64.3" y="187.2" width="161.2" height="48.5" fill="none" stroke="#2c2c2c" stroke-width="0.9"/>
<line x1="67.36" y1="179.9" x2="67.36" y2="182.1" stroke="#2c2c2c" stroke-width="0.8"/>
<line x1="67.36" y1="131.6" x2="67.36" y2="133.8" stroke="#2c2c2c" stroke-width="0.8"/>
<line x1="75.38" y1="179.9" x2="75.38" y2="182.1" stroke="#2c2c2c" stroke-width="0.8"/>
<line x1="75.38" y1="131.6" x2="75.38" y2="133.8" stroke="#2c2c2c" stroke-width="0.8"/>
<line x1="83.4" y1="179.9" x2="83.4" y2="183.5" stroke="#2c2c2c" stroke-width="0.8"/>
<line x1="83.4" y1="131.6" x2="83.4" y2="135.2" stroke="#2c2c2c" stroke-width="0.8"/>
<line x1="91.42" y1="179.9" x2="91.42" y2="182.1" stroke="#2c2c2c" stroke-width="0.8"/>
<line x1="91.42" y1="131.6" x2="91.42" y2="133.8" stroke="#2c2c2c" stroke-width="0.8"/>
<line x1="99.44" y1="179.9" x2="99.44" y2="182.1" stroke="#2c2c2c" stroke-width="0.8"/>
<line x1="99.44" y1="131.6" x2="99.44" y2="133.8" stroke="#2c2c2c" stroke-width="0.8"/>
<line x1="107.46" y1="179.9" x2="107.46" y2="182.1" stroke="#2c2c2c" stroke-width="0.8"/>
<line x1="107.46" y1="131.6" x2="107.46" y2="133.8" stroke="#2c2c2c" stroke-width="0.8"/>
<line x1="115.48" y1="179.9" x2="115.48" y2="182.1" stroke="#2c2c2c" stroke-width="0.8"/>
<line x1="115.48" y1="131.6" x2="115.48" y2="133.8" stroke="#2c2c2c" stroke-width="0.8"/>
<line x1="123.5" y1="179.9" x2="123.5" y2="183.5" stroke="#2c2c2c" stroke-width="0.8"/>
<line x1="123.5" y1="131.6" x2="123.5" y2="135.2" stroke="#2c2c2c" stroke-width="0.8"/>
<line x1="131.52" y1="179.9" x2="131.52" y2="182.1" stroke="#2c2c2c" stroke-width="0.8"/>
<line x1="131.52" y1="131.6" x2="131.52" y2="133.8" stroke="#2c2c2c" stroke-width="0.8"/>
<line x1="139.54" y1="179.9" x2="139.54" y2="182.1" stroke="#2c2c2c" stroke-width="0.8"/>
<line x1="139.54" y1="131.6" x2="139.54" y2="133.8" stroke="#2c2c2c" stroke-width="0.8"/>
<line x1="151.6" y1="179.9" x2="151.6" y2="182.1" stroke="#2c2c2c" stroke-width="0.8"/>
<line x1="151.6" y1="131.6" x2="151.6" y2="133.8" stroke="#2c2c2c" stroke-width="0.8"/>
<line x1="157.8" y1="179.9" x2="157.8" y2="183.5" stroke="#2c2c2c" stroke-width="0.8"/>
<line x1="157.8" y1="131.6" x2="157.8" y2="135.2" stroke="#2c2c2c" stroke-width="0.8"/>
<line x1="164" y1="179.9" x2="164" y2="182.1" stroke="#2c2c2c" stroke-width="0.8"/>
<line x1="164" y1="131.6" x2="164" y2="133.8" stroke="#2c2c2c" stroke-width="0.8"/>
<line x1="170.2" y1="179.9" x2="170.2" y2="182.1" stroke="#2c2c2c" stroke-width="0.8"/>
<line x1="170.2" y1="131.6" x2="170.2" y2="133.8" stroke="#2c2c2c" stroke-width="0.8"/>
<line x1="176.4" y1="179.9" x2="176.4" y2="182.1" stroke="#2c2c2c" stroke-width="0.8"/>
<line x1="176.4" y1="131.6" x2="176.4" y2="133.8" stroke="#2c2c2c" stroke-width="0.8"/>
<line x1="182.6" y1="179.9" x2="182.6" y2="182.1" stroke="#2c2c2c" stroke-width="0.8"/>
<line x1="182.6" y1="131.6" x2="182.6" y2="133.8" stroke="#2c2c2c" stroke-width="0.8"/>
<line x1="188.8" y1="179.9" x2="188.8" y2="182.1" stroke="#2c2c2c" stroke-width="0.8"/>
<line x1="188.8" y1="131.6" x2="188.8" y2="133.8" stroke="#2c2c2c" stroke-width="0.8"/>
<line x1="195" y1="179.9" x2="195" y2="182.1" stroke="#2c2c2c" stroke-width="0.8"/>
<line x1="195" y1="131.6" x2="195" y2="133.8" stroke="#2c2c2c" stroke-width="0.8"/>
<line x1="201.2" y1="179.9" x2="201.2" y2="182.1" stroke="#2c2c2c" stroke-width="0.8"/>
<line x1="201.2" y1="131.6" x2="201.2" y2="133.8" stroke="#2c2c2c" stroke-width="0.8"/>
<line x1="207.4" y1="179.9" x2="207.4" y2="182.1" stroke="#2c2c2c" stroke-width="0.8"/>
<line x1="207.4" y1="131.6" x2="207.4" y2="133.8" stroke="#2c2c2c" stroke-width="0.8"/>
<line x1="213.6" y1="179.9" x2="213.6" y2="182.1" stroke="#2c2c2c" stroke-width="0.8"/>
<line x1="213.6" y1="131.6" x2="213.6" y2="133.8" stroke="#2c2c2c" stroke-width="0.8"/>
<line x1="219.8" y1="179.9" x2="219.8" y2="183.5" stroke="#2c2c2c" stroke-width="0.8"/>
<line x1="219.8" y1="131.6" x2="219.8" y2="135.2" stroke="#2c2c2c" stroke-width="0.8"/>
<line x1="146.6" y1="127.4" x2="144" y2="135.8" stroke="#222" stroke-width="0.8" stroke-dasharray="1.6 0.8"/>
<line x1="146.6" y1="175.7" x2="144" y2="184.1" stroke="#222" stroke-width="0.8" stroke-dasharray="1.6 0.8"/>
<line x1="67.36" y1="235.7" x2="67.36" y2="237.9" stroke="#2c2c2c" stroke-width="0.8"/>
<line x1="67.36" y1="187.2" x2="67.36" y2="189.4" stroke="#2c2c2c" stroke-width="0.8"/>
<line x1="75.38" y1="235.7" x2="75.38" y2="237.9" stroke="#2c2c2c" stroke-width="0.8"/>
<line x1="75.38" y1="187.2" x2="75.38" y2="189.4" stroke="#2c2c2c" stroke-width="0.8"/>
<line x1="83.4" y1="235.7" x2="83.4" y2="239.3" stroke="#2c2c2c" stroke-width="0.8"/>
<line x1="83.4" y1="187.2" x2="83.4" y2="190.8" stroke="#2c2c2c" stroke-width="0.8"/>
<line x1="91.42" y1="235.7" x2="91.42" y2="237.9" stroke="#2c2c2c" stroke-width="0.8"/>
<line x1="91.42" y1="187.2" x2="91.42" y2="189.4" stroke="#2c2c2c" stroke-width="0.8"/>
<line x1="99.44" y1="235.7" x2="99.44" y2="237.9" stroke="#2c2c2c" stroke-width="0.8"/>
<line x1="99.44" y1="187.2" x2="99.44" y2="189.4" stroke="#2c2c2c" stroke-width="0.8"/>
<line x1="107.46" y1="235.7" x2="107.46" y2="237.9" stroke="#2c2c2c" stroke-width="0.8"/>
<line x1="107.46" y1="187.2" x2="107.46" y2="189.4" stroke="#2c2c2c" stroke-width="0.8"/>
<line x1="115.48" y1="235.7" x2="115.48" y2="237.9" stroke="#2c2c2c" stroke-width="0.8"/>
<line x1="115.48" y1="187.2" x2="115.48" y2="189.4" stroke="#2c2c2c" stroke-width="0.8"/>
<line x1="123.5" y1="235.7" x2="123.5" y2="239.3" stroke="#2c2c2c" stroke-width="0.8"/>
<line x1="123.5" y1="187.2" x2="123.5" y2="190.8" stroke="#2c2c2c" stroke-width="0.8"/>
<line x1="131.52" y1="235.7" x2="131.52" y2="237.9" stroke="#2c2c2c" stroke-width="0.8"/>
<line x1="131.52" y1="187.2" x2="131.52" y2="189.4" stroke="#2c2c2c" stroke-width="0.8"/>
<line x1="139.54" y1="235.7" x2="139.54" y2="237.9" stroke="#2c2c2c" stroke-width="0.8"/>
<line x1="139.54" y1="187.2" x2="139.54" y2="189.4" stroke="#2c2c2c" stroke-width="0.8"/>
<line x1="151.6" y1="235.7" x2="151.6" y2="237.9" stroke="#2c2c2c" stroke-width="0.8"/>
<line x1="151.6" y1="187.2" x2="151.6" y2="189.4" stroke="#2c2c2c" stroke-width="0.8"/>
<line x1="157.8" y1="235.7" x2="157.8" y2="239.3" stroke="#2c2c2c" stroke-width="0.8"/>
<line x1="157.8" y1="187.2" x2="157.8" y2="190.8" stroke="#2c2c2c" stroke-width="0.8"/>
<line x1="164" y1="235.7" x2="164" y2="237.9" stroke="#2c2c2c" stroke-width="0.8"/>
<line x1="164" y1="187.2" x2="164" y2="189.4" stroke="#2c2c2c" stroke-width="0.8"/>
<line x1="170.2" y1="235.7" x2="170.2" y2="237.9" stroke="#2c2c2c" stroke-width="0.8"/>
<line x1="170.2" y1="187.2" x2="170.2" y2="189.4" stroke="#2c2c2c" stroke-width="0.8"/>
<line x1="176.4" y1="235.7" x2="176.4" y2="237.9" stroke="#2c2c2c" stroke-width="0.8"/>
<line x1="176.4" y1="187.2" x2="176.4" y2="189.4" stroke="#2c2c2c" stroke-width="0.8"/>
<line x1="182.6" y1="235.7" x2="182.6" y2="237.9" stroke="#2c2c2c" stroke-width="0.8"/>
<line x1="182.6" y1="187.2" x2="182.6" y2="189.4" stroke="#2c2c2c" stroke-width="0.8"/>
<line x1="188.8" y1="235.7" x2="188.8" y2="237.9" stroke="#2c2c2c" stroke-width="0.8"/>
<line x1="188.8" y1="187.2" x2="188.8" y2="189.4" stroke="#2c2c2c" stroke-width="0.8"/>
<line x1="195" y1="235.7" x2="195" y2="237.9" stroke="#2c2c2c" stroke-width="0.8"/>
<line x1="195" y1="187.2" x2="195" y2="189.4" stroke="#2c2c2c" stroke-width="0.8"/>
<line x1="201.2" y1="235.7" x2="201.2" y2="237.9" stroke="#2c2c2c" stroke-width="0.8"/>
<line x1="201.2" y1="187.2" x2="201.2" y2="189.4" stroke="#2c2c2c" stroke-width="0.8"/>
<line x1="207.4" y1="235.7" x2="207.4" y2="237.9" stroke="#2c2c2c" stroke-width="0.8"/>
<line x1="207.4" y1="187.2" x2="207.4" y2="189.4" stroke="#2c2c2c" stroke-width="0.8"/>
<line x1="213.6" y1="235.7" x2="213.6" y2="237.9" stroke="#2c2c2c" stroke-width="0.8"/>
<line x1="213.6" y1="187.2" x2="213.6" y2="189.4" stroke="#2c2c2c" stroke-width="0.8"/>
<line x1="219.8" y1="235.7" x2="219.8" y2="239.3" stroke="#2c2c2c" stroke-width="0.8"/>
<line x1="219.8" y1="187.2" x2="219.8" y2="190.8" stroke="#2c2c2c" stroke-width="0.8"/>
<line x1="146.6" y1="183" x2="144" y2="191.4" stroke="#222" stroke-width="0.8" stroke-dasharray="1.6 0.8"/>
<line x1="146.6" y1="231.5" x2="144" y2="239.9" stroke="#222" stroke-width="0.8" stroke-dasharray="1.6 0.8"/>
<line x1="62.4" y1="179.68" x2="64.3" y2="179.68" stroke="#2c2c2c" stroke-width="0.8"/>
<line x1="225.5" y1="179.68" x2="223.6" y2="179.68" stroke="#2c2c2c" stroke-width="0.8"/>
<line x1="60.7" y1="176" x2="64.3" y2="176" stroke="#2c2c2c" stroke-width="0.8"/>
<line x1="225.5" y1="176" x2="221.9" y2="176" stroke="#2c2c2c" stroke-width="0.8"/>
<line x1="62.4" y1="172.32" x2="64.3" y2="172.32" stroke="#2c2c2c" stroke-width="0.8"/>
<line x1="225.5" y1="172.32" x2="223.6" y2="172.32" stroke="#2c2c2c" stroke-width="0.8"/>
<line x1="62.4" y1="168.64" x2="64.3" y2="168.64" stroke="#2c2c2c" stroke-width="0.8"/>
<line x1="225.5" y1="168.64" x2="223.6" y2="168.64" stroke="#2c2c2c" stroke-width="0.8"/>
<line x1="62.4" y1="164.96" x2="64.3" y2="164.96" stroke="#2c2c2c" stroke-width="0.8"/>
<line x1="225.5" y1="164.96" x2="223.6" y2="164.96" stroke="#2c2c2c" stroke-width="0.8"/>
<line x1="62.4" y1="161.28" x2="64.3" y2="161.28" stroke="#2c2c2c" stroke-width="0.8"/>
<line x1="225.5" y1="161.28" x2="223.6" y2="161.28" stroke="#2c2c2c" stroke-width="0.8"/>
<line x1="60.7" y1="157.6" x2="64.3" y2="157.6" stroke="#2c2c2c" stroke-width="0.8"/>
<line x1="225.5" y1="157.6" x2="221.9" y2="157.6" stroke="#2c2c2c" stroke-width="0.8"/>
<line x1="62.4" y1="153.92" x2="64.3" y2="153.92" stroke="#2c2c2c" stroke-width="0.8"/>
<line x1="225.5" y1="153.92" x2="223.6" y2="153.92" stroke="#2c2c2c" stroke-width="0.8"/>
<line x1="62.4" y1="150.24" x2="64.3" y2="150.24" stroke="#2c2c2c" stroke-width="0.8"/>
<line x1="225.5" y1="150.24" x2="223.6" y2="150.24" stroke="#2c2c2c" stroke-width="0.8"/>
<line x1="62.4" y1="146.56" x2="64.3" y2="146.56" stroke="#2c2c2c" stroke-width="0.8"/>
<line x1="225.5" y1="146.56" x2="223.6" y2="146.56" stroke="#2c2c2c" stroke-width="0.8"/>
<line x1="62.4" y1="142.88" x2="64.3" y2="142.88" stroke="#2c2c2c" stroke-width="0.8"/>
<line x1="225.5" y1="142.88" x2="223.6" y2="142.88" stroke="#2c2c2c" stroke-width="0.8"/>
<line x1="60.7" y1="139.2" x2="64.3" y2="139.2" stroke="#2c2c2c" stroke-width="0.8"/>
<line x1="225.5" y1="139.2" x2="221.9" y2="139.2" stroke="#2c2c2c" stroke-width="0.8"/>
<line x1="62.4" y1="135.52" x2="64.3" y2="135.52" stroke="#2c2c2c" stroke-width="0.8"/>
<line x1="225.5" y1="135.52" x2="223.6" y2="135.52" stroke="#2c2c2c" stroke-width="0.8"/>
<line x1="62.4" y1="131.84" x2="64.3" y2="131.84" stroke="#2c2c2c" stroke-width="0.8"/>
<line x1="225.5" y1="131.84" x2="223.6" y2="131.84" stroke="#2c2c2c" stroke-width="0.8"/>
<line x1="59.9" y1="235.7" x2="64.3" y2="235.7" stroke="#2c2c2c" stroke-width="0.8"/>
<line x1="225.5" y1="235.7" x2="222.5" y2="235.7" stroke="#2c2c2c" stroke-width="0.8"/>
<line x1="59.9" y1="223.55" x2="64.3" y2="223.55" stroke="#2c2c2c" stroke-width="0.8"/>
<line x1="225.5" y1="223.55" x2="222.5" y2="223.55" stroke="#2c2c2c" stroke-width="0.8"/>
<line x1="59.9" y1="211.4" x2="64.3" y2="211.4" stroke="#2c2c2c" stroke-width="0.8"/>
<line x1="225.5" y1="211.4" x2="222.5" y2="211.4" stroke="#2c2c2c" stroke-width="0.8"/>
<line x1="59.9" y1="199.25" x2="64.3" y2="199.25" stroke="#2c2c2c" stroke-width="0.8"/>
<line x1="225.5" y1="199.25" x2="222.5" y2="199.25" stroke="#2c2c2c" stroke-width="0.8"/>
<line x1="59.9" y1="187.1" x2="64.3" y2="187.1" stroke="#2c2c2c" stroke-width="0.8"/>
<line x1="225.5" y1="187.1" x2="222.5" y2="187.1" stroke="#2c2c2c" stroke-width="0.8"/>
<text x="57.7" y="142.2" font-size="9" text-anchor="end" font-weight="normal" fill="#1a1a1a" stroke="#1a1a1a" stroke-width="0.12">1.0</text>
<text x="57.7" y="160.6" font-size="9" text-anchor="end" font-weight="normal" fill="#1a1a1a" stroke="#1a1a1a" stroke-width="0.12">0.5</text>
<text x="57.7" y="179" font-size="9" text-anchor="end" font-weight="normal" fill="#1a1a1a" stroke="#1a1a1a" stroke-width="0.12">0.0</text>
<text x="57.7" y="190.1" font-size="9" text-anchor="end" font-weight="normal" fill="#1a1a1a" stroke="#1a1a1a" stroke-width="0.12">0.2</text>
<text x="57.7" y="202.25" font-size="9" text-anchor="end" font-weight="normal" fill="#1a1a1a" stroke="#1a1a1a" stroke-width="0.12">0.1</text>
<text x="57.7" y="214.4" font-size="9" text-anchor="end" font-weight="normal" fill="#1a1a1a" stroke="#1a1a1a" stroke-width="0.12">0.0</text>
<text x="57.7" y="226.55" font-size="9" text-anchor="end" font-weight="normal" fill="#1a1a1a" stroke="#1a1a1a" stroke-width="0.12">-0.1</text>
<text x="57.7" y="238.7" font-size="9" text-anchor="end" font-weight="normal" fill="#1a1a1a" stroke="#1a1a1a" stroke-width="0.12">-0.2</text>
<text x="83.4" y="250.3" font-size="8.2" text-anchor="middle" font-weight="normal" fill="#1a1a1a" stroke="#1a1a1a" stroke-width="0.12">1.195</text>
<text x="123.5" y="250.3" font-size="8.2" text-anchor="middle" font-weight="normal" fill="#1a1a1a" stroke="#1a1a1a" stroke-width="0.12">1.200</text>
<text x="157.8" y="250.3" font-size="8.2" text-anchor="middle" font-weight="normal" fill="#1a1a1a" stroke="#1a1a1a" stroke-width="0.12">1.2028</text>
<text x="219.8" y="250.3" font-size="8.2" text-anchor="middle" font-weight="normal" fill="#1a1a1a" stroke="#1a1a1a" stroke-width="0.12">1.2029</text>
<text x="145.6" y="261.2" font-size="8.6" text-anchor="middle" font-weight="normal" fill="#1a1a1a" stroke="#1a1a1a" stroke-width="0.12">Time (ms)</text>
<polyline points="268.6,153.92 269.15,153.92 269.6,175.1 270.2,175.1 270.65,153.92 271.42,153.92 271.87,176.28 272.47,176.28 272.92,153.92 273.69,153.92 274.14,174.96 274.74,174.96 275.19,153.92 275.96,153.92 276.41,137.63 277.01,137.63 277.46,153.92 278.22,153.92 278.67,137.19 279.27,137.19 279.72,153.92 280.49,153.92 280.94,137.32 281.54,137.32 281.99,153.92 282.76,153.92 283.21,137.15 283.81,137.15 284.26,153.92 285.03,153.92 285.48,137.62 286.08,137.62 286.53,153.92 287.3,153.92 287.75,137.55 288.35,137.55 288.8,153.92 289.57,153.92 290.02,137.73 290.62,137.73 291.07,153.92 291.84,153.92 292.29,136.97 292.89,136.97 293.34,153.92 294.1,153.92 294.55,137.41 295.15,137.41 295.6,153.92 296.37,153.92 296.82,136.94 297.42,136.94 297.87,153.92 298.64,153.92 299.09,175.57 299.69,175.57 300.14,153.92 300.91,153.92 301.36,175.45 301.96,175.45 302.41,153.92 303.18,153.92 303.63,137.86 304.23,137.86 304.68,153.92 305.45,153.92 305.9,137.33 306.5,137.33 306.95,153.92 307.72,153.92 308.17,137.73 308.77,137.73 309.22,153.92 309.98,153.92 310.43,137.28 311.03,137.28 311.48,153.92 312.25,153.92 312.7,174.92 313.3,174.92 313.75,153.92 314.52,153.92 314.97,136.86 315.57,136.86 316.02,153.92 316.79,153.92 317.24,137.51 317.84,137.51 318.29,153.92 319.06,153.92 319.51,175.61 320.11,175.61 320.56,153.92 321.33,153.92 321.78,175.51 322.38,175.51 322.83,153.92 323.6,153.92 324.05,175.12 324.65,175.12 325.1,153.92 325.86,149.77 326.31,175.84 326.91,175.84 327.36,149.77 328.13,147.83 328.58,175.25 329.18,175.25 329.63,147.83 330.4,148.71 330.85,176.34 331.45,176.34 331.9,148.71 332.67,150.44 333.12,175.9 333.72,175.9 334.17,150.44 334.94,150.23 335.39,137.59 335.99,137.59 336.44,150.23 337.21,153 337.66,176.27 338.26,176.27 338.71,153 339.48,152.14 339.93,175.44 340.53,175.44 340.98,152.14 341.74,148.64 342.19,176.33 342.79,176.33 343.24,148.64 344.01,150.87 344.46,176.34 345.06,176.34 345.51,150.87 346.28,147.71 346.73,176.14 347.33,176.14 347.78,147.71 348.55,151.14 349,175.67 349.6,175.67 350.05,151.14" fill="none" stroke="#3a3a3a" stroke-width="0.55"/>
<polyline points="348.8,157.54 349.6,158.2 350.4,158.71 351.2,158.7 352,159.19 352.8,159.84 353.6,160.51 354.4,160.25 355.2,161.3 356,161.27 356.8,161.1 357.64,162.16 358.48,162.78 359.32,163.78 360.16,164.29 361,163.97 361.82,164.58 362.64,164.58 363.46,165.37 364.28,166.83 365.1,166.5 365.94,167.44 366.78,167.35 367.62,168.03 368.46,168.33 369.3,169.2 370.14,168.97 370.98,170.18 371.82,170.48 372.66,170.56 373.5,170.83 374.34,171.68 375.18,172.27 376.02,173.28 376.86,173.17 377.7,173.17 378.54,173.27 379.38,174.52 380.22,173.65 381.06,174.85 381.9,174.72 382.75,174.38 383.6,174.67 384.45,174.3 385.3,175.25 386.15,175.03 387,175.21 387.9,175.22 388.8,175.11 389.7,175.21 390.6,174.88 391.5,175.38 392.4,175.67 393.27,175.26 394.13,175.58 395,175.31 395.87,175.67 396.73,175.01 397.6,176.39 398.47,176.11 399.33,175.35 400.2,176.09 401.07,175.94 401.93,176.2 402.8,175.89 403.87,175.7 404.93,175.33 406,175.06 407.03,175.61 408.07,175.63 409.1,174.8 410.17,174.92 411.23,174.2 412.3,173.35 413.33,172.79 414.37,172.05 415.4,171.49 416.2,171.49 417,171.09 417.8,169.34 418.6,168.67 419.63,168.01 420.67,166.62 421.7,165.96 422.57,165.71 423.43,164.22 424.3,164.04 425.17,162.95 426.03,162.06 426.9,161.19 427.8,161.32 428.7,160.92 429.6,159.8" fill="none" stroke="#3a3a3a" stroke-width="0.6"/>
<path d="M276.04 196.46h1.35V226.34h-1.35zM278.3 196.46h1.35V226.34h-1.35zM280.57 196.46h1.35V226.34h-1.35zM282.84 196.46h1.35V226.34h-1.35zM285.11 196.46h1.35V226.34h-1.35zM287.38 196.46h1.35V226.34h-1.35zM289.65 196.46h1.35V226.34h-1.35zM291.92 196.46h1.35V226.34h-1.35zM294.18 196.46h1.35V226.34h-1.35zM296.45 196.46h1.35V226.34h-1.35zM303.26 196.46h1.35V226.34h-1.35zM305.53 196.46h1.35V226.34h-1.35zM307.8 196.46h1.35V226.34h-1.35zM310.06 196.46h1.35V226.34h-1.35zM314.6 196.46h1.35V226.34h-1.35zM316.87 196.46h1.35V226.34h-1.35zM335.02 196.46h1.35V226.34h-1.35z" fill="#f02828"/>
<path d="M269.23 196.46h1.35V226.34h-1.35zM271.5 196.46h1.35V226.34h-1.35zM273.77 196.46h1.35V226.34h-1.35zM298.72 196.46h1.35V226.34h-1.35zM300.99 196.46h1.35V226.34h-1.35zM312.33 196.46h1.35V226.34h-1.35zM319.14 196.46h1.35V226.34h-1.35zM321.41 196.46h1.35V226.34h-1.35zM323.68 196.46h1.35V226.34h-1.35zM325.94 196.46h1.35V226.34h-1.35zM328.21 196.46h1.35V226.34h-1.35zM330.48 196.46h1.35V226.34h-1.35zM332.75 196.46h1.35V226.34h-1.35zM337.29 196.46h1.35V226.34h-1.35zM339.56 196.46h1.35V226.34h-1.35zM341.82 196.46h1.35V226.34h-1.35zM344.09 196.46h1.35V226.34h-1.35zM346.36 196.46h1.35V226.34h-1.35zM348.63 196.46h1.35V226.34h-1.35z" fill="#2828f0"/>
<path d="M276.71 233.2v-4.2M276.71 229l0.9 1.4h-1.8zM278.97 233.2v-4.2M278.97 229l0.9 1.4h-1.8zM281.24 233.2v-4.2M281.24 229l0.9 1.4h-1.8zM283.51 233.2v-4.2M283.51 229l0.9 1.4h-1.8zM285.78 233.2v-4.2M285.78 229l0.9 1.4h-1.8zM288.05 233.2v-4.2M288.05 229l0.9 1.4h-1.8zM290.32 233.2v-4.2M290.32 229l0.9 1.4h-1.8zM292.59 233.2v-4.2M292.59 229l0.9 1.4h-1.8zM294.85 233.2v-4.2M294.85 229l0.9 1.4h-1.8zM297.12 233.2v-4.2M297.12 229l0.9 1.4h-1.8zM303.93 233.2v-4.2M303.93 229l0.9 1.4h-1.8zM306.2 233.2v-4.2M306.2 229l0.9 1.4h-1.8zM308.47 233.2v-4.2M308.47 229l0.9 1.4h-1.8zM310.73 233.2v-4.2M310.73 229l0.9 1.4h-1.8zM315.27 233.2v-4.2M315.27 229l0.9 1.4h-1.8zM317.54 233.2v-4.2M317.54 229l0.9 1.4h-1.8zM335.69 233.2v-4.2M335.69 229l0.9 1.4h-1.8z" stroke="#f04a4a" stroke-width="0.6" fill="#f04a4a"/>
<path d="M269.9 228.8v4.2M269.9 233l0.9 -1.4h-1.8zM272.17 228.8v4.2M272.17 233l0.9 -1.4h-1.8zM274.44 228.8v4.2M274.44 233l0.9 -1.4h-1.8zM299.39 228.8v4.2M299.39 233l0.9 -1.4h-1.8zM301.66 228.8v4.2M301.66 233l0.9 -1.4h-1.8zM313 228.8v4.2M313 233l0.9 -1.4h-1.8zM319.81 228.8v4.2M319.81 233l0.9 -1.4h-1.8zM322.08 228.8v4.2M322.08 233l0.9 -1.4h-1.8zM324.35 228.8v4.2M324.35 233l0.9 -1.4h-1.8zM326.61 228.8v4.2M326.61 233l0.9 -1.4h-1.8zM328.88 228.8v4.2M328.88 233l0.9 -1.4h-1.8zM331.15 228.8v4.2M331.15 233l0.9 -1.4h-1.8zM333.42 228.8v4.2M333.42 233l0.9 -1.4h-1.8zM337.96 228.8v4.2M337.96 233l0.9 -1.4h-1.8zM340.23 228.8v4.2M340.23 233l0.9 -1.4h-1.8zM342.49 228.8v4.2M342.49 233l0.9 -1.4h-1.8zM344.76 228.8v4.2M344.76 233l0.9 -1.4h-1.8zM347.03 228.8v4.2M347.03 233l0.9 -1.4h-1.8zM349.3 228.8v4.2M349.3 233l0.9 -1.4h-1.8z" stroke="#4a4af0" stroke-width="0.6" fill="#4a4af0"/>
<line x1="268.6" y1="211.4" x2="349.6" y2="211.4" stroke="#5a1a9a" stroke-width="1.2"/>
<path d="M355.6 211.4 L355.92 209.65 L356.24 208.65 L356.56 207.6 L356.88 206.53 L357.2 205.47 L357.52 204.42 L357.84 203.4 L358.16 202.42 L358.48 201.49 L358.81 200.61 L359.13 199.81 L359.45 199.09 L359.77 198.45 L360.09 197.9 L360.41 197.44 L360.73 197.09 L361.05 196.84 L361.37 196.7 L361.69 196.66 L362.01 196.65 L362.33 196.64 L362.65 196.64 L362.97 196.63 L363.29 196.63 L363.61 196.63 L363.93 196.63 L364.25 196.64 L364.57 196.64 L364.89 196.65 L365.22 196.66 L365.54 196.67 L365.86 196.68 L366.18 196.7 L366.5 196.71 L366.82 196.73 L367.14 196.74 L367.46 196.76 L367.78 196.78 L368.1 196.81 L368.42 196.83 L368.74 196.85 L369.06 196.88 L369.38 196.9 L369.7 196.93 L370.02 196.95 L370.34 196.98 L370.66 197.01 L370.98 197.04 L371.3 197.06 L371.62 197.09 L371.95 197.12 L372.27 197.14 L372.59 197.17 L372.91 197.2 L373.23 197.22 L373.55 197.25 L373.87 197.27 L374.19 197.3 L374.51 197.32 L374.83 197.34 L375.15 197.36 L375.47 197.38 L375.79 197.4 L376.11 197.42 L376.43 197.43 L376.75 197.44 L377.07 197.46 L377.39 197.47 L377.71 197.48 L378.04 197.48 L378.36 197.49 L378.68 197.49 L379 197.49 L379.32 197.49 L379.64 197.49 L379.96 197.49 L380.28 197.48 L380.6 197.48 L380.92 197.47 L381.24 197.46 L381.56 197.44 L381.88 197.43 L382.2 197.42 L382.52 197.4 L382.84 197.38 L383.16 197.36 L383.48 197.34 L383.8 197.32 L384.12 197.3 L384.44 197.27 L384.77 197.25 L385.09 197.22 L385.41 197.2 L385.73 197.17 L386.05 197.15 L386.37 197.12 L386.69 197.09 L387.01 197.06 L387.33 197.04 L387.65 197.01 L387.97 196.98 L388.29 196.95 L388.61 196.93 L388.93 196.9 L389.25 196.88 L389.57 196.85 L389.89 196.83 L390.21 196.81 L390.53 196.78 L390.86 196.76 L391.18 196.75 L391.5 196.73 L391.82 196.71 L392.14 196.7 L392.46 196.68 L392.78 196.67 L393.1 196.66 L393.42 196.65 L393.74 196.64 L394.06 196.64 L394.38 196.63 L394.7 196.63 L395.02 196.63 L395.34 196.63 L395.66 196.64 L395.98 196.64 L396.3 196.65 L396.62 196.66 L396.94 196.67 L397.26 196.68 L397.59 196.69 L397.91 196.71 L398.23 196.73 L398.55 196.74 L398.87 196.76 L399.19 196.78 L399.51 196.81 L399.83 196.83 L400.15 196.85 L400.47 196.88 L400.79 196.9 L401.11 196.93 L401.43 196.95 L401.75 196.98 L402.07 197.01 L402.39 197.03 L402.71 197.06 L403.03 197.09 L403.35 197.12 L403.68 197.14 L404 197.17 L404.32 197.2 L404.64 197.22 L404.96 197.25 L405.28 197.27 L405.6 197.3 L405.92 197.32 L406.24 197.34 L406.56 197.36 L406.88 197.38 L407.2 197.4 L407.52 197.42 L407.84 197.43 L408.16 197.44 L408.48 197.46 L408.8 197.47 L409.12 197.48 L409.44 197.48 L409.76 197.49 L410.08 197.49 L410.41 197.49 L410.73 197.49 L411.05 197.49 L411.37 197.49 L411.69 197.48 L412.01 197.48 L412.33 197.47 L412.65 197.46 L412.97 197.46 L413.29 197.52 L413.61 197.64 L413.93 197.8 L414.25 198.03 L414.57 198.3 L414.89 198.63 L415.21 199.01 L415.53 199.44 L415.85 199.92 L416.17 200.46 L416.5 201.05 L416.82 201.69 L417.14 202.38 L417.46 203.13 L417.78 203.93 L418.1 204.79 L418.42 205.71 L418.74 206.71 L419.06 207.79 L419.38 209.01 L419.7 211.4 L419.7 211.4 L419.38 213.79 L419.06 215.01 L418.74 216.09 L418.42 217.09 L418.1 218.01 L417.78 218.87 L417.46 219.67 L417.14 220.42 L416.82 221.11 L416.5 221.75 L416.17 222.34 L415.85 222.88 L415.53 223.36 L415.21 223.79 L414.89 224.17 L414.57 224.5 L414.25 224.77 L413.93 225 L413.61 225.16 L413.29 225.28 L412.97 225.34 L412.65 225.34 L412.33 225.33 L412.01 225.32 L411.69 225.32 L411.37 225.31 L411.05 225.31 L410.73 225.31 L410.41 225.31 L410.08 225.31 L409.76 225.31 L409.44 225.32 L409.12 225.32 L408.8 225.33 L408.48 225.34 L408.16 225.36 L407.84 225.37 L407.52 225.38 L407.2 225.4 L406.88 225.42 L406.56 225.44 L406.24 225.46 L405.92 225.48 L405.6 225.5 L405.28 225.53 L404.96 225.55 L404.64 225.58 L404.32 225.6 L404 225.63 L403.68 225.66 L403.35 225.68 L403.03 225.71 L402.71 225.74 L402.39 225.77 L402.07 225.79 L401.75 225.82 L401.43 225.85 L401.11 225.87 L400.79 225.9 L400.47 225.92 L400.15 225.95 L399.83 225.97 L399.51 225.99 L399.19 226.02 L398.87 226.04 L398.55 226.06 L398.23 226.07 L397.91 226.09 L397.59 226.11 L397.26 226.12 L396.94 226.13 L396.62 226.14 L396.3 226.15 L395.98 226.16 L395.66 226.16 L395.34 226.17 L395.02 226.17 L394.7 226.17 L394.38 226.17 L394.06 226.16 L393.74 226.16 L393.42 226.15 L393.1 226.14 L392.78 226.13 L392.46 226.12 L392.14 226.1 L391.82 226.09 L391.5 226.07 L391.18 226.05 L390.86 226.04 L390.53 226.02 L390.21 225.99 L389.89 225.97 L389.57 225.95 L389.25 225.92 L388.93 225.9 L388.61 225.87 L388.29 225.85 L387.97 225.82 L387.65 225.79 L387.33 225.76 L387.01 225.74 L386.69 225.71 L386.37 225.68 L386.05 225.65 L385.73 225.63 L385.41 225.6 L385.09 225.58 L384.77 225.55 L384.44 225.53 L384.12 225.5 L383.8 225.48 L383.48 225.46 L383.16 225.44 L382.84 225.42 L382.52 225.4 L382.2 225.38 L381.88 225.37 L381.56 225.36 L381.24 225.34 L380.92 225.33 L380.6 225.32 L380.28 225.32 L379.96 225.31 L379.64 225.31 L379.32 225.31 L379 225.31 L378.68 225.31 L378.36 225.31 L378.04 225.32 L377.71 225.32 L377.39 225.33 L377.07 225.34 L376.75 225.36 L376.43 225.37 L376.11 225.38 L375.79 225.4 L375.47 225.42 L375.15 225.44 L374.83 225.46 L374.51 225.48 L374.19 225.5 L373.87 225.53 L373.55 225.55 L373.23 225.58 L372.91 225.6 L372.59 225.63 L372.27 225.66 L371.95 225.68 L371.62 225.71 L371.3 225.74 L370.98 225.76 L370.66 225.79 L370.34 225.82 L370.02 225.85 L369.7 225.87 L369.38 225.9 L369.06 225.92 L368.74 225.95 L368.42 225.97 L368.1 225.99 L367.78 226.02 L367.46 226.04 L367.14 226.06 L366.82 226.07 L366.5 226.09 L366.18 226.1 L365.86 226.12 L365.54 226.13 L365.22 226.14 L364.89 226.15 L364.57 226.16 L364.25 226.16 L363.93 226.17 L363.61 226.17 L363.29 226.17 L362.97 226.17 L362.65 226.16 L362.33 226.16 L362.01 226.15 L361.69 226.14 L361.37 226.1 L361.05 225.96 L360.73 225.71 L360.41 225.36 L360.09 224.9 L359.77 224.35 L359.45 223.71 L359.13 222.99 L358.81 222.19 L358.48 221.31 L358.16 220.38 L357.84 219.4 L357.52 218.38 L357.2 217.33 L356.88 216.27 L356.56 215.2 L356.24 214.15 L355.92 213.15 L355.6 211.4Z" fill="#cfc8f6"/>
<path d="M356.2 208.78V214.02M357.94 203.1V219.7M359.68 198.61V224.19M361.42 196.68V226.12M363.16 196.63V226.17M364.9 196.65V226.15M366.64 196.72V226.08M368.38 196.83V225.97M370.12 196.96V225.84M371.86 197.11V225.69M373.6 197.25V225.55M375.34 197.37V225.43M377.08 197.46V225.34M378.82 197.49V225.31M380.56 197.48V225.32M382.3 197.41V225.39M384.04 197.3V225.5M385.78 197.17V225.63M387.52 197.02V225.78M389.26 196.88V225.92M391 196.76V226.04M392.74 196.67V226.13M394.48 196.63V226.17M396.22 196.65V226.15M397.96 196.71V226.09M399.7 196.82V225.98M401.44 196.95V225.85M403.18 197.1V225.7M404.92 197.25V225.55M406.66 197.37V225.43M408.4 197.45V225.35M410.14 197.49V225.31M411.88 197.48V225.32M413.62 197.64V225.16M415.36 199.2V223.6M417.1 202.3V220.5M418.84 207.04V215.76" stroke="#6e62ea" stroke-width="0.75" fill="none"/>
<line x1="349.6" y1="211.4" x2="429.8" y2="211.4" stroke="#6e62ea" stroke-width="0.6"/>
<path d="M389.5 228.2V233.2" stroke="#2020e0" stroke-width="1.1"/>
<path d="M389.5 235.2l2 -3h-4z" fill="#2020e0"/>
<rect x="268.6" y="131.6" width="161.2" height="48.3" fill="none" stroke="#2c2c2c" stroke-width="0.9"/>
<rect x="268.6" y="187.2" width="161.2" height="48.5" fill="none" stroke="#2c2c2c" stroke-width="0.9"/>
<line x1="271.66" y1="179.9" x2="271.66" y2="182.1" stroke="#2c2c2c" stroke-width="0.8"/>
<line x1="271.66" y1="131.6" x2="271.66" y2="133.8" stroke="#2c2c2c" stroke-width="0.8"/>
<line x1="279.68" y1="179.9" x2="279.68" y2="182.1" stroke="#2c2c2c" stroke-width="0.8"/>
<line x1="279.68" y1="131.6" x2="279.68" y2="133.8" stroke="#2c2c2c" stroke-width="0.8"/>
<line x1="287.7" y1="179.9" x2="287.7" y2="183.5" stroke="#2c2c2c" stroke-width="0.8"/>
<line x1="287.7" y1="131.6" x2="287.7" y2="135.2" stroke="#2c2c2c" stroke-width="0.8"/>
<line x1="295.72" y1="179.9" x2="295.72" y2="182.1" stroke="#2c2c2c" stroke-width="0.8"/>
<line x1="295.72" y1="131.6" x2="295.72" y2="133.8" stroke="#2c2c2c" stroke-width="0.8"/>
<line x1="303.74" y1="179.9" x2="303.74" y2="182.1" stroke="#2c2c2c" stroke-width="0.8"/>
<line x1="303.74" y1="131.6" x2="303.74" y2="133.8" stroke="#2c2c2c" stroke-width="0.8"/>
<line x1="311.76" y1="179.9" x2="311.76" y2="182.1" stroke="#2c2c2c" stroke-width="0.8"/>
<line x1="311.76" y1="131.6" x2="311.76" y2="133.8" stroke="#2c2c2c" stroke-width="0.8"/>
<line x1="319.78" y1="179.9" x2="319.78" y2="182.1" stroke="#2c2c2c" stroke-width="0.8"/>
<line x1="319.78" y1="131.6" x2="319.78" y2="133.8" stroke="#2c2c2c" stroke-width="0.8"/>
<line x1="327.8" y1="179.9" x2="327.8" y2="183.5" stroke="#2c2c2c" stroke-width="0.8"/>
<line x1="327.8" y1="131.6" x2="327.8" y2="135.2" stroke="#2c2c2c" stroke-width="0.8"/>
<line x1="335.82" y1="179.9" x2="335.82" y2="182.1" stroke="#2c2c2c" stroke-width="0.8"/>
<line x1="335.82" y1="131.6" x2="335.82" y2="133.8" stroke="#2c2c2c" stroke-width="0.8"/>
<line x1="343.84" y1="179.9" x2="343.84" y2="182.1" stroke="#2c2c2c" stroke-width="0.8"/>
<line x1="343.84" y1="131.6" x2="343.84" y2="133.8" stroke="#2c2c2c" stroke-width="0.8"/>
<line x1="355.9" y1="179.9" x2="355.9" y2="182.1" stroke="#2c2c2c" stroke-width="0.8"/>
<line x1="355.9" y1="131.6" x2="355.9" y2="133.8" stroke="#2c2c2c" stroke-width="0.8"/>
<line x1="362.1" y1="179.9" x2="362.1" y2="183.5" stroke="#2c2c2c" stroke-width="0.8"/>
<line x1="362.1" y1="131.6" x2="362.1" y2="135.2" stroke="#2c2c2c" stroke-width="0.8"/>
<line x1="368.3" y1="179.9" x2="368.3" y2="182.1" stroke="#2c2c2c" stroke-width="0.8"/>
<line x1="368.3" y1="131.6" x2="368.3" y2="133.8" stroke="#2c2c2c" stroke-width="0.8"/>
<line x1="374.5" y1="179.9" x2="374.5" y2="182.1" stroke="#2c2c2c" stroke-width="0.8"/>
<line x1="374.5" y1="131.6" x2="374.5" y2="133.8" stroke="#2c2c2c" stroke-width="0.8"/>
<line x1="380.7" y1="179.9" x2="380.7" y2="182.1" stroke="#2c2c2c" stroke-width="0.8"/>
<line x1="380.7" y1="131.6" x2="380.7" y2="133.8" stroke="#2c2c2c" stroke-width="0.8"/>
<line x1="386.9" y1="179.9" x2="386.9" y2="182.1" stroke="#2c2c2c" stroke-width="0.8"/>
<line x1="386.9" y1="131.6" x2="386.9" y2="133.8" stroke="#2c2c2c" stroke-width="0.8"/>
<line x1="393.1" y1="179.9" x2="393.1" y2="182.1" stroke="#2c2c2c" stroke-width="0.8"/>
<line x1="393.1" y1="131.6" x2="393.1" y2="133.8" stroke="#2c2c2c" stroke-width="0.8"/>
<line x1="399.3" y1="179.9" x2="399.3" y2="182.1" stroke="#2c2c2c" stroke-width="0.8"/>
<line x1="399.3" y1="131.6" x2="399.3" y2="133.8" stroke="#2c2c2c" stroke-width="0.8"/>
<line x1="405.5" y1="179.9" x2="405.5" y2="182.1" stroke="#2c2c2c" stroke-width="0.8"/>
<line x1="405.5" y1="131.6" x2="405.5" y2="133.8" stroke="#2c2c2c" stroke-width="0.8"/>
<line x1="411.7" y1="179.9" x2="411.7" y2="182.1" stroke="#2c2c2c" stroke-width="0.8"/>
<line x1="411.7" y1="131.6" x2="411.7" y2="133.8" stroke="#2c2c2c" stroke-width="0.8"/>
<line x1="417.9" y1="179.9" x2="417.9" y2="182.1" stroke="#2c2c2c" stroke-width="0.8"/>
<line x1="417.9" y1="131.6" x2="417.9" y2="133.8" stroke="#2c2c2c" stroke-width="0.8"/>
<line x1="424.1" y1="179.9" x2="424.1" y2="183.5" stroke="#2c2c2c" stroke-width="0.8"/>
<line x1="424.1" y1="131.6" x2="424.1" y2="135.2" stroke="#2c2c2c" stroke-width="0.8"/>
<line x1="350.9" y1="127.4" x2="348.3" y2="135.8" stroke="#222" stroke-width="0.8" stroke-dasharray="1.6 0.8"/>
<line x1="350.9" y1="175.7" x2="348.3" y2="184.1" stroke="#222" stroke-width="0.8" stroke-dasharray="1.6 0.8"/>
<line x1="271.66" y1="235.7" x2="271.66" y2="237.9" stroke="#2c2c2c" stroke-width="0.8"/>
<line x1="271.66" y1="187.2" x2="271.66" y2="189.4" stroke="#2c2c2c" stroke-width="0.8"/>
<line x1="279.68" y1="235.7" x2="279.68" y2="237.9" stroke="#2c2c2c" stroke-width="0.8"/>
<line x1="279.68" y1="187.2" x2="279.68" y2="189.4" stroke="#2c2c2c" stroke-width="0.8"/>
<line x1="287.7" y1="235.7" x2="287.7" y2="239.3" stroke="#2c2c2c" stroke-width="0.8"/>
<line x1="287.7" y1="187.2" x2="287.7" y2="190.8" stroke="#2c2c2c" stroke-width="0.8"/>
<line x1="295.72" y1="235.7" x2="295.72" y2="237.9" stroke="#2c2c2c" stroke-width="0.8"/>
<line x1="295.72" y1="187.2" x2="295.72" y2="189.4" stroke="#2c2c2c" stroke-width="0.8"/>
<line x1="303.74" y1="235.7" x2="303.74" y2="237.9" stroke="#2c2c2c" stroke-width="0.8"/>
<line x1="303.74" y1="187.2" x2="303.74" y2="189.4" stroke="#2c2c2c" stroke-width="0.8"/>
<line x1="311.76" y1="235.7" x2="311.76" y2="237.9" stroke="#2c2c2c" stroke-width="0.8"/>
<line x1="311.76" y1="187.2" x2="311.76" y2="189.4" stroke="#2c2c2c" stroke-width="0.8"/>
<line x1="319.78" y1="235.7" x2="319.78" y2="237.9" stroke="#2c2c2c" stroke-width="0.8"/>
<line x1="319.78" y1="187.2" x2="319.78" y2="189.4" stroke="#2c2c2c" stroke-width="0.8"/>
<line x1="327.8" y1="235.7" x2="327.8" y2="239.3" stroke="#2c2c2c" stroke-width="0.8"/>
<line x1="327.8" y1="187.2" x2="327.8" y2="190.8" stroke="#2c2c2c" stroke-width="0.8"/>
<line x1="335.82" y1="235.7" x2="335.82" y2="237.9" stroke="#2c2c2c" stroke-width="0.8"/>
<line x1="335.82" y1="187.2" x2="335.82" y2="189.4" stroke="#2c2c2c" stroke-width="0.8"/>
<line x1="343.84" y1="235.7" x2="343.84" y2="237.9" stroke="#2c2c2c" stroke-width="0.8"/>
<line x1="343.84" y1="187.2" x2="343.84" y2="189.4" stroke="#2c2c2c" stroke-width="0.8"/>
<line x1="355.9" y1="235.7" x2="355.9" y2="237.9" stroke="#2c2c2c" stroke-width="0.8"/>
<line x1="355.9" y1="187.2" x2="355.9" y2="189.4" stroke="#2c2c2c" stroke-width="0.8"/>
<line x1="362.1" y1="235.7" x2="362.1" y2="239.3" stroke="#2c2c2c" stroke-width="0.8"/>
<line x1="362.1" y1="187.2" x2="362.1" y2="190.8" stroke="#2c2c2c" stroke-width="0.8"/>
<line x1="368.3" y1="235.7" x2="368.3" y2="237.9" stroke="#2c2c2c" stroke-width="0.8"/>
<line x1="368.3" y1="187.2" x2="368.3" y2="189.4" stroke="#2c2c2c" stroke-width="0.8"/>
<line x1="374.5" y1="235.7" x2="374.5" y2="237.9" stroke="#2c2c2c" stroke-width="0.8"/>
<line x1="374.5" y1="187.2" x2="374.5" y2="189.4" stroke="#2c2c2c" stroke-width="0.8"/>
<line x1="380.7" y1="235.7" x2="380.7" y2="237.9" stroke="#2c2c2c" stroke-width="0.8"/>
<line x1="380.7" y1="187.2" x2="380.7" y2="189.4" stroke="#2c2c2c" stroke-width="0.8"/>
<line x1="386.9" y1="235.7" x2="386.9" y2="237.9" stroke="#2c2c2c" stroke-width="0.8"/>
<line x1="386.9" y1="187.2" x2="386.9" y2="189.4" stroke="#2c2c2c" stroke-width="0.8"/>
<line x1="393.1" y1="235.7" x2="393.1" y2="237.9" stroke="#2c2c2c" stroke-width="0.8"/>
<line x1="393.1" y1="187.2" x2="393.1" y2="189.4" stroke="#2c2c2c" stroke-width="0.8"/>
<line x1="399.3" y1="235.7" x2="399.3" y2="237.9" stroke="#2c2c2c" stroke-width="0.8"/>
<line x1="399.3" y1="187.2" x2="399.3" y2="189.4" stroke="#2c2c2c" stroke-width="0.8"/>
<line x1="405.5" y1="235.7" x2="405.5" y2="237.9" stroke="#2c2c2c" stroke-width="0.8"/>
<line x1="405.5" y1="187.2" x2="405.5" y2="189.4" stroke="#2c2c2c" stroke-width="0.8"/>
<line x1="411.7" y1="235.7" x2="411.7" y2="237.9" stroke="#2c2c2c" stroke-width="0.8"/>
<line x1="411.7" y1="187.2" x2="411.7" y2="189.4" stroke="#2c2c2c" stroke-width="0.8"/>
<line x1="417.9" y1="235.7" x2="417.9" y2="237.9" stroke="#2c2c2c" stroke-width="0.8"/>
<line x1="417.9" y1="187.2" x2="417.9" y2="189.4" stroke="#2c2c2c" stroke-width="0.8"/>
<line x1="424.1" y1="235.7" x2="424.1" y2="239.3" stroke="#2c2c2c" stroke-width="0.8"/>
<line x1="424.1" y1="187.2" x2="424.1" y2="190.8" stroke="#2c2c2c" stroke-width="0.8"/>
<line x1="350.9" y1="183" x2="348.3" y2="191.4" stroke="#222" stroke-width="0.8" stroke-dasharray="1.6 0.8"/>
<line x1="350.9" y1="231.5" x2="348.3" y2="239.9" stroke="#222" stroke-width="0.8" stroke-dasharray="1.6 0.8"/>
<line x1="266.7" y1="179.68" x2="268.6" y2="179.68" stroke="#2c2c2c" stroke-width="0.8"/>
<line x1="429.8" y1="179.68" x2="427.9" y2="179.68" stroke="#2c2c2c" stroke-width="0.8"/>
<line x1="265" y1="176" x2="268.6" y2="176" stroke="#2c2c2c" stroke-width="0.8"/>
<line x1="429.8" y1="176" x2="426.2" y2="176" stroke="#2c2c2c" stroke-width="0.8"/>
<line x1="266.7" y1="172.32" x2="268.6" y2="172.32" stroke="#2c2c2c" stroke-width="0.8"/>
<line x1="429.8" y1="172.32" x2="427.9" y2="172.32" stroke="#2c2c2c" stroke-width="0.8"/>
<line x1="266.7" y1="168.64" x2="268.6" y2="168.64" stroke="#2c2c2c" stroke-width="0.8"/>
<line x1="429.8" y1="168.64" x2="427.9" y2="168.64" stroke="#2c2c2c" stroke-width="0.8"/>
<line x1="266.7" y1="164.96" x2="268.6" y2="164.96" stroke="#2c2c2c" stroke-width="0.8"/>
<line x1="429.8" y1="164.96" x2="427.9" y2="164.96" stroke="#2c2c2c" stroke-width="0.8"/>
<line x1="266.7" y1="161.28" x2="268.6" y2="161.28" stroke="#2c2c2c" stroke-width="0.8"/>
<line x1="429.8" y1="161.28" x2="427.9" y2="161.28" stroke="#2c2c2c" stroke-width="0.8"/>
<line x1="265" y1="157.6" x2="268.6" y2="157.6" stroke="#2c2c2c" stroke-width="0.8"/>
<line x1="429.8" y1="157.6" x2="426.2" y2="157.6" stroke="#2c2c2c" stroke-width="0.8"/>
<line x1="266.7" y1="153.92" x2="268.6" y2="153.92" stroke="#2c2c2c" stroke-width="0.8"/>
<line x1="429.8" y1="153.92" x2="427.9" y2="153.92" stroke="#2c2c2c" stroke-width="0.8"/>
<line x1="266.7" y1="150.24" x2="268.6" y2="150.24" stroke="#2c2c2c" stroke-width="0.8"/>
<line x1="429.8" y1="150.24" x2="427.9" y2="150.24" stroke="#2c2c2c" stroke-width="0.8"/>
<line x1="266.7" y1="146.56" x2="268.6" y2="146.56" stroke="#2c2c2c" stroke-width="0.8"/>
<line x1="429.8" y1="146.56" x2="427.9" y2="146.56" stroke="#2c2c2c" stroke-width="0.8"/>
<line x1="266.7" y1="142.88" x2="268.6" y2="142.88" stroke="#2c2c2c" stroke-width="0.8"/>
<line x1="429.8" y1="142.88" x2="427.9" y2="142.88" stroke="#2c2c2c" stroke-width="0.8"/>
<line x1="265" y1="139.2" x2="268.6" y2="139.2" stroke="#2c2c2c" stroke-width="0.8"/>
<line x1="429.8" y1="139.2" x2="426.2" y2="139.2" stroke="#2c2c2c" stroke-width="0.8"/>
<line x1="266.7" y1="135.52" x2="268.6" y2="135.52" stroke="#2c2c2c" stroke-width="0.8"/>
<line x1="429.8" y1="135.52" x2="427.9" y2="135.52" stroke="#2c2c2c" stroke-width="0.8"/>
<line x1="266.7" y1="131.84" x2="268.6" y2="131.84" stroke="#2c2c2c" stroke-width="0.8"/>
<line x1="429.8" y1="131.84" x2="427.9" y2="131.84" stroke="#2c2c2c" stroke-width="0.8"/>
<line x1="264.2" y1="235.7" x2="268.6" y2="235.7" stroke="#2c2c2c" stroke-width="0.8"/>
<line x1="429.8" y1="235.7" x2="426.8" y2="235.7" stroke="#2c2c2c" stroke-width="0.8"/>
<line x1="264.2" y1="223.55" x2="268.6" y2="223.55" stroke="#2c2c2c" stroke-width="0.8"/>
<line x1="429.8" y1="223.55" x2="426.8" y2="223.55" stroke="#2c2c2c" stroke-width="0.8"/>
<line x1="264.2" y1="211.4" x2="268.6" y2="211.4" stroke="#2c2c2c" stroke-width="0.8"/>
<line x1="429.8" y1="211.4" x2="426.8" y2="211.4" stroke="#2c2c2c" stroke-width="0.8"/>
<line x1="264.2" y1="199.25" x2="268.6" y2="199.25" stroke="#2c2c2c" stroke-width="0.8"/>
<line x1="429.8" y1="199.25" x2="426.8" y2="199.25" stroke="#2c2c2c" stroke-width="0.8"/>
<line x1="264.2" y1="187.1" x2="268.6" y2="187.1" stroke="#2c2c2c" stroke-width="0.8"/>
<line x1="429.8" y1="187.1" x2="426.8" y2="187.1" stroke="#2c2c2c" stroke-width="0.8"/>
<text x="262" y="142.2" font-size="9" text-anchor="end" font-weight="normal" fill="#1a1a1a" stroke="#1a1a1a" stroke-width="0.12">1.0</text>
<text x="262" y="160.6" font-size="9" text-anchor="end" font-weight="normal" fill="#1a1a1a" stroke="#1a1a1a" stroke-width="0.12">0.5</text>
<text x="262" y="179" font-size="9" text-anchor="end" font-weight="normal" fill="#1a1a1a" stroke="#1a1a1a" stroke-width="0.12">0.0</text>
<text x="262" y="190.1" font-size="9" text-anchor="end" font-weight="normal" fill="#1a1a1a" stroke="#1a1a1a" stroke-width="0.12">0.2</text>
<text x="262" y="202.25" font-size="9" text-anchor="end" font-weight="normal" fill="#1a1a1a" stroke="#1a1a1a" stroke-width="0.12">0.1</text>
<text x="262" y="214.4" font-size="9" text-anchor="end" font-weight="normal" fill="#1a1a1a" stroke="#1a1a1a" stroke-width="0.12">0.0</text>
<text x="262" y="226.55" font-size="9" text-anchor="end" font-weight="normal" fill="#1a1a1a" stroke="#1a1a1a" stroke-width="0.12">-0.1</text>
<text x="262" y="238.7" font-size="9" text-anchor="end" font-weight="normal" fill="#1a1a1a" stroke="#1a1a1a" stroke-width="0.12">-0.2</text>
<text x="287.7" y="250.3" font-size="8.2" text-anchor="middle" font-weight="normal" fill="#1a1a1a" stroke="#1a1a1a" stroke-width="0.12">1.195</text>
<text x="327.8" y="250.3" font-size="8.2" text-anchor="middle" font-weight="normal" fill="#1a1a1a" stroke="#1a1a1a" stroke-width="0.12">1.200</text>
<text x="362.1" y="250.3" font-size="8.2" text-anchor="middle" font-weight="normal" fill="#1a1a1a" stroke="#1a1a1a" stroke-width="0.12">1.2028</text>
<text x="424.1" y="250.3" font-size="8.2" text-anchor="middle" font-weight="normal" fill="#1a1a1a" stroke="#1a1a1a" stroke-width="0.12">1.2029</text>
<text x="349.9" y="261.2" font-size="8.6" text-anchor="middle" font-weight="normal" fill="#1a1a1a" stroke="#1a1a1a" stroke-width="0.12">Time (ms)</text>
<text x="21.3" y="149.5" font-size="8.6" text-anchor="middle" font-weight="normal" fill="#1a1a1a" stroke="#1a1a1a" stroke-width="0.12" transform="rotate(-90 21.3 149.5)">Phase detector</text>
<text x="31.8" y="149" font-size="8.6" text-anchor="middle" font-weight="normal" fill="#1a1a1a" stroke="#1a1a1a" stroke-width="0.12" transform="rotate(-90 31.8 149)">output (V)</text>
<text x="21" y="208.8" font-size="8.6" text-anchor="middle" font-weight="normal" fill="#1a1a1a" stroke="#1a1a1a" stroke-width="0.12" transform="rotate(-90 21 208.8)">RF pulse</text>
<text x="31.8" y="211.2" font-size="8.6" text-anchor="middle" font-weight="normal" fill="#1a1a1a" stroke="#1a1a1a" stroke-width="0.12" transform="rotate(-90 31.8 211.2)">amplitude (V)</text>
<defs><linearGradient id="cb" x1="0" y1="1" x2="0" y2="0"><stop offset="0" stop-color="#1414ff"/><stop offset="0.5" stop-color="#8a1aa0"/><stop offset="1" stop-color="#ff1a10"/></linearGradient></defs>
<rect x="434.7" y="131.5" width="9.6" height="104.2" fill="url(#cb)" stroke="#333" stroke-width="0.6"/>
<line x1="444.3" y1="228.9" x2="449" y2="228.9" stroke="#2c2c2c" stroke-width="0.8"/>
<text x="451.4" y="231.7" font-size="7.8" text-anchor="start" font-weight="normal" fill="#1a1a1a" stroke="#1a1a1a" stroke-width="0.12">0.0</text>
<line x1="444.3" y1="219.79" x2="446.5" y2="219.79" stroke="#2c2c2c" stroke-width="0.8"/>
<line x1="444.3" y1="210.68" x2="449" y2="210.68" stroke="#2c2c2c" stroke-width="0.8"/>
<text x="451.4" y="213.48" font-size="7.8" text-anchor="start" font-weight="normal" fill="#1a1a1a" stroke="#1a1a1a" stroke-width="0.12">0.2</text>
<line x1="444.3" y1="201.57" x2="446.5" y2="201.57" stroke="#2c2c2c" stroke-width="0.8"/>
<line x1="444.3" y1="192.46" x2="449" y2="192.46" stroke="#2c2c2c" stroke-width="0.8"/>
<text x="451.4" y="195.26" font-size="7.8" text-anchor="start" font-weight="normal" fill="#1a1a1a" stroke="#1a1a1a" stroke-width="0.12">0.4</text>
<line x1="444.3" y1="183.35" x2="446.5" y2="183.35" stroke="#2c2c2c" stroke-width="0.8"/>
<line x1="444.3" y1="174.24" x2="449" y2="174.24" stroke="#2c2c2c" stroke-width="0.8"/>
<text x="451.4" y="177.04" font-size="7.8" text-anchor="start" font-weight="normal" fill="#1a1a1a" stroke="#1a1a1a" stroke-width="0.12">0.6</text>
<line x1="444.3" y1="165.13" x2="446.5" y2="165.13" stroke="#2c2c2c" stroke-width="0.8"/>
<line x1="444.3" y1="156.02" x2="449" y2="156.02" stroke="#2c2c2c" stroke-width="0.8"/>
<text x="451.4" y="158.82" font-size="7.8" text-anchor="start" font-weight="normal" fill="#1a1a1a" stroke="#1a1a1a" stroke-width="0.12">0.8</text>
<line x1="444.3" y1="146.91" x2="446.5" y2="146.91" stroke="#2c2c2c" stroke-width="0.8"/>
<line x1="444.3" y1="137.8" x2="449" y2="137.8" stroke="#2c2c2c" stroke-width="0.8"/>
<text x="451.4" y="140.6" font-size="7.8" text-anchor="start" font-weight="normal" fill="#1a1a1a" stroke="#1a1a1a" stroke-width="0.12">1.0</text>
<text x="475.6" y="183.5" font-size="8.75" text-anchor="middle" font-weight="normal" fill="#1a1a1a" stroke="#1a1a1a" stroke-width="0.12" transform="rotate(-90 475.6 183.5)">Phase detector output (V)</text>
<text x="-0.1" y="268.4" font-size="12.5" text-anchor="start" font-weight="bold" fill="#111">g)</text>
<rect x="57.25" y="291.14" width="3.2" height="12.46" fill="#f21c1c"/>
<rect x="67.17" y="302.32" width="3.2" height="1.28" fill="#f21c1c"/>
<rect x="77.09" y="303.32" width="3.2" height="0.28" fill="#f21c1c"/>
<rect x="87.01" y="300.22" width="3.2" height="3.38" fill="#f21c1c"/>
<rect x="96.93" y="301.89" width="3.2" height="1.71" fill="#f21c1c"/>
<rect x="106.85" y="302.46" width="3.2" height="1.14" fill="#f21c1c"/>
<rect x="116.77" y="302.32" width="3.2" height="1.28" fill="#f21c1c"/>
<rect x="126.69" y="302.32" width="3.2" height="1.28" fill="#f21c1c"/>
<rect x="136.61" y="301.54" width="3.2" height="2.06" fill="#f21c1c"/>
<rect x="146.53" y="301.89" width="3.2" height="1.71" fill="#f21c1c"/>
<rect x="156.45" y="301.89" width="3.2" height="1.71" fill="#f21c1c"/>
<rect x="166.37" y="302.46" width="3.2" height="1.14" fill="#f21c1c"/>
<rect x="176.29" y="302.71" width="3.2" height="0.89" fill="#f21c1c"/>
<rect x="186.21" y="302.78" width="3.2" height="0.82" fill="#f21c1c"/>
<rect x="196.13" y="303.32" width="3.2" height="0.28" fill="#f21c1c"/>
<rect x="206.05" y="303.42" width="3.2" height="0.18" fill="#f21c1c"/>
<line x1="52.4" y1="268" x2="52.4" y2="304" stroke="#2c2c2c" stroke-width="0.9"/>
<line x1="48.8" y1="268" x2="226" y2="268" stroke="#2c2c2c" stroke-width="0.9"/>
<line x1="226" y1="268" x2="226" y2="303.6" stroke="#2c2c2c" stroke-width="0.9"/>
<line x1="52.4" y1="303.6" x2="226" y2="303.6" stroke="#2c2c2c" stroke-width="0.9"/>
<line x1="48.8" y1="303.6" x2="52.4" y2="303.6" stroke="#2c2c2c" stroke-width="0.8"/>
<line x1="50.5" y1="300.04" x2="52.4" y2="300.04" stroke="#2c2c2c" stroke-width="0.8"/>
<line x1="50.5" y1="296.48" x2="52.4" y2="296.48" stroke="#2c2c2c" stroke-width="0.8"/>
<line x1="50.5" y1="292.92" x2="52.4" y2="292.92" stroke="#2c2c2c" stroke-width="0.8"/>
<line x1="50.5" y1="289.36" x2="52.4" y2="289.36" stroke="#2c2c2c" stroke-width="0.8"/>
<line x1="48.8" y1="285.8" x2="52.4" y2="285.8" stroke="#2c2c2c" stroke-width="0.8"/>
<line x1="50.5" y1="282.24" x2="52.4" y2="282.24" stroke="#2c2c2c" stroke-width="0.8"/>
<line x1="50.5" y1="278.68" x2="52.4" y2="278.68" stroke="#2c2c2c" stroke-width="0.8"/>
<line x1="50.5" y1="275.12" x2="52.4" y2="275.12" stroke="#2c2c2c" stroke-width="0.8"/>
<line x1="50.5" y1="271.56" x2="52.4" y2="271.56" stroke="#2c2c2c" stroke-width="0.8"/>
<line x1="48.8" y1="268" x2="52.4" y2="268" stroke="#2c2c2c" stroke-width="0.8"/>
<line x1="52.4" y1="303.6" x2="52.4" y2="307.8" stroke="#2c2c2c" stroke-width="0.8"/>
<line x1="54.88" y1="303.6" x2="54.88" y2="305.7" stroke="#2c2c2c" stroke-width="0.7"/>
<line x1="57.36" y1="303.6" x2="57.36" y2="305.7" stroke="#2c2c2c" stroke-width="0.7"/>
<line x1="59.84" y1="303.6" x2="59.84" y2="305.7" stroke="#2c2c2c" stroke-width="0.7"/>
<line x1="62.32" y1="303.6" x2="62.32" y2="305.7" stroke="#2c2c2c" stroke-width="0.7"/>
<line x1="64.8" y1="303.6" x2="64.8" y2="305.7" stroke="#2c2c2c" stroke-width="0.7"/>
<line x1="67.28" y1="303.6" x2="67.28" y2="305.7" stroke="#2c2c2c" stroke-width="0.7"/>
<line x1="69.76" y1="303.6" x2="69.76" y2="305.7" stroke="#2c2c2c" stroke-width="0.7"/>
<line x1="72.24" y1="303.6" x2="72.24" y2="305.7" stroke="#2c2c2c" stroke-width="0.7"/>
<line x1="74.72" y1="303.6" x2="74.72" y2="305.7" stroke="#2c2c2c" stroke-width="0.7"/>
<line x1="77.2" y1="303.6" x2="77.2" y2="307.8" stroke="#2c2c2c" stroke-width="0.8"/>
<line x1="79.68" y1="303.6" x2="79.68" y2="305.7" stroke="#2c2c2c" stroke-width="0.7"/>
<line x1="82.16" y1="303.6" x2="82.16" y2="305.7" stroke="#2c2c2c" stroke-width="0.7"/>
<line x1="84.64" y1="303.6" x2="84.64" y2="305.7" stroke="#2c2c2c" stroke-width="0.7"/>
<line x1="87.12" y1="303.6" x2="87.12" y2="305.7" stroke="#2c2c2c" stroke-width="0.7"/>
<line x1="89.6" y1="303.6" x2="89.6" y2="305.7" stroke="#2c2c2c" stroke-width="0.7"/>
<line x1="92.08" y1="303.6" x2="92.08" y2="305.7" stroke="#2c2c2c" stroke-width="0.7"/>
<line x1="94.56" y1="303.6" x2="94.56" y2="305.7" stroke="#2c2c2c" stroke-width="0.7"/>
<line x1="97.04" y1="303.6" x2="97.04" y2="305.7" stroke="#2c2c2c" stroke-width="0.7"/>
<line x1="99.52" y1="303.6" x2="99.52" y2="305.7" stroke="#2c2c2c" stroke-width="0.7"/>
<line x1="102" y1="303.6" x2="102" y2="307.8" stroke="#2c2c2c" stroke-width="0.8"/>
<line x1="104.48" y1="303.6" x2="104.48" y2="305.7" stroke="#2c2c2c" stroke-width="0.7"/>
<line x1="106.96" y1="303.6" x2="106.96" y2="305.7" stroke="#2c2c2c" stroke-width="0.7"/>
<line x1="109.44" y1="303.6" x2="109.44" y2="305.7" stroke="#2c2c2c" stroke-width="0.7"/>
<line x1="111.92" y1="303.6" x2="111.92" y2="305.7" stroke="#2c2c2c" stroke-width="0.7"/>
<line x1="114.4" y1="303.6" x2="114.4" y2="305.7" stroke="#2c2c2c" stroke-width="0.7"/>
<line x1="116.88" y1="303.6" x2="116.88" y2="305.7" stroke="#2c2c2c" stroke-width="0.7"/>
<line x1="119.36" y1="303.6" x2="119.36" y2="305.7" stroke="#2c2c2c" stroke-width="0.7"/>
<line x1="121.84" y1="303.6" x2="121.84" y2="305.7" stroke="#2c2c2c" stroke-width="0.7"/>
<line x1="124.32" y1="303.6" x2="124.32" y2="305.7" stroke="#2c2c2c" stroke-width="0.7"/>
<line x1="126.8" y1="303.6" x2="126.8" y2="307.8" stroke="#2c2c2c" stroke-width="0.8"/>
<line x1="129.28" y1="303.6" x2="129.28" y2="305.7" stroke="#2c2c2c" stroke-width="0.7"/>
<line x1="131.76" y1="303.6" x2="131.76" y2="305.7" stroke="#2c2c2c" stroke-width="0.7"/>
<line x1="134.24" y1="303.6" x2="134.24" y2="305.7" stroke="#2c2c2c" stroke-width="0.7"/>
<line x1="136.72" y1="303.6" x2="136.72" y2="305.7" stroke="#2c2c2c" stroke-width="0.7"/>
<line x1="139.2" y1="303.6" x2="139.2" y2="305.7" stroke="#2c2c2c" stroke-width="0.7"/>
<line x1="141.68" y1="303.6" x2="141.68" y2="305.7" stroke="#2c2c2c" stroke-width="0.7"/>
<line x1="144.16" y1="303.6" x2="144.16" y2="305.7" stroke="#2c2c2c" stroke-width="0.7"/>
<line x1="146.64" y1="303.6" x2="146.64" y2="305.7" stroke="#2c2c2c" stroke-width="0.7"/>
<line x1="149.12" y1="303.6" x2="149.12" y2="305.7" stroke="#2c2c2c" stroke-width="0.7"/>
<line x1="151.6" y1="303.6" x2="151.6" y2="307.8" stroke="#2c2c2c" stroke-width="0.8"/>
<line x1="154.08" y1="303.6" x2="154.08" y2="305.7" stroke="#2c2c2c" stroke-width="0.7"/>
<line x1="156.56" y1="303.6" x2="156.56" y2="305.7" stroke="#2c2c2c" stroke-width="0.7"/>
<line x1="159.04" y1="303.6" x2="159.04" y2="305.7" stroke="#2c2c2c" stroke-width="0.7"/>
<line x1="161.52" y1="303.6" x2="161.52" y2="305.7" stroke="#2c2c2c" stroke-width="0.7"/>
<line x1="164" y1="303.6" x2="164" y2="305.7" stroke="#2c2c2c" stroke-width="0.7"/>
<line x1="166.48" y1="303.6" x2="166.48" y2="305.7" stroke="#2c2c2c" stroke-width="0.7"/>
<line x1="168.96" y1="303.6" x2="168.96" y2="305.7" stroke="#2c2c2c" stroke-width="0.7"/>
<line x1="171.44" y1="303.6" x2="171.44" y2="305.7" stroke="#2c2c2c" stroke-width="0.7"/>
<line x1="173.92" y1="303.6" x2="173.92" y2="305.7" stroke="#2c2c2c" stroke-width="0.7"/>
<line x1="176.4" y1="303.6" x2="176.4" y2="307.8" stroke="#2c2c2c" stroke-width="0.8"/>
<line x1="178.88" y1="303.6" x2="178.88" y2="305.7" stroke="#2c2c2c" stroke-width="0.7"/>
<line x1="181.36" y1="303.6" x2="181.36" y2="305.7" stroke="#2c2c2c" stroke-width="0.7"/>
<line x1="183.84" y1="303.6" x2="183.84" y2="305.7" stroke="#2c2c2c" stroke-width="0.7"/>
<line x1="186.32" y1="303.6" x2="186.32" y2="305.7" stroke="#2c2c2c" stroke-width="0.7"/>
<line x1="188.8" y1="303.6" x2="188.8" y2="305.7" stroke="#2c2c2c" stroke-width="0.7"/>
<line x1="191.28" y1="303.6" x2="191.28" y2="305.7" stroke="#2c2c2c" stroke-width="0.7"/>
<line x1="193.76" y1="303.6" x2="193.76" y2="305.7" stroke="#2c2c2c" stroke-width="0.7"/>
<line x1="196.24" y1="303.6" x2="196.24" y2="305.7" stroke="#2c2c2c" stroke-width="0.7"/>
<line x1="198.72" y1="303.6" x2="198.72" y2="305.7" stroke="#2c2c2c" stroke-width="0.7"/>
<line x1="201.2" y1="303.6" x2="201.2" y2="307.8" stroke="#2c2c2c" stroke-width="0.8"/>
<line x1="203.68" y1="303.6" x2="203.68" y2="305.7" stroke="#2c2c2c" stroke-width="0.7"/>
<line x1="206.16" y1="303.6" x2="206.16" y2="305.7" stroke="#2c2c2c" stroke-width="0.7"/>
<line x1="208.64" y1="303.6" x2="208.64" y2="305.7" stroke="#2c2c2c" stroke-width="0.7"/>
<line x1="211.12" y1="303.6" x2="211.12" y2="305.7" stroke="#2c2c2c" stroke-width="0.7"/>
<line x1="213.6" y1="303.6" x2="213.6" y2="305.7" stroke="#2c2c2c" stroke-width="0.7"/>
<line x1="216.08" y1="303.6" x2="216.08" y2="305.7" stroke="#2c2c2c" stroke-width="0.7"/>
<line x1="218.56" y1="303.6" x2="218.56" y2="305.7" stroke="#2c2c2c" stroke-width="0.7"/>
<line x1="221.04" y1="303.6" x2="221.04" y2="305.7" stroke="#2c2c2c" stroke-width="0.7"/>
<line x1="223.52" y1="303.6" x2="223.52" y2="305.7" stroke="#2c2c2c" stroke-width="0.7"/>
<line x1="226" y1="303.6" x2="226" y2="307.8" stroke="#2c2c2c" stroke-width="0.8"/>
<text x="52.4" y="316.4" font-size="7.8" text-anchor="middle" font-weight="normal" fill="#1a1a1a" stroke="#1a1a1a" stroke-width="0.12">-220</text>
<text x="77.2" y="316.4" font-size="7.8" text-anchor="middle" font-weight="normal" fill="#1a1a1a" stroke="#1a1a1a" stroke-width="0.12">-210</text>
<text x="102" y="316.4" font-size="7.8" text-anchor="middle" font-weight="normal" fill="#1a1a1a" stroke="#1a1a1a" stroke-width="0.12">-200</text>
<text x="126.8" y="316.4" font-size="7.8" text-anchor="middle" font-weight="normal" fill="#1a1a1a" stroke="#1a1a1a" stroke-width="0.12">-190</text>
<text x="151.6" y="316.4" font-size="7.8" text-anchor="middle" font-weight="normal" fill="#1a1a1a" stroke="#1a1a1a" stroke-width="0.12">-180</text>
<text x="176.4" y="316.4" font-size="7.8" text-anchor="middle" font-weight="normal" fill="#1a1a1a" stroke="#1a1a1a" stroke-width="0.12">-170</text>
<text x="201.2" y="316.4" font-size="7.8" text-anchor="middle" font-weight="normal" fill="#1a1a1a" stroke="#1a1a1a" stroke-width="0.12">-160</text>
<text x="226" y="316.4" font-size="7.8" text-anchor="middle" font-weight="normal" fill="#1a1a1a" stroke="#1a1a1a" stroke-width="0.12">-150</text>
<text x="45.4" y="270.6" font-size="7.8" text-anchor="end" font-weight="normal" fill="#1a1a1a" stroke="#1a1a1a" stroke-width="0.12">100</text>
<text x="45.4" y="288.4" font-size="7.8" text-anchor="end" font-weight="normal" fill="#1a1a1a" stroke="#1a1a1a" stroke-width="0.12">50</text>
<text x="45.4" y="306.2" font-size="7.8" text-anchor="end" font-weight="normal" fill="#1a1a1a" stroke="#1a1a1a" stroke-width="0.12">0</text>
<text x="139.7" y="329.8" font-size="7.8" text-anchor="middle" font-weight="normal" fill="#1a1a1a" stroke="#1a1a1a" stroke-width="0.12">Ising Energy</text>
<text x="17.8" y="287" font-size="7.9" text-anchor="middle" font-weight="normal" fill="#1a1a1a" stroke="#1a1a1a" stroke-width="0.12" transform="rotate(-90 17.8 287)">Solution</text>
<text x="28.6" y="284.5" font-size="7.9" text-anchor="middle" font-weight="normal" fill="#1a1a1a" stroke="#1a1a1a" stroke-width="0.12" transform="rotate(-90 28.6 284.5)">probability (%)</text>
<text x="234.4" y="271.1" font-size="12.5" text-anchor="start" font-weight="bold" fill="#111">h)</text>
<rect x="272.64" y="273.01" width="3.2" height="30.79" fill="#f21c1c"/>
<rect x="292.43" y="303.33" width="3.2" height="0.47" fill="#f21c1c"/>
<rect x="302.33" y="303.33" width="3.2" height="0.47" fill="#f21c1c"/>
<rect x="312.23" y="303.33" width="3.2" height="0.47" fill="#f21c1c"/>
<rect x="322.12" y="303.33" width="3.2" height="0.47" fill="#f21c1c"/>
<rect x="332.02" y="303.33" width="3.2" height="0.47" fill="#f21c1c"/>
<rect x="341.92" y="301.94" width="3.2" height="1.86" fill="#f21c1c"/>
<rect x="351.82" y="302.65" width="3.2" height="1.15" fill="#f21c1c"/>
<rect x="361.71" y="303.33" width="3.2" height="0.47" fill="#f21c1c"/>
<rect x="371.61" y="303.33" width="3.2" height="0.47" fill="#f21c1c"/>
<rect x="381.51" y="301.94" width="3.2" height="1.86" fill="#f21c1c"/>
<rect x="391.4" y="303.33" width="3.2" height="0.47" fill="#f21c1c"/>
<rect x="401.3" y="303.44" width="3.2" height="0.36" fill="#f21c1c"/>
<rect x="411.2" y="303.59" width="3.2" height="0.21" fill="#f21c1c"/>
<line x1="268.3" y1="268" x2="268.3" y2="304.2" stroke="#2c2c2c" stroke-width="0.9"/>
<line x1="264.7" y1="268" x2="441.5" y2="268" stroke="#2c2c2c" stroke-width="0.9"/>
<line x1="441.5" y1="268" x2="441.5" y2="303.8" stroke="#2c2c2c" stroke-width="0.9"/>
<line x1="268.3" y1="303.8" x2="441.5" y2="303.8" stroke="#2c2c2c" stroke-width="0.9"/>
<line x1="264.7" y1="303.8" x2="268.3" y2="303.8" stroke="#2c2c2c" stroke-width="0.8"/>
<line x1="266.4" y1="300.22" x2="268.3" y2="300.22" stroke="#2c2c2c" stroke-width="0.8"/>
<line x1="266.4" y1="296.64" x2="268.3" y2="296.64" stroke="#2c2c2c" stroke-width="0.8"/>
<line x1="266.4" y1="293.06" x2="268.3" y2="293.06" stroke="#2c2c2c" stroke-width="0.8"/>
<line x1="266.4" y1="289.48" x2="268.3" y2="289.48" stroke="#2c2c2c" stroke-width="0.8"/>
<line x1="264.7" y1="285.9" x2="268.3" y2="285.9" stroke="#2c2c2c" stroke-width="0.8"/>
<line x1="266.4" y1="282.32" x2="268.3" y2="282.32" stroke="#2c2c2c" stroke-width="0.8"/>
<line x1="266.4" y1="278.74" x2="268.3" y2="278.74" stroke="#2c2c2c" stroke-width="0.8"/>
<line x1="266.4" y1="275.16" x2="268.3" y2="275.16" stroke="#2c2c2c" stroke-width="0.8"/>
<line x1="266.4" y1="271.58" x2="268.3" y2="271.58" stroke="#2c2c2c" stroke-width="0.8"/>
<line x1="264.7" y1="268" x2="268.3" y2="268" stroke="#2c2c2c" stroke-width="0.8"/>
<line x1="268.3" y1="303.8" x2="268.3" y2="308" stroke="#2c2c2c" stroke-width="0.8"/>
<line x1="270.77" y1="303.8" x2="270.77" y2="305.9" stroke="#2c2c2c" stroke-width="0.7"/>
<line x1="273.25" y1="303.8" x2="273.25" y2="305.9" stroke="#2c2c2c" stroke-width="0.7"/>
<line x1="275.72" y1="303.8" x2="275.72" y2="305.9" stroke="#2c2c2c" stroke-width="0.7"/>
<line x1="278.2" y1="303.8" x2="278.2" y2="305.9" stroke="#2c2c2c" stroke-width="0.7"/>
<line x1="280.67" y1="303.8" x2="280.67" y2="305.9" stroke="#2c2c2c" stroke-width="0.7"/>
<line x1="283.15" y1="303.8" x2="283.15" y2="305.9" stroke="#2c2c2c" stroke-width="0.7"/>
<line x1="285.62" y1="303.8" x2="285.62" y2="305.9" stroke="#2c2c2c" stroke-width="0.7"/>
<line x1="288.09" y1="303.8" x2="288.09" y2="305.9" stroke="#2c2c2c" stroke-width="0.7"/>
<line x1="290.57" y1="303.8" x2="290.57" y2="305.9" stroke="#2c2c2c" stroke-width="0.7"/>
<line x1="293.04" y1="303.8" x2="293.04" y2="308" stroke="#2c2c2c" stroke-width="0.8"/>
<line x1="295.52" y1="303.8" x2="295.52" y2="305.9" stroke="#2c2c2c" stroke-width="0.7"/>
<line x1="297.99" y1="303.8" x2="297.99" y2="305.9" stroke="#2c2c2c" stroke-width="0.7"/>
<line x1="300.47" y1="303.8" x2="300.47" y2="305.9" stroke="#2c2c2c" stroke-width="0.7"/>
<line x1="302.94" y1="303.8" x2="302.94" y2="305.9" stroke="#2c2c2c" stroke-width="0.7"/>
<line x1="305.41" y1="303.8" x2="305.41" y2="305.9" stroke="#2c2c2c" stroke-width="0.7"/>
<line x1="307.89" y1="303.8" x2="307.89" y2="305.9" stroke="#2c2c2c" stroke-width="0.7"/>
<line x1="310.36" y1="303.8" x2="310.36" y2="305.9" stroke="#2c2c2c" stroke-width="0.7"/>
<line x1="312.84" y1="303.8" x2="312.84" y2="305.9" stroke="#2c2c2c" stroke-width="0.7"/>
<line x1="315.31" y1="303.8" x2="315.31" y2="305.9" stroke="#2c2c2c" stroke-width="0.7"/>
<line x1="317.79" y1="303.8" x2="317.79" y2="308" stroke="#2c2c2c" stroke-width="0.8"/>
<line x1="320.26" y1="303.8" x2="320.26" y2="305.9" stroke="#2c2c2c" stroke-width="0.7"/>
<line x1="322.73" y1="303.8" x2="322.73" y2="305.9" stroke="#2c2c2c" stroke-width="0.7"/>
<line x1="325.21" y1="303.8" x2="325.21" y2="305.9" stroke="#2c2c2c" stroke-width="0.7"/>
<line x1="327.68" y1="303.8" x2="327.68" y2="305.9" stroke="#2c2c2c" stroke-width="0.7"/>
<line x1="330.16" y1="303.8" x2="330.16" y2="305.9" stroke="#2c2c2c" stroke-width="0.7"/>
<line x1="332.63" y1="303.8" x2="332.63" y2="305.9" stroke="#2c2c2c" stroke-width="0.7"/>
<line x1="335.11" y1="303.8" x2="335.11" y2="305.9" stroke="#2c2c2c" stroke-width="0.7"/>
<line x1="337.58" y1="303.8" x2="337.58" y2="305.9" stroke="#2c2c2c" stroke-width="0.7"/>
<line x1="340.05" y1="303.8" x2="340.05" y2="305.9" stroke="#2c2c2c" stroke-width="0.7"/>
<line x1="342.53" y1="303.8" x2="342.53" y2="308" stroke="#2c2c2c" stroke-width="0.8"/>
<line x1="345" y1="303.8" x2="345" y2="305.9" stroke="#2c2c2c" stroke-width="0.7"/>
<line x1="347.48" y1="303.8" x2="347.48" y2="305.9" stroke="#2c2c2c" stroke-width="0.7"/>
<line x1="349.95" y1="303.8" x2="349.95" y2="305.9" stroke="#2c2c2c" stroke-width="0.7"/>
<line x1="352.43" y1="303.8" x2="352.43" y2="305.9" stroke="#2c2c2c" stroke-width="0.7"/>
<line x1="354.9" y1="303.8" x2="354.9" y2="305.9" stroke="#2c2c2c" stroke-width="0.7"/>
<line x1="357.37" y1="303.8" x2="357.37" y2="305.9" stroke="#2c2c2c" stroke-width="0.7"/>
<line x1="359.85" y1="303.8" x2="359.85" y2="305.9" stroke="#2c2c2c" stroke-width="0.7"/>
<line x1="362.32" y1="303.8" x2="362.32" y2="305.9" stroke="#2c2c2c" stroke-width="0.7"/>
<line x1="364.8" y1="303.8" x2="364.8" y2="305.9" stroke="#2c2c2c" stroke-width="0.7"/>
<line x1="367.27" y1="303.8" x2="367.27" y2="308" stroke="#2c2c2c" stroke-width="0.8"/>
<line x1="369.75" y1="303.8" x2="369.75" y2="305.9" stroke="#2c2c2c" stroke-width="0.7"/>
<line x1="372.22" y1="303.8" x2="372.22" y2="305.9" stroke="#2c2c2c" stroke-width="0.7"/>
<line x1="374.69" y1="303.8" x2="374.69" y2="305.9" stroke="#2c2c2c" stroke-width="0.7"/>
<line x1="377.17" y1="303.8" x2="377.17" y2="305.9" stroke="#2c2c2c" stroke-width="0.7"/>
<line x1="379.64" y1="303.8" x2="379.64" y2="305.9" stroke="#2c2c2c" stroke-width="0.7"/>
<line x1="382.12" y1="303.8" x2="382.12" y2="305.9" stroke="#2c2c2c" stroke-width="0.7"/>
<line x1="384.59" y1="303.8" x2="384.59" y2="305.9" stroke="#2c2c2c" stroke-width="0.7"/>
<line x1="387.07" y1="303.8" x2="387.07" y2="305.9" stroke="#2c2c2c" stroke-width="0.7"/>
<line x1="389.54" y1="303.8" x2="389.54" y2="305.9" stroke="#2c2c2c" stroke-width="0.7"/>
<line x1="392.01" y1="303.8" x2="392.01" y2="308" stroke="#2c2c2c" stroke-width="0.8"/>
<line x1="394.49" y1="303.8" x2="394.49" y2="305.9" stroke="#2c2c2c" stroke-width="0.7"/>
<line x1="396.96" y1="303.8" x2="396.96" y2="305.9" stroke="#2c2c2c" stroke-width="0.7"/>
<line x1="399.44" y1="303.8" x2="399.44" y2="305.9" stroke="#2c2c2c" stroke-width="0.7"/>
<line x1="401.91" y1="303.8" x2="401.91" y2="305.9" stroke="#2c2c2c" stroke-width="0.7"/>
<line x1="404.39" y1="303.8" x2="404.39" y2="305.9" stroke="#2c2c2c" stroke-width="0.7"/>
<line x1="406.86" y1="303.8" x2="406.86" y2="305.9" stroke="#2c2c2c" stroke-width="0.7"/>
<line x1="409.33" y1="303.8" x2="409.33" y2="305.9" stroke="#2c2c2c" stroke-width="0.7"/>
<line x1="411.81" y1="303.8" x2="411.81" y2="305.9" stroke="#2c2c2c" stroke-width="0.7"/>
<line x1="414.28" y1="303.8" x2="414.28" y2="305.9" stroke="#2c2c2c" stroke-width="0.7"/>
<line x1="416.76" y1="303.8" x2="416.76" y2="308" stroke="#2c2c2c" stroke-width="0.8"/>
<line x1="419.23" y1="303.8" x2="419.23" y2="305.9" stroke="#2c2c2c" stroke-width="0.7"/>
<line x1="421.71" y1="303.8" x2="421.71" y2="305.9" stroke="#2c2c2c" stroke-width="0.7"/>
<line x1="424.18" y1="303.8" x2="424.18" y2="305.9" stroke="#2c2c2c" stroke-width="0.7"/>
<line x1="426.65" y1="303.8" x2="426.65" y2="305.9" stroke="#2c2c2c" stroke-width="0.7"/>
<line x1="429.13" y1="303.8" x2="429.13" y2="305.9" stroke="#2c2c2c" stroke-width="0.7"/>
<line x1="431.6" y1="303.8" x2="431.6" y2="305.9" stroke="#2c2c2c" stroke-width="0.7"/>
<line x1="434.08" y1="303.8" x2="434.08" y2="305.9" stroke="#2c2c2c" stroke-width="0.7"/>
<line x1="436.55" y1="303.8" x2="436.55" y2="305.9" stroke="#2c2c2c" stroke-width="0.7"/>
<line x1="439.03" y1="303.8" x2="439.03" y2="305.9" stroke="#2c2c2c" stroke-width="0.7"/>
<line x1="441.5" y1="303.8" x2="441.5" y2="308" stroke="#2c2c2c" stroke-width="0.8"/>
<text x="268.3" y="316.4" font-size="7.8" text-anchor="middle" font-weight="normal" fill="#1a1a1a" stroke="#1a1a1a" stroke-width="0.12">-230</text>
<text x="293.04" y="316.4" font-size="7.8" text-anchor="middle" font-weight="normal" fill="#1a1a1a" stroke="#1a1a1a" stroke-width="0.12">-220</text>
<text x="317.79" y="316.4" font-size="7.8" text-anchor="middle" font-weight="normal" fill="#1a1a1a" stroke="#1a1a1a" stroke-width="0.12">-210</text>
<text x="342.53" y="316.4" font-size="7.8" text-anchor="middle" font-weight="normal" fill="#1a1a1a" stroke="#1a1a1a" stroke-width="0.12">-200</text>
<text x="367.27" y="316.4" font-size="7.8" text-anchor="middle" font-weight="normal" fill="#1a1a1a" stroke="#1a1a1a" stroke-width="0.12">-190</text>
<text x="392.01" y="316.4" font-size="7.8" text-anchor="middle" font-weight="normal" fill="#1a1a1a" stroke="#1a1a1a" stroke-width="0.12">-180</text>
<text x="416.76" y="316.4" font-size="7.8" text-anchor="middle" font-weight="normal" fill="#1a1a1a" stroke="#1a1a1a" stroke-width="0.12">-170</text>
<text x="441.5" y="316.4" font-size="7.8" text-anchor="middle" font-weight="normal" fill="#1a1a1a" stroke="#1a1a1a" stroke-width="0.12">-160</text>
<text x="261.3" y="270.6" font-size="7.8" text-anchor="end" font-weight="normal" fill="#1a1a1a" stroke="#1a1a1a" stroke-width="0.12">100</text>
<text x="261.3" y="288.5" font-size="7.8" text-anchor="end" font-weight="normal" fill="#1a1a1a" stroke="#1a1a1a" stroke-width="0.12">50</text>
<text x="261.3" y="306.4" font-size="7.8" text-anchor="end" font-weight="normal" fill="#1a1a1a" stroke="#1a1a1a" stroke-width="0.12">0</text>
<text x="354.6" y="329.8" font-size="7.8" text-anchor="middle" font-weight="normal" fill="#1a1a1a" stroke="#1a1a1a" stroke-width="0.12">Ising Energy</text>
<text x="492.1" y="122.3" font-size="12.5" text-anchor="start" font-weight="bold" fill="#111">j)</text>
<text x="490.8" y="220.7" font-size="12.5" text-anchor="start" font-weight="bold" fill="#111">k)</text>
<g fill="none" stroke-linejoin="round">
<polyline points="555.3,157.62 556.39,157.05 557.47,159.28 558.56,159.91 559.64,158.28 560.73,158.66 561.81,158.33 562.9,158.22 563.99,159.32 565.07,158.41 566.16,157.49 567.24,157.22 568.33,156.88 569.41,156.84 570.5,156.49 571.59,156.85 572.67,157.46 573.76,157.41 574.84,157.3 575.93,157.54 577.01,157.38 578.1,156.99 579.19,158.26 580.27,157.44 581.36,158.33 582.44,157.44 583.53,157.55 584.61,158.11 585.7,157.69 586.79,158.74 587.87,158.03 588.96,159.11 590.04,159.15 591.13,158.92 592.21,158.85 593.3,158.9 594.39,159.22 595.47,159.36 596.56,159.68 597.64,164.45 598.73,171.31 599.81,175.84 600.9,175.25 601.99,175.41 603.07,175.04 604.16,175.41 605.24,174.74 606.33,174.65 607.41,175.01 608.5,175.12 609.58,174.96 610.67,174.48 611.76,174.69 612.84,175.78 613.93,176.39 615.01,175.96 616.1,175.09 617.18,175.17 618.27,175.17 619.36,176.73 620.44,177.74 621.53,177.43 622.61,178.22 623.7,177.56 624.78,178.6 625.87,179.44 626.96,178.87 628.04,180.23 629.13,180.15 630.21,179.38 631.3,180.58 632.38,181.61 633.47,182.2 634.56,181.37 635.64,181.6 636.73,182.26 637.81,182.71 638.9,183.79 639.98,185.9 641.07,185.84 642.16,185.25 643.24,186.84 644.33,188.57 645.41,188.56 646.5,188.52 647.58,187.36 648.67,189.17 649.76,189.03 650.84,190.14 651.93,190.89 653.01,191.58 654.1,192.6 655.18,191.64 656.27,192.17 657.36,192.83 658.44,192.33 659.53,191.86 660.61,192.47 661.7,192.88 662.78,193.46 663.87,192.46 664.96,192.48 666.04,192.59 667.13,192.79 668.21,193.15 669.3,193.45 670.38,192.93 671.47,193.92 672.56,192.96 673.64,191.35 674.73,192.2 675.81,191.71 676.9,191.4 677.98,191.33 679.07,191.26 680.16,191.77 681.24,192.54 682.33,193.37 683.41,192.27" fill="none" stroke="#4363d8" stroke-width="0.48"/>
<polyline points="555.3,158.49 556.39,159.14 557.47,158.83 558.56,159.3 559.64,159.65 560.73,158.99 561.81,159.15 562.9,158.5 563.99,158.42 565.07,158.69 566.16,157.67 567.24,157.25 568.33,157.79 569.41,158.39 570.5,157.45 571.59,156.7 572.67,157.35 573.76,157.66 574.84,156.42 575.93,155.68 577.01,156.51 578.1,157.2 579.19,157.01 580.27,157.53 581.36,157.43 582.44,157.04 583.53,156.89 584.61,156.8 585.7,158.24 586.79,159.61 587.87,157.84 588.96,157.94 590.04,157.92 591.13,158.64 592.21,158.2 593.3,158.48 594.39,159.67 595.47,159.32 596.56,164.23 597.64,170.67 598.73,173.69 599.81,172.76 600.9,173.41 601.99,173.25 603.07,173.18 604.16,173.43 605.24,173.02 606.33,173.09 607.41,173.79 608.5,174.93 609.58,175.05 610.67,175.38 611.76,176.46 612.84,177.24 613.93,177.1 615.01,177.61 616.1,177.8 617.18,177.33 618.27,176.98 619.36,177.58 620.44,178.21 621.53,179.05 622.61,179.03 623.7,179.63 624.78,180.54 625.87,181.77 626.96,181.32 628.04,182.72 629.13,182.06 630.21,182.26 631.3,182.63 632.38,183.43 633.47,183.38 634.56,184.61 635.64,185.25 636.73,186.77 637.81,187.36 638.9,188.35 639.98,189.51 641.07,188.66 642.16,188.99 643.24,190.21 644.33,192.21 645.41,192.22 646.5,192.29 647.58,192.24 648.67,193.2 649.76,192.1 650.84,191.06 651.93,191.87 653.01,192.96 654.1,192.57 655.18,193.32 656.27,192.93 657.36,192.43 658.44,192.86 659.53,191.82 660.61,191.91 661.7,191.73 662.78,191.43 663.87,191.38 664.96,190.81 666.04,191.77 667.13,191.41 668.21,191.8 669.3,192.17 670.38,192.5 671.47,192.27 672.56,192.74 673.64,193.6 674.73,192.55 675.81,192.24 676.9,192.46 677.98,191.84 679.07,193.27 680.16,192.2 681.24,193.2 682.33,193.14 683.41,192.32" fill="none" stroke="#bcbd22" stroke-width="0.48"/>
<polyline points="555.3,156.42 556.39,157.71 557.47,157.7 558.56,157.34 559.64,157.78 560.73,157.74 561.81,158.43 562.9,157.6 563.99,158.19 565.07,157.75 566.16,158.66 567.24,157.48 568.33,156.81 569.41,157.35 570.5,158.48 571.59,158.88 572.67,158.54 573.76,158.38 574.84,157.76 575.93,158.13 577.01,158.47 578.1,157.5 579.19,157.04 580.27,157.43 581.36,159.31 582.44,158.57 583.53,157.69 584.61,156.59 585.7,156.56 586.79,156.32 587.87,158.06 588.96,157.96 590.04,157.99 591.13,158.53 592.21,158.72 593.3,159.56 594.39,160.52 595.47,159.8 596.56,166.89 597.64,172.7 598.73,174 599.81,174.26 600.9,174.9 601.99,175.45 603.07,173.57 604.16,175.07 605.24,174.47 606.33,174.67 607.41,175.47 608.5,175.53 609.58,175.75 610.67,176.39 611.76,177.19 612.84,177.29 613.93,177.89 615.01,178.16 616.1,177.84 617.18,178.84 618.27,178.62 619.36,177.94 620.44,178.19 621.53,178.42 622.61,179.52 623.7,179.04 624.78,180.28 625.87,180.14 626.96,181.58 628.04,182.83 629.13,182.44 630.21,183.62 631.3,183.76 632.38,183.36 633.47,184.43 634.56,185.57 635.64,186 636.73,186.37 637.81,186.88 638.9,186.36 639.98,187.76 641.07,188.22 642.16,189.12 643.24,190.11 644.33,190.58 645.41,191.3 646.5,191.83 647.58,192.03 648.67,192.3 649.76,191.81 650.84,191.61 651.93,192.19 653.01,192.72 654.1,192.76 655.18,192.58 656.27,192.76 657.36,192.73 658.44,192.22 659.53,192.43 660.61,191.89 661.7,193.58 662.78,192.48 663.87,191.93 664.96,192.03 666.04,193.12 667.13,193.48 668.21,193.34 669.3,192.4 670.38,192.61 671.47,191.88 672.56,193.19 673.64,193.01 674.73,192.26 675.81,192.22 676.9,192.1 677.98,191.31 679.07,191.79 680.16,192.29 681.24,191.98 682.33,192.14 683.41,193.13" fill="none" stroke="#2ca02c" stroke-width="0.48"/>
<polyline points="555.3,158.38 556.39,157.7 557.47,158.14 558.56,158.42 559.64,159.48 560.73,158.99 561.81,158.23 562.9,157.93 563.99,158.39 565.07,158.55 566.16,158.19 567.24,157.59 568.33,158.51 569.41,158.24 570.5,157.37 571.59,157.67 572.67,157.6 573.76,157.55 574.84,157.72 575.93,158.3 577.01,157.06 578.1,157.36 579.19,156.22 580.27,155.93 581.36,157.23 582.44,158.68 583.53,157.47 584.61,158.53 585.7,156.24 586.79,157.76 587.87,158.28 588.96,158.22 590.04,158.8 591.13,159.31 592.21,158.41 593.3,157.89 594.39,158.54 595.47,162.53 596.56,166.3 597.64,168.87 598.73,169.07 599.81,168.34 600.9,168.69 601.99,169.83 603.07,170.51 604.16,169.41 605.24,168.09 606.33,169.29 607.41,170.27 608.5,169.03 609.58,169.58 610.67,169.97 611.76,169.58 612.84,170.41 613.93,171.13 615.01,173.07 616.1,172.21 617.18,172.93 618.27,172.03 619.36,172.59 620.44,174.43 621.53,173.68 622.61,174.57 623.7,174.28 624.78,174.62 625.87,175.81 626.96,177.32 628.04,177.29 629.13,177.68 630.21,178.95 631.3,179.46 632.38,179.56 633.47,180.31 634.56,181.01 635.64,181.29 636.73,182.16 637.81,184.19 638.9,184.36 639.98,184.17 641.07,184.44 642.16,186.19 643.24,186.44 644.33,185.26 645.41,187.13 646.5,188.99 647.58,190.44 648.67,190.55 649.76,191.69 650.84,192.68 651.93,192.36 653.01,191.86 654.1,191.55 655.18,191.37 656.27,192.5 657.36,192.98 658.44,191.89 659.53,191.74 660.61,191.86 661.7,192.91 662.78,193.2 663.87,191.78 664.96,192.97 666.04,191.96 667.13,191.85 668.21,192.06 669.3,192.44 670.38,192.3 671.47,191.79 672.56,190.63 673.64,191.37 674.73,192.37 675.81,191.55 676.9,191.23 677.98,191.87 679.07,192.47 680.16,193.26 681.24,193.09 682.33,192.43 683.41,192.2" fill="none" stroke="#911eb4" stroke-width="0.48"/>
<polyline points="555.3,158.7 556.39,158.97 557.47,159.27 558.56,158.96 559.64,158.71 560.73,158.26 561.81,158.77 562.9,157.03 563.99,156.02 565.07,157.29 566.16,156.67 567.24,157.96 568.33,158.23 569.41,158.37 570.5,158.12 571.59,159.3 572.67,158.96 573.76,158.68 574.84,158.26 575.93,159.19 577.01,158.61 578.1,158.3 579.19,158.65 580.27,158.79 581.36,158.41 582.44,158.25 583.53,159.92 584.61,159.54 585.7,160.14 586.79,159.71 587.87,158.22 588.96,157.82 590.04,157.33 591.13,158.46 592.21,158.98 593.3,159.85 594.39,160.19 595.47,160.73 596.56,161.42 597.64,167.97 598.73,174.99 599.81,175.92 600.9,177.14 601.99,176.01 603.07,176.97 604.16,177.12 605.24,178.06 606.33,178.87 607.41,178.34 608.5,176.68 609.58,176.84 610.67,177.74 611.76,177.37 612.84,177.87 613.93,178.11 615.01,179.25 616.1,179.88 617.18,179.74 618.27,179.62 619.36,179.74 620.44,181.04 621.53,180.05 622.61,181.51 623.7,181.96 624.78,183.49 625.87,185.15 626.96,183.42 628.04,182.7 629.13,184.39 630.21,185.82 631.3,185.04 632.38,185.93 633.47,186.68 634.56,187.02 635.64,188.05 636.73,187.65 637.81,188.19 638.9,187.93 639.98,189.66 641.07,189.01 642.16,190.54 643.24,189.63 644.33,190.44 645.41,190.29 646.5,191.97 647.58,192.27 648.67,191.93 649.76,194.02 650.84,192.33 651.93,191.47 653.01,191.34 654.1,191.56 655.18,190.31 656.27,191.75 657.36,191.48 658.44,192.16 659.53,192.34 660.61,194.1 661.7,192.08 662.78,191.71 663.87,192.25 664.96,193.76 666.04,193.91 667.13,192.83 668.21,192.51 669.3,193.16 670.38,192.82 671.47,193 672.56,192.21 673.64,192.13 674.73,191.53 675.81,191.98 676.9,190.83 677.98,192.67 679.07,191.78 680.16,192.45 681.24,192.59 682.33,191.58 683.41,191.81" fill="none" stroke="#a05000" stroke-width="0.48"/>
<polyline points="555.3,157.57 556.39,158.54 557.47,157.4 558.56,157.51 559.64,158.07 560.73,158.55 561.81,156.84 562.9,157.12 563.99,157.33 565.07,157.86 566.16,156.49 567.24,157.32 568.33,157.45 569.41,158.32 570.5,157.48 571.59,157.4 572.67,157.21 573.76,157.29 574.84,158.28 575.93,159.95 577.01,158.14 578.1,157.76 579.19,158.25 580.27,157.96 581.36,158.18 582.44,157.27 583.53,157.91 584.61,157.85 585.7,156.52 586.79,156.45 587.87,157.8 588.96,157.34 590.04,157.97 591.13,158.45 592.21,158.44 593.3,159.59 594.39,159.41 595.47,159.41 596.56,164.05 597.64,171.75 598.73,177.96 599.81,178.67 600.9,178.4 601.99,177.97 603.07,179.1 604.16,179.03 605.24,179.44 606.33,180.25 607.41,180.26 608.5,179.35 609.58,179.45 610.67,180 611.76,180.54 612.84,180.19 613.93,180.71 615.01,180.26 616.1,180.25 617.18,179.95 618.27,181.16 619.36,182.4 620.44,182.72 621.53,182.88 622.61,182.95 623.7,183.24 624.78,182.81 625.87,183.64 626.96,182.33 628.04,183.53 629.13,184.18 630.21,186.44 631.3,185.54 632.38,186.39 633.47,186.44 634.56,187.06 635.64,187.8 636.73,188.55 637.81,188.62 638.9,188.27 639.98,189.1 641.07,191.25 642.16,190.99 643.24,192.19 644.33,193.51 645.41,193.92 646.5,192.6 647.58,193.1 648.67,192.49 649.76,191.52 650.84,192.13 651.93,191.69 653.01,191.34 654.1,191.95 655.18,192.45 656.27,193.07 657.36,192.61 658.44,192.06 659.53,191.28 660.61,192.66 661.7,192.41 662.78,193.23 663.87,192.96 664.96,192.5 666.04,193.13 667.13,191.35 668.21,192.13 669.3,192.53 670.38,192.32 671.47,192.94 672.56,192.58 673.64,192.01 674.73,192.52 675.81,192.01 676.9,192 677.98,191.91 679.07,192.34 680.16,191.74 681.24,192.39 682.33,193.39 683.41,193.12" fill="none" stroke="#9467bd" stroke-width="0.48"/>
<polyline points="555.3,157.28 556.39,157.75 557.47,158.49 558.56,156.42 559.64,155.8 560.73,156.9 561.81,156.77 562.9,157.11 563.99,157.81 565.07,158.15 566.16,158.19 567.24,158.21 568.33,158.98 569.41,158.51 570.5,158.2 571.59,158.86 572.67,158.26 573.76,158.61 574.84,157.76 575.93,157.9 577.01,157.19 578.1,156.17 579.19,156.32 580.27,158.35 581.36,157.64 582.44,156.24 583.53,156.33 584.61,157.06 585.7,156.9 586.79,157.63 587.87,157.65 588.96,157.24 590.04,158.4 591.13,158.42 592.21,159.68 593.3,160.66 594.39,160.45 595.47,165.2 596.56,170.77 597.64,172.68 598.73,171.39 599.81,170.97 600.9,170.74 601.99,171.9 603.07,171.3 604.16,172.39 605.24,172.55 606.33,172.81 607.41,173.47 608.5,173.06 609.58,173.72 610.67,173.49 611.76,174.42 612.84,173.63 613.93,172.99 615.01,174.69 616.1,175.95 617.18,175.53 618.27,176.01 619.36,175.97 620.44,176.03 621.53,177.38 622.61,177.21 623.7,177.59 624.78,178.16 625.87,179.87 626.96,179.51 628.04,179.65 629.13,180.58 630.21,180.68 631.3,181.36 632.38,180.75 633.47,183.05 634.56,183.74 635.64,184.96 636.73,184.18 637.81,184.32 638.9,185.29 639.98,185.96 641.07,186.35 642.16,187.41 643.24,188.66 644.33,188.62 645.41,190.15 646.5,190.47 647.58,191.12 648.67,191.5 649.76,192.09 650.84,191.52 651.93,191.97 653.01,191.64 654.1,191.77 655.18,192.34 656.27,191.92 657.36,192.3 658.44,191.86 659.53,192.07 660.61,191.5 661.7,191.24 662.78,191.2 663.87,191.61 664.96,192.33 666.04,192.96 667.13,193.38 668.21,193.1 669.3,192.12 670.38,191.64 671.47,191.28 672.56,190.68 673.64,191.64 674.73,191.82 675.81,191.39 676.9,192.37 677.98,192.37 679.07,191.04 680.16,191.97 681.24,192.58 682.33,192.28 683.41,192.28" fill="none" stroke="#f58231" stroke-width="0.48"/>
<polyline points="555.3,158.11 556.39,157.52 557.47,157.84 558.56,157.96 559.64,158.23 560.73,158.22 561.81,158.27 562.9,158.15 563.99,158.16 565.07,157.37 566.16,157.35 567.24,156.76 568.33,157.98 569.41,157.49 570.5,158.67 571.59,157.87 572.67,157.13 573.76,156.88 574.84,156.98 575.93,156.88 577.01,156.37 578.1,156.26 579.19,157.04 580.27,157.54 581.36,158.37 582.44,158.02 583.53,157.67 584.61,157.66 585.7,157.39 586.79,158.31 587.87,158.07 588.96,158.8 590.04,159.55 591.13,158.37 592.21,158.12 593.3,159.36 594.39,159.54 595.47,159.3 596.56,165.49 597.64,171.69 598.73,174.28 599.81,175.08 600.9,175.38 601.99,176.31 603.07,169.82 604.16,142.51 605.24,135.14 606.33,134.67 607.41,134.49 608.5,134 609.58,135.18 610.67,135.69 611.76,135.13 612.84,135.38 613.93,134.28 615.01,134.76 616.1,134.87 617.18,133.35 618.27,133.42 619.36,132.48 620.44,131.88 621.53,131.52 622.61,132.19 623.7,131.32 624.78,132.24 625.87,132.18 626.96,133.23 628.04,132.77 629.13,132.41 630.21,131.1 631.3,130.25 632.38,130.97 633.47,131.32 634.56,130.99 635.64,129.55 636.73,129.46 637.81,129.33 638.9,129.77 639.98,130.48 641.07,129.59 642.16,129.63 643.24,130.28 644.33,131.15 645.41,130.65 646.5,130.34 647.58,129.79 648.67,129.04 649.76,129.4 650.84,129.22 651.93,128.85 653.01,128.36 654.1,129.79 655.18,128.74 656.27,128.67 657.36,129.37 658.44,129.76 659.53,130.15 660.61,130.03 661.7,129.43 662.78,129.89 663.87,129.83 664.96,129.44 666.04,130.53 667.13,129.77 668.21,129.39 669.3,129.64 670.38,128.14 671.47,128.58 672.56,129.43 673.64,130.36 674.73,130.81 675.81,130.8 676.9,130.34 677.98,129.98 679.07,129.95 680.16,128.85 681.24,129.72 682.33,130.1 683.41,130.28" fill="none" stroke="#17becf" stroke-width="0.48"/>
<polyline points="555.3,157.52 556.39,157.13 557.47,156.48 558.56,156.86 559.64,158.11 560.73,157.82 561.81,158.73 562.9,157.99 563.99,157.46 565.07,158.1 566.16,158.91 567.24,159.06 568.33,158.81 569.41,158.63 570.5,157.79 571.59,157.65 572.67,158.48 573.76,158.64 574.84,158.5 575.93,157.93 577.01,158.24 578.1,158.75 579.19,157.83 580.27,157.33 581.36,157.29 582.44,156.73 583.53,158.05 584.61,158.09 585.7,158.74 586.79,158.52 587.87,158.67 588.96,158.02 590.04,159.06 591.13,160.24 592.21,159.04 593.3,160.03 594.39,159.79 595.47,161.45 596.56,167.95 597.64,174.29 598.73,175.42 599.81,174.82 600.9,174.81 601.99,174.42 603.07,175.09 604.16,175.17 605.24,174.69 606.33,176.31 607.41,176.42 608.5,177.06 609.58,176.5 610.67,178.4 611.76,177.76 612.84,177.87 613.93,178.43 615.01,178.37 616.1,179.93 617.18,180.33 618.27,181.53 619.36,181.87 620.44,182.38 621.53,182.66 622.61,183.4 623.7,182.65 624.78,182.39 625.87,182.39 626.96,183.2 628.04,183.22 629.13,184.29 630.21,184.71 631.3,185.8 632.38,186.2 633.47,187.41 634.56,187.59 635.64,189.09 636.73,188.34 637.81,189.62 638.9,189.73 639.98,189.19 641.07,190.09 642.16,190.08 643.24,191.26 644.33,191.14 645.41,191.75 646.5,192.19 647.58,191.31 648.67,191.36 649.76,191 650.84,192.02 651.93,191.29 653.01,191 654.1,192.18 655.18,192.52 656.27,193.22 657.36,193.43 658.44,193.19 659.53,192.72 660.61,193.18 661.7,193.71 662.78,192.34 663.87,192.32 664.96,192.4 666.04,192.58 667.13,191.92 668.21,192.15 669.3,191.9 670.38,192.81 671.47,192.43 672.56,192.82 673.64,193.02 674.73,192.42 675.81,193.39 676.9,192.71 677.98,192.57 679.07,191.67 680.16,193.51 681.24,193.69 682.33,193.06 683.41,192.21" fill="none" stroke="#8c564b" stroke-width="0.48"/>
<polyline points="555.3,159.16 556.39,159 557.47,158.31 558.56,158.38 559.64,157.54 560.73,158.71 561.81,158.8 562.9,157.42 563.99,157.33 565.07,156.73 566.16,156.64 567.24,156.75 568.33,155.99 569.41,156.93 570.5,157.03 571.59,157.87 572.67,157.62 573.76,157.87 574.84,159.08 575.93,156.69 577.01,157.29 578.1,156.91 579.19,157.25 580.27,158.68 581.36,157.78 582.44,158.14 583.53,156.85 584.61,157.42 585.7,157.65 586.79,158.04 587.87,157.07 588.96,157.6 590.04,158.88 591.13,160.28 592.21,160.52 593.3,159.68 594.39,159.65 595.47,164.11 596.56,169.39 597.64,161.73 598.73,151.3 599.81,141.37 600.9,135.55 601.99,134.24 603.07,134.66 604.16,134.43 605.24,134.26 606.33,135.12 607.41,134.47 608.5,134 609.58,135.26 610.67,135.11 611.76,135.95 612.84,134.3 613.93,134.97 615.01,133.64 616.1,133.33 617.18,132.73 618.27,131.87 619.36,132.47 620.44,133.96 621.53,134.08 622.61,133.62 623.7,133.83 624.78,131.81 625.87,131.78 626.96,132.21 628.04,131.28 629.13,131.12 630.21,131.59 631.3,130.79 632.38,131.61 633.47,131.88 634.56,130.88 635.64,130.43 636.73,130.01 637.81,130.73 638.9,130.4 639.98,130.07 641.07,129.15 642.16,129.79 643.24,130.17 644.33,129.33 645.41,129.12 646.5,129.99 647.58,129.68 648.67,128.61 649.76,129.91 650.84,130.32 651.93,129.77 653.01,129 654.1,129.96 655.18,130.08 656.27,129.26 657.36,129.6 658.44,130.37 659.53,130.79 660.61,130.27 661.7,129.94 662.78,129.52 663.87,130.14 664.96,130.47 666.04,130.06 667.13,130.9 668.21,130.99 669.3,130.99 670.38,129.99 671.47,129.68 672.56,128.97 673.64,129.86 674.73,128.83 675.81,129.37 676.9,129.67 677.98,130.3 679.07,130.43 680.16,130.19 681.24,129.58 682.33,129.85 683.41,129.63" fill="none" stroke="#ff7f0e" stroke-width="0.48"/>
<polyline points="555.3,156.88 556.39,157.18 557.47,158.11 558.56,158.23 559.64,157.65 560.73,157.57 561.81,158.05 562.9,157.69 563.99,158.35 565.07,157.62 566.16,157.81 567.24,158.53 568.33,158.17 569.41,158.74 570.5,159.28 571.59,160.05 572.67,157.99 573.76,157.18 574.84,157.45 575.93,157.79 577.01,158.57 578.1,158.77 579.19,157.41 580.27,157.97 581.36,157.37 582.44,156.63 583.53,155.77 584.61,156.75 585.7,157.09 586.79,157.65 587.87,158.84 588.96,158.43 590.04,158.26 591.13,158.38 592.21,159.7 593.3,159.75 594.39,160.28 595.47,167.27 596.56,175.04 597.64,175.71 598.73,175.94 599.81,168.87 600.9,158.15 601.99,148.53 603.07,138.11 604.16,136.33 605.24,137.21 606.33,137.06 607.41,136.98 608.5,135.55 609.58,135.3 610.67,134.24 611.76,134.59 612.84,134 613.93,134.03 615.01,133.7 616.1,133.67 617.18,133.63 618.27,132.72 619.36,133.38 620.44,133.13 621.53,132.51 622.61,132.6 623.7,133.03 624.78,132.76 625.87,132.41 626.96,133.12 628.04,132.53 629.13,131.54 630.21,131.48 631.3,132.5 632.38,132.58 633.47,132.18 634.56,131.87 635.64,130.83 636.73,130.67 637.81,130.71 638.9,130.17 639.98,130.77 641.07,131.53 642.16,131.49 643.24,129.75 644.33,129.71 645.41,129.73 646.5,129.33 647.58,128.57 648.67,130.28 649.76,130.56 650.84,129.56 651.93,129.85 653.01,129.53 654.1,130.46 655.18,130.47 656.27,130.92 657.36,130.91 658.44,129.39 659.53,129.78 660.61,130.14 661.7,130.34 662.78,130 663.87,129.89 664.96,129.47 666.04,130.23 667.13,128.84 668.21,128.82 669.3,130.1 670.38,130.44 671.47,129.75 672.56,129.77 673.64,130.17 674.73,130.42 675.81,130.15 676.9,130.74 677.98,130.98 679.07,130.88 680.16,130.65 681.24,130.68 682.33,130.12 683.41,129.49" fill="none" stroke="#40a0ff" stroke-width="0.48"/>
<polyline points="555.3,157.04 556.39,157.39 557.47,156.14 558.56,158.43 559.64,158.83 560.73,159.48 561.81,158.29 562.9,157.09 563.99,155.99 565.07,157 566.16,157.33 567.24,157.94 568.33,158.17 569.41,157.8 570.5,157.93 571.59,157.37 572.67,157.81 573.76,157.69 574.84,158.84 575.93,158.83 577.01,158.92 578.1,159.14 579.19,159.25 580.27,158.24 581.36,157.68 582.44,157.33 583.53,158.41 584.61,158.05 585.7,157.83 586.79,157.79 587.87,155.59 588.96,156.71 590.04,157.73 591.13,158.74 592.21,159.1 593.3,159.34 594.39,158.56 595.47,165.86 596.56,174.02 597.64,177.29 598.73,178.43 599.81,177.33 600.9,176.86 601.99,176.47 603.07,176.89 604.16,177.55 605.24,173.36 606.33,162.21 607.41,149.71 608.5,137.4 609.58,135.94 610.67,136.11 611.76,135.63 612.84,134.62 613.93,134.11 615.01,133.83 616.1,134.99 617.18,133.49 618.27,134.62 619.36,133.76 620.44,134.16 621.53,133.16 622.61,133.24 623.7,133.32 624.78,132.76 625.87,132.74 626.96,131.66 628.04,132 629.13,132.36 630.21,131.85 631.3,133.34 632.38,132.88 633.47,132.37 634.56,132.49 635.64,132.02 636.73,131.68 637.81,131.41 638.9,130.54 639.98,130.48 641.07,130.77 642.16,129.52 643.24,129.58 644.33,129.78 645.41,130.63 646.5,131.34 647.58,129.92 648.67,130.45 649.76,130.23 650.84,129.8 651.93,130.11 653.01,131 654.1,129.85 655.18,130.03 656.27,131.06 657.36,130.19 658.44,129.45 659.53,129.76 660.61,129.36 661.7,130.26 662.78,130.64 663.87,130.24 664.96,129.83 666.04,129.58 667.13,130.68 668.21,130.08 669.3,129.72 670.38,129.7 671.47,129.86 672.56,130.37 673.64,130.19 674.73,129.05 675.81,129.65 676.9,129.36 677.98,130.99 679.07,131.61 680.16,130.42 681.24,130.76 682.33,131.35 683.41,130.87" fill="none" stroke="#e6194b" stroke-width="0.48"/>
<polyline points="555.3,157.67 556.39,157.26 557.47,157.96 558.56,158.09 559.64,158.5 560.73,158.81 561.81,157.25 562.9,156.91 563.99,156.97 565.07,157.96 566.16,158.05 567.24,157.36 568.33,158.78 569.41,158.29 570.5,157.93 571.59,157.34 572.67,156.28 573.76,157.52 574.84,157.13 575.93,158.14 577.01,158.81 578.1,157.97 579.19,156.72 580.27,158.01 581.36,157.39 582.44,157.28 583.53,157.64 584.61,156.89 585.7,156.32 586.79,157.12 587.87,157.01 588.96,158.14 590.04,158.52 591.13,157.73 592.21,159.14 593.3,159.49 594.39,160.27 595.47,165.53 596.56,173.78 597.64,171.61 598.73,161.87 599.81,149.69 600.9,138.45 601.99,135.68 603.07,136.01 604.16,135.16 605.24,134.92 606.33,134.92 607.41,135.48 608.5,134.23 609.58,134.94 610.67,134.61 611.76,135.03 612.84,135.83 613.93,135.57 615.01,134.54 616.1,134.31 617.18,133.2 618.27,133.19 619.36,133.1 620.44,133.32 621.53,133.5 622.61,133.46 623.7,133.95 624.78,133.24 625.87,133.43 626.96,132.65 628.04,132.49 629.13,131.53 630.21,131.31 631.3,131.47 632.38,131.3 633.47,132.67 634.56,131.77 635.64,131.98 636.73,131.07 637.81,130.43 638.9,131.71 639.98,130.7 641.07,129.55 642.16,130.11 643.24,130.49 644.33,129.18 645.41,129.08 646.5,129.4 647.58,129.04 648.67,130.53 649.76,129.94 650.84,130.93 651.93,130.96 653.01,129.6 654.1,130.07 655.18,128.2 656.27,128.93 657.36,129.97 658.44,129.58 659.53,130.22 660.61,128.94 661.7,129.62 662.78,129.7 663.87,130.27 664.96,129.97 666.04,130.11 667.13,130.02 668.21,129.58 669.3,131.13 670.38,131.07 671.47,131 672.56,130.24 673.64,129.82 674.73,130.09 675.81,130.24 676.9,131.4 677.98,130.18 679.07,128.89 680.16,129.59 681.24,130.4 682.33,130.37 683.41,131.22" fill="none" stroke="#e6194b" stroke-width="0.48"/>
<polyline points="555.3,156.25 556.39,156.89 557.47,156.86 558.56,156.32 559.64,157.97 560.73,157.15 561.81,157.31 562.9,157.96 563.99,158.35 565.07,158.95 566.16,158.2 567.24,158.11 568.33,158.63 569.41,159.77 570.5,159.44 571.59,159.45 572.67,160.46 573.76,158.87 574.84,158.44 575.93,158.1 577.01,157.71 578.1,158.64 579.19,158.17 580.27,159.35 581.36,159.35 582.44,158.92 583.53,158.78 584.61,156.77 585.7,156.57 586.79,157.23 587.87,157.06 588.96,157.34 590.04,157.29 591.13,158.14 592.21,157.99 593.3,158.9 594.39,160.58 595.47,167.95 596.56,164.88 597.64,147.62 598.73,135.62 599.81,135.37 600.9,136.7 601.99,136.05 603.07,136.72 604.16,135.94 605.24,135.43 606.33,136.03 607.41,136.73 608.5,135.96 609.58,135.55 610.67,134.5 611.76,133.99 612.84,134.15 613.93,134.37 615.01,134.28 616.1,134.21 617.18,133.29 618.27,132.97 619.36,132.26 620.44,133.14 621.53,133.26 622.61,132.77 623.7,132.26 624.78,131.58 625.87,132.41 626.96,132.18 628.04,131.98 629.13,131.35 630.21,132.97 631.3,133.87 632.38,132.51 633.47,132.78 634.56,132.34 635.64,132.1 636.73,131.64 637.81,131.76 638.9,131.1 639.98,131.79 641.07,130.46 642.16,131.25 643.24,131.27 644.33,130.33 645.41,130.56 646.5,130.99 647.58,129.18 648.67,129.85 649.76,129.21 650.84,129.25 651.93,129.58 653.01,129.38 654.1,130.32 655.18,130.98 656.27,131.05 657.36,130.02 658.44,130.34 659.53,130.53 660.61,130.4 661.7,129.57 662.78,130.9 663.87,131.28 664.96,130.8 666.04,129.2 667.13,130.14 668.21,130.55 669.3,130.14 670.38,129.15 671.47,130.64 672.56,130.5 673.64,130.93 674.73,130.11 675.81,130.46 676.9,128.58 677.98,130.52 679.07,130.84 680.16,130.74 681.24,130.22 682.33,130.06 683.41,130.68" fill="none" stroke="#3cb44b" stroke-width="0.48"/>
<polyline points="555.3,157.12 556.39,157.18 557.47,157.11 558.56,156.35 559.64,157.12 560.73,157.92 561.81,157.7 562.9,156.24 563.99,155.74 565.07,157.85 566.16,156.73 567.24,157.97 568.33,158.45 569.41,159.91 570.5,159.02 571.59,158.39 572.67,157.69 573.76,159.46 574.84,159.73 575.93,159.21 577.01,159.44 578.1,159.46 579.19,159.03 580.27,158.33 581.36,157.68 582.44,157 583.53,157.04 584.61,157.04 585.7,158.42 586.79,158.74 587.87,159.53 588.96,158.4 590.04,159.31 591.13,159.51 592.21,161.59 593.3,161.8 594.39,160.45 595.47,162.44 596.56,170.04 597.64,176.05 598.73,176.47 599.81,177.28 600.9,177.12 601.99,176.43 603.07,175.75 604.16,176.21 605.24,176.51 606.33,176.51 607.41,176.95 608.5,176.45 609.58,176.18 610.67,178.05 611.76,178.58 612.84,178.2 613.93,177.33 615.01,178.72 616.1,179.1 617.18,179.28 618.27,180.84 619.36,180.22 620.44,181.15 621.53,181.08 622.61,180.96 623.7,181.68 624.78,181.73 625.87,182.29 626.96,182.59 628.04,183.32 629.13,184.59 630.21,184.81 631.3,184.56 632.38,185.73 633.47,185.95 634.56,186.1 635.64,187.7 636.73,186.86 637.81,186.66 638.9,185.93 639.98,187.42 641.07,187.9 642.16,188.78 643.24,188.91 644.33,188.53 645.41,189.15 646.5,189.2 647.58,190.63 648.67,190.32 649.76,192.68 650.84,194.07 651.93,192.7 653.01,192.39 654.1,192 655.18,192.13 656.27,193.05 657.36,192.09 658.44,191.69 659.53,191.94 660.61,191.58 661.7,190.28 662.78,191.79 663.87,192.12 664.96,192.6 666.04,192.34 667.13,191.24 668.21,192.49 669.3,192.52 670.38,193.05 671.47,191.29 672.56,191.79 673.64,191.39 674.73,190.72 675.81,190.63 676.9,191.65 677.98,192.31 679.07,191.94 680.16,193.66 681.24,193.93 682.33,192.87 683.41,193.69" fill="none" stroke="#4363d8" stroke-width="0.48"/>
<polyline points="555.3,157.34 556.39,157.04 557.47,157.66 558.56,158.02 559.64,158.25 560.73,158.82 561.81,158.81 562.9,157.7 563.99,158.28 565.07,158.58 566.16,158.79 567.24,158.07 568.33,157.12 569.41,158.61 570.5,158.74 571.59,157.47 572.67,157.08 573.76,158.09 574.84,158.6 575.93,158.17 577.01,158.15 578.1,157.91 579.19,156.81 580.27,156.29 581.36,157.16 582.44,157.2 583.53,155.81 584.61,155.78 585.7,156.5 586.79,157.21 587.87,157.7 588.96,158.14 590.04,157.33 591.13,157.72 592.21,159.77 593.3,160.34 594.39,160.27 595.47,162.96 596.56,168.16 597.64,167.5 598.73,141.89 599.81,134.23 600.9,134.07 601.99,134.01 603.07,135.09 604.16,135.05 605.24,134.17 606.33,135.02 607.41,133.3 608.5,134.2 609.58,133.88 610.67,134.49 611.76,134.64 612.84,134.04 613.93,133.98 615.01,133.27 616.1,133.58 617.18,134.37 618.27,132.98 619.36,132.27 620.44,132.07 621.53,132.99 622.61,133.06 623.7,131.94 624.78,131.22 625.87,132.5 626.96,132.38 628.04,130.4 629.13,130.14 630.21,130.96 631.3,131.78 632.38,131.9 633.47,131.57 634.56,131.56 635.64,130.45 636.73,130.38 637.81,130.63 638.9,129.12 639.98,129.41 641.07,129.45 642.16,129.73 643.24,130.06 644.33,130.13 645.41,130.52 646.5,129.28 647.58,129.91 648.67,129.8 649.76,128.68 650.84,129.1 651.93,129 653.01,128.33 654.1,128.27 655.18,128.71 656.27,129 657.36,129.01 658.44,130.08 659.53,130.69 660.61,129.63 661.7,128.58 662.78,129.8 663.87,129.16 664.96,128.75 666.04,128.8 667.13,129.23 668.21,129.65 669.3,129.45 670.38,128.44 671.47,128.58 672.56,129.96 673.64,129.92 674.73,130.31 675.81,129.62 676.9,130.1 677.98,130.06 679.07,129.43 680.16,130.06 681.24,129.82 682.33,130.32 683.41,129.12" fill="none" stroke="#7f7f7f" stroke-width="0.48"/>
<polyline points="555.3,156.35 556.39,156.94 557.47,157.24 558.56,158.52 559.64,158.37 560.73,159.09 561.81,157.78 562.9,158.83 563.99,158.03 565.07,158.08 566.16,158.18 567.24,157.83 568.33,157.83 569.41,158 570.5,160.01 571.59,158.61 572.67,158.49 573.76,158.13 574.84,157.41 575.93,158.16 577.01,158.47 578.1,158.18 579.19,157.5 580.27,157.37 581.36,158.29 582.44,156.65 583.53,156.31 584.61,156.79 585.7,156.17 586.79,156.63 587.87,157.2 588.96,157.47 590.04,158.15 591.13,158.69 592.21,159.8 593.3,159.23 594.39,158.71 595.47,162.59 596.56,169.54 597.64,176.22 598.73,176.86 599.81,174.94 600.9,170.05 601.99,165.21 603.07,159.45 604.16,155.72 605.24,149.63 606.33,143.65 607.41,143.48 608.5,144.35 609.58,143.71 610.67,143.49 611.76,143.57 612.84,143.64 613.93,146.68 615.01,151.05 616.1,154.42 617.18,158.5 618.27,163.37 619.36,164.49 620.44,165.74 621.53,166.7 622.61,166.74 623.7,166.78 624.78,166.91 625.87,167.74 626.96,168.72 628.04,169.75 629.13,170.13 630.21,169.08 631.3,152.5 632.38,136.33 633.47,131.47 634.56,132.15 635.64,131.64 636.73,130.5 637.81,130.38 638.9,132.19 639.98,130.77 641.07,130.69 642.16,130.36 643.24,129.97 644.33,130.43 645.41,130.77 646.5,130.21 647.58,131.17 648.67,130.12 649.76,129.45 650.84,130.19 651.93,129.86 653.01,130.24 654.1,130.29 655.18,130.1 656.27,130.22 657.36,129.13 658.44,129.65 659.53,130.02 660.61,131.04 661.7,131.15 662.78,130.15 663.87,130.57 664.96,131.55 666.04,130.21 667.13,130.55 668.21,130.65 669.3,130.25 670.38,130.01 671.47,130.66 672.56,130.64 673.64,129.99 674.73,130.34 675.81,130.74 676.9,130 677.98,129.61 679.07,130.34 680.16,129.48 681.24,129 682.33,129.49 683.41,129.73" fill="none" stroke="#a8a81c" stroke-width="0.48"/>
<polyline points="555.3,158.71 556.39,159.92 557.47,159.21 558.56,158.11 559.64,158.63 560.73,157.86 561.81,158.89 562.9,158.35 563.99,158.08 565.07,158.41 566.16,156.94 567.24,156.2 568.33,156.14 569.41,157.18 570.5,156.36 571.59,156.92 572.67,157.67 573.76,157.32 574.84,158.06 575.93,158.86 577.01,157.73 578.1,157.79 579.19,158.92 580.27,158.41 581.36,157.93 582.44,158.79 583.53,157.91 584.61,158.44 585.7,158.46 586.79,157.62 587.87,158.29 588.96,157.72 590.04,158.76 591.13,158.97 592.21,159.37 593.3,160.46 594.39,162.82 595.47,170.38 596.56,178.47 597.64,179.02 598.73,179.16 599.81,169.59 600.9,161.53 601.99,153.59 603.07,142.52 604.16,137.56 605.24,138.75 606.33,136.77 607.41,137.04 608.5,136.35 609.58,136.51 610.67,136.66 611.76,137.06 612.84,135.48 613.93,135.17 615.01,135.24 616.1,135.6 617.18,134.45 618.27,134.86 619.36,136.29 620.44,135.78 621.53,134.6 622.61,135.83 623.7,135.47 624.78,133.6 625.87,133.79 626.96,134.85 628.04,133.93 629.13,132.9 630.21,132.92 631.3,134.86 632.38,134.53 633.47,134.69 634.56,134.33 635.64,132.96 636.73,134.25 637.81,133.01 638.9,133.21 639.98,132.15 641.07,132.42 642.16,133.81 643.24,133.23 644.33,132.56 645.41,131.54 646.5,131.9 647.58,131.28 648.67,131.5 649.76,132.06 650.84,133.04 651.93,132.73 653.01,132.32 654.1,132.51 655.18,132.47 656.27,132.32 657.36,130.89 658.44,130.68 659.53,132.44 660.61,133.03 661.7,131.57 662.78,132.45 663.87,131.76 664.96,132.32 666.04,132.63 667.13,132.35 668.21,131.07 669.3,131.47 670.38,132.35 671.47,132.64 672.56,130.49 673.64,132.45 674.73,131.88 675.81,132.41 676.9,131.86 677.98,131.26 679.07,130.34 680.16,131.14 681.24,132.26 682.33,132.35 683.41,132.34" fill="none" stroke="#e377c2" stroke-width="0.48"/>
<polyline points="555.3,157.28 556.39,157.07 557.47,157.15 558.56,156.06 559.64,157.22 560.73,157.59 561.81,157.42 562.9,158.12 563.99,158.45 565.07,157.92 566.16,158.63 567.24,158.33 568.33,158.14 569.41,157.18 570.5,157.74 571.59,158.09 572.67,157.05 573.76,157.84 574.84,157.49 575.93,158.05 577.01,157.84 578.1,157.31 579.19,157.31 580.27,157.83 581.36,157.23 582.44,158.38 583.53,158.8 584.61,158.51 585.7,157.08 586.79,157.34 587.87,156.9 588.96,158.78 590.04,159.25 591.13,159.99 592.21,159.43 593.3,159.92 594.39,160.37 595.47,163.45 596.56,169.2 597.64,175.11 598.73,174.76 599.81,174.02 600.9,166.16 601.99,155.43 603.07,144.68 604.16,134.75 605.24,135.88 606.33,136.47 607.41,134.6 608.5,135.33 609.58,135.91 610.67,135.98 611.76,135.64 612.84,134.81 613.93,134.36 615.01,135.71 616.1,135.25 617.18,135.39 618.27,134.96 619.36,135.32 620.44,134.42 621.53,133.61 622.61,133.46 623.7,134.11 624.78,133.71 625.87,134.33 626.96,132.91 628.04,133.25 629.13,133.82 630.21,133.44 631.3,132.93 632.38,133.01 633.47,131.71 634.56,132.09 635.64,132.4 636.73,132.06 637.81,131.99 638.9,130.71 639.98,130.2 641.07,130.51 642.16,132.69 643.24,130.89 644.33,132.08 645.41,129.99 646.5,130.67 647.58,130.45 648.67,131.02 649.76,131.13 650.84,131.42 651.93,130.26 653.01,130.83 654.1,131.64 655.18,131.3 656.27,130.64 657.36,130.53 658.44,130.39 659.53,130 660.61,130.54 661.7,130.94 662.78,130.62 663.87,130.48 664.96,130.88 666.04,131.08 667.13,131.15 668.21,130.79 669.3,132.42 670.38,131.82 671.47,131.56 672.56,131.51 673.64,129.63 674.73,130.24 675.81,130.21 676.9,130.79 677.98,131.17 679.07,130.07 680.16,130.77 681.24,130.11 682.33,130.68 683.41,130.19" fill="none" stroke="#e377c2" stroke-width="0.48"/>
<polyline points="555.3,157.71 556.39,157.78 557.47,157.79 558.56,157.35 559.64,158.69 560.73,158.27 561.81,159.4 562.9,158.68 563.99,159.37 565.07,157.73 566.16,158.35 567.24,158.53 568.33,157.88 569.41,156.96 570.5,156.89 571.59,157.2 572.67,157.29 573.76,158.17 574.84,158.52 575.93,158.58 577.01,157.99 578.1,157.45 579.19,157 580.27,157.81 581.36,158.04 582.44,157.94 583.53,157.52 584.61,158.37 585.7,158.13 586.79,159.1 587.87,159.28 588.96,159.51 590.04,159.57 591.13,160.43 592.21,160.56 593.3,161.33 594.39,160.46 595.47,167.77 596.56,175.87 597.64,176.16 598.73,175.93 599.81,176.75 600.9,175.94 601.99,175.53 603.07,175.79 604.16,164.85 605.24,146.27 606.33,134.86 607.41,134.46 608.5,133.28 609.58,133.45 610.67,133.11 611.76,134.47 612.84,134.58 613.93,133.76 615.01,133.08 616.1,133.6 617.18,133.73 618.27,134.06 619.36,132.23 620.44,133.14 621.53,132.34 622.61,132.94 623.7,132.93 624.78,131.9 625.87,131.1 626.96,130.33 628.04,130.19 629.13,130.14 630.21,129.12 631.3,129.7 632.38,130.77 633.47,130.53 634.56,130.67 635.64,131.09 636.73,130.18 637.81,129.95 638.9,129.9 639.98,129.63 641.07,128.45 642.16,129.14 643.24,128.16 644.33,129.52 645.41,130.07 646.5,129.44 647.58,129.11 648.67,128.03 649.76,129.1 650.84,128.94 651.93,130.28 653.01,129.58 654.1,129.11 655.18,127.49 656.27,129.05 657.36,128.74 658.44,128.95 659.53,129.42 660.61,129.75 661.7,130.11 662.78,130.01 663.87,129.25 664.96,129.04 666.04,128.27 667.13,128.87 668.21,129.56 669.3,129.63 670.38,130.11 671.47,129.06 672.56,129.07 673.64,128.77 674.73,128.95 675.81,129.04 676.9,128.55 677.98,128.92 679.07,129.81 680.16,129.01 681.24,130.44 682.33,129.03 683.41,130" fill="none" stroke="#6a9a00" stroke-width="0.48"/>
<polyline points="555.3,157.45 556.39,158.05 557.47,158.14 558.56,158.86 559.64,158.46 560.73,158.53 561.81,158.72 562.9,158.12 563.99,157.29 565.07,157.93 566.16,157.68 567.24,157.8 568.33,157.76 569.41,157.08 570.5,156.89 571.59,156.85 572.67,157.37 573.76,156.95 574.84,157.65 575.93,157.53 577.01,156.7 578.1,156.69 579.19,159.23 580.27,158.73 581.36,157.6 582.44,157.19 583.53,156.76 584.61,157.46 585.7,158.29 586.79,158.11 587.87,157.51 588.96,157.84 590.04,159.27 591.13,159.37 592.21,158.72 593.3,158.92 594.39,159.78 595.47,159.52 596.56,164.45 597.64,168.11 598.73,170.14 599.81,159.19 600.9,136.03 601.99,135.86 603.07,134.74 604.16,134.72 605.24,134.57 606.33,134.61 607.41,135.46 608.5,134.75 609.58,135.1 610.67,133.63 611.76,133.68 612.84,134 613.93,134.37 615.01,134.47 616.1,134.37 617.18,133.84 618.27,133.62 619.36,133.2 620.44,133.74 621.53,132.81 622.61,132.4 623.7,131.93 624.78,132.47 625.87,133.01 626.96,132.94 628.04,132.41 629.13,132.24 630.21,131.87 631.3,131.46 632.38,130.88 633.47,131.44 634.56,130.75 635.64,131.46 636.73,131.33 637.81,130.9 638.9,130.28 639.98,130.32 641.07,131 642.16,128.61 643.24,129.47 644.33,130.08 645.41,129.37 646.5,129.05 647.58,129.49 648.67,128.99 649.76,128.65 650.84,129.47 651.93,129.75 653.01,129.42 654.1,128.96 655.18,128.21 656.27,129.6 657.36,128.95 658.44,128.91 659.53,129.85 660.61,130.39 661.7,130.22 662.78,129.96 663.87,130.15 664.96,129.98 666.04,131.04 667.13,129.28 668.21,129.45 669.3,129.84 670.38,129.07 671.47,129.05 672.56,129.67 673.64,128.59 674.73,129.2 675.81,128.06 676.9,130.39 677.98,131.41 679.07,130.53 680.16,129.37 681.24,129.83 682.33,128.88 683.41,131.15" fill="none" stroke="#3cb44b" stroke-width="0.48"/>
<polyline points="555.3,158.55 556.39,159.1 557.47,158.79 558.56,158.49 559.64,159.47 560.73,158.56 561.81,156.53 562.9,157.22 563.99,156.89 565.07,156.96 566.16,157.58 567.24,157.86 568.33,158 569.41,158.12 570.5,157.98 571.59,157.82 572.67,157.22 573.76,156.72 574.84,158.5 575.93,159.14 577.01,157.51 578.1,158.39 579.19,158.38 580.27,158.68 581.36,157.94 582.44,158.48 583.53,158.87 584.61,157.93 585.7,157.68 586.79,158.51 587.87,157.71 588.96,158.5 590.04,158.05 591.13,159 592.21,158.88 593.3,160.06 594.39,159.84 595.47,159.72 596.56,159.38 597.64,164.9 598.73,173.76 599.81,178.36 600.9,178.16 601.99,179.01 603.07,178.26 604.16,179.75 605.24,178.14 606.33,178.44 607.41,179.21 608.5,179.69 609.58,180.25 610.67,178.79 611.76,179.53 612.84,181.22 613.93,181.11 615.01,180.46 616.1,180.42 617.18,182.24 618.27,182.09 619.36,183.19 620.44,183.28 621.53,183.71 622.61,182.46 623.7,182.5 624.78,183.82 625.87,183.65 626.96,184.97 628.04,184.66 629.13,184.77 630.21,185.94 631.3,187.09 632.38,187.33 633.47,186.81 634.56,188.17 635.64,188.21 636.73,190.04 637.81,189.43 638.9,189.83 639.98,190.02 641.07,189.83 642.16,190.55 643.24,190.65 644.33,190.4 645.41,190.97 646.5,192.05 647.58,191.53 648.67,192.44 649.76,191.67 650.84,192.22 651.93,191.37 653.01,192.87 654.1,192.01 655.18,191.61 656.27,191.57 657.36,190.85 658.44,191.92 659.53,192.52 660.61,193.34 661.7,194.29 662.78,193.39 663.87,191.37 664.96,191.71 666.04,192.39 667.13,192.18 668.21,192.57 669.3,192.49 670.38,192.49 671.47,193.03 672.56,193.18 673.64,193.3 674.73,191.8 675.81,192.12 676.9,192.76 677.98,192.61 679.07,191.68 680.16,191.65 681.24,191.8 682.33,193.68 683.41,191.61" fill="none" stroke="#b03060" stroke-width="0.48"/>
<polyline points="555.3,155.65 556.39,157.03 557.47,158.27 558.56,158.26 559.64,157.89 560.73,158.28 561.81,159.64 562.9,158.82 563.99,157.99 565.07,158.22 566.16,158.51 567.24,158.12 568.33,158.82 569.41,158.26 570.5,158.03 571.59,156.48 572.67,156.86 573.76,157.6 574.84,158.16 575.93,158.77 577.01,158.46 578.1,157.22 579.19,157.83 580.27,156.5 581.36,157.33 582.44,158.63 583.53,158.7 584.61,158.01 585.7,157.97 586.79,157.33 587.87,157.27 588.96,158.37 590.04,157.71 591.13,159.34 592.21,158.82 593.3,159.89 594.39,160.15 595.47,167.56 596.56,172.96 597.64,173.77 598.73,173.1 599.81,173.19 600.9,174.2 601.99,173.31 603.07,172.95 604.16,173.33 605.24,173.87 606.33,173.37 607.41,173.73 608.5,174.14 609.58,174.4 610.67,173.97 611.76,175.21 612.84,175.27 613.93,176.43 615.01,177.06 616.1,178.32 617.18,177.87 618.27,178.51 619.36,179.42 620.44,179.08 621.53,179.3 622.61,180.26 623.7,180.49 624.78,180.76 625.87,181.44 626.96,182.01 628.04,183.03 629.13,183.67 630.21,182.45 631.3,183.85 632.38,185.43 633.47,185.59 634.56,185.92 635.64,186.62 636.73,186.75 637.81,186.67 638.9,188.33 639.98,188.78 641.07,187.43 642.16,187.78 643.24,188.19 644.33,189.66 645.41,191.5 646.5,190.07 647.58,191.05 648.67,191.51 649.76,192.39 650.84,192.38 651.93,192.48 653.01,192.84 654.1,191.63 655.18,191.44 656.27,192.05 657.36,191.91 658.44,191.28 659.53,192.02 660.61,192.86 661.7,193.11 662.78,192.67 663.87,192 664.96,192.51 666.04,192.67 667.13,192.48 668.21,191.76 669.3,191.72 670.38,191.12 671.47,191.68 672.56,191.54 673.64,193.32 674.73,193.21 675.81,192.48 676.9,191.52 677.98,189.75 679.07,192.11 680.16,192.02 681.24,191.48 682.33,191.54 683.41,191.31" fill="none" stroke="#b03060" stroke-width="0.48"/>
<polyline points="555.3,158.36 556.39,158.51 557.47,157.62 558.56,158.54 559.64,158.74 560.73,159.2 561.81,158.41 562.9,157.1 563.99,157.4 565.07,158.02 566.16,158.95 567.24,158.03 568.33,157.48 569.41,158.15 570.5,157.27 571.59,158.6 572.67,158.29 573.76,158.2 574.84,157.64 575.93,157.67 577.01,158.9 578.1,157.18 579.19,157.59 580.27,157.45 581.36,157.4 582.44,157.69 583.53,156.81 584.61,157.59 585.7,158.08 586.79,158.72 587.87,157.91 588.96,159.15 590.04,158.42 591.13,159.86 592.21,160.27 593.3,161.39 594.39,161.24 595.47,164.17 596.56,170.07 597.64,173.44 598.73,173.53 599.81,172.92 600.9,173.15 601.99,173.66 603.07,175.03 604.16,175.89 605.24,175.61 606.33,175.43 607.41,174.32 608.5,175.01 609.58,176.87 610.67,176.73 611.76,176.53 612.84,177.93 613.93,179.22 615.01,179.4 616.1,179.32 617.18,180.56 618.27,181.51 619.36,183.5 620.44,183.8 621.53,182.61 622.61,183.19 623.7,184.38 624.78,184.39 625.87,184.44 626.96,184.67 628.04,185.26 629.13,184.45 630.21,185.64 631.3,186.97 632.38,187.06 633.47,187.31 634.56,187.48 635.64,189.87 636.73,190.86 637.81,189.93 638.9,191.38 639.98,191.41 641.07,191.48 642.16,191.9 643.24,192.17 644.33,192.13 645.41,192.29 646.5,192.24 647.58,191.57 648.67,192.36 649.76,192.66 650.84,192.13 651.93,192.09 653.01,191.51 654.1,191.82 655.18,191.86 656.27,191.17 657.36,190.5 658.44,192.48 659.53,193.15 660.61,192.34 661.7,192.09 662.78,192.27 663.87,192.66 664.96,192.1 666.04,191.73 667.13,191.8 668.21,191.32 669.3,192.4 670.38,192.22 671.47,192.73 672.56,192.6 673.64,192.86 674.73,193.89 675.81,193.76 676.9,193.45 677.98,193.23 679.07,191.43 680.16,191.24 681.24,192.28 682.33,192.2 683.41,191.78" fill="none" stroke="#ff4080" stroke-width="0.48"/>
<polyline points="555.3,157.57 556.39,157.86 557.47,158.22 558.56,157.77 559.64,157.86 560.73,158.32 561.81,157.8 562.9,158.52 563.99,157.37 565.07,157.85 566.16,159.01 567.24,158.54 568.33,158.69 569.41,159.23 570.5,158.51 571.59,158.07 572.67,157.65 573.76,157.07 574.84,158.52 575.93,159.54 577.01,158.81 578.1,157.76 579.19,158.6 580.27,158 581.36,158.25 582.44,158.26 583.53,159.51 584.61,158.11 585.7,157.37 586.79,157.36 587.87,158.34 588.96,158.48 590.04,158.37 591.13,158.12 592.21,158.74 593.3,158.62 594.39,158.68 595.47,161.6 596.56,167.49 597.64,171.83 598.73,171.04 599.81,172.03 600.9,172.52 601.99,172.23 603.07,173.03 604.16,173.51 605.24,173.12 606.33,174.05 607.41,174.4 608.5,175.24 609.58,174.3 610.67,176.25 611.76,174.9 612.84,175 613.93,177.6 615.01,177.31 616.1,177.97 617.18,178.33 618.27,178.45 619.36,179.3 620.44,180.77 621.53,180.81 622.61,180.76 623.7,181.89 624.78,182.73 625.87,182.86 626.96,181.96 628.04,183.68 629.13,184.53 630.21,185.33 631.3,187 632.38,186.95 633.47,187.43 634.56,188.17 635.64,188.95 636.73,189.62 637.81,190.13 638.9,189.93 639.98,191.45 641.07,191.44 642.16,192.46 643.24,191.42 644.33,190.87 645.41,190.86 646.5,191.41 647.58,193.14 648.67,193.27 649.76,193.61 650.84,193.28 651.93,192.16 653.01,192.45 654.1,192.3 655.18,193.02 656.27,192.42 657.36,192.52 658.44,191.1 659.53,192.41 660.61,192.1 661.7,194.29 662.78,193.09 663.87,191.8 664.96,192.36 666.04,192.49 667.13,193.63 668.21,192.83 669.3,190.96 670.38,192.17 671.47,192.1 672.56,192.13 673.64,190.67 674.73,191.95 675.81,192.37 676.9,192.35 677.98,192.26 679.07,192.49 680.16,192.18 681.24,192.3 682.33,191.87 683.41,192.69" fill="none" stroke="#a05000" stroke-width="0.48"/>
<polyline points="555.3,160.02 556.39,159.26 557.47,159.36 558.56,159.39 559.64,159.18 560.73,158.47 561.81,159.55 562.9,158.33 563.99,157.3 565.07,157.6 566.16,157.15 567.24,157.33 568.33,156.79 569.41,158.59 570.5,157.29 571.59,158.01 572.67,158.09 573.76,158.22 574.84,157.84 575.93,158.61 577.01,159.81 578.1,159.35 579.19,159.42 580.27,158.66 581.36,158.94 582.44,159.01 583.53,158.32 584.61,158.01 585.7,158.52 586.79,158.3 587.87,156.98 588.96,157.51 590.04,159.32 591.13,159.62 592.21,159.41 593.3,158.89 594.39,159.85 595.47,162.23 596.56,162.85 597.64,151.5 598.73,136.72 599.81,135.05 600.9,136.04 601.99,135.18 603.07,135.27 604.16,135.35 605.24,134.94 606.33,135.14 607.41,136.11 608.5,135.95 609.58,134.99 610.67,134.51 611.76,134.81 612.84,134.02 613.93,133.95 615.01,134.2 616.1,133.71 617.18,133.98 618.27,134.45 619.36,133.64 620.44,132.82 621.53,133.09 622.61,131.65 623.7,132.68 624.78,132.72 625.87,133.31 626.96,134 628.04,133.07 629.13,132.84 630.21,132.51 631.3,131.39 632.38,132.31 633.47,131.29 634.56,130.58 635.64,130.43 636.73,129.33 637.81,130.95 638.9,129.84 639.98,130.88 641.07,130.82 642.16,131.24 643.24,129.88 644.33,128.77 645.41,130.19 646.5,130.43 647.58,130.29 648.67,129.83 649.76,130.18 650.84,129.64 651.93,129.34 653.01,127.98 654.1,129.87 655.18,128.85 656.27,129.14 657.36,129.77 658.44,129.49 659.53,129.82 660.61,129.39 661.7,129.74 662.78,128.66 663.87,129.61 664.96,129.91 666.04,128.99 667.13,129.16 668.21,128.65 669.3,129.16 670.38,129.14 671.47,129.54 672.56,128.53 673.64,129.7 674.73,130.43 675.81,130.3 676.9,129.06 677.98,128.75 679.07,129.41 680.16,130.46 681.24,129.9 682.33,130.05 683.41,130.93" fill="none" stroke="#1f77b4" stroke-width="0.48"/>
<polyline points="555.3,158.53 556.39,158.05 557.47,157.75 558.56,158.52 559.64,157.89 560.73,157.41 561.81,157.03 562.9,156.99 563.99,157.05 565.07,157.45 566.16,157.35 567.24,156.89 568.33,157.37 569.41,157 570.5,156.86 571.59,156.91 572.67,157.24 573.76,157.62 574.84,157.22 575.93,157.07 577.01,158.15 578.1,158.04 579.19,158.64 580.27,158.1 581.36,157.75 582.44,157.86 583.53,157.71 584.61,157.85 585.7,157.36 586.79,157.92 587.87,157.35 588.96,157.84 590.04,157.89 591.13,158.09 592.21,158.79 593.3,157.91 594.39,159.46 595.47,165.88 596.56,174.88 597.64,178.12 598.73,168.03 599.81,153.22 600.9,139.66 601.99,137.51 603.07,137.53 604.16,136.76 605.24,136.61 606.33,136.54 607.41,135.98 608.5,134.59 609.58,135.23 610.67,134.69 611.76,135.55 612.84,135.07 613.93,135.53 615.01,134.06 616.1,132.6 617.18,133.09 618.27,133.88 619.36,133.8 620.44,134.64 621.53,133.52 622.61,132.98 623.7,132.95 624.78,132.36 625.87,132.34 626.96,133.31 628.04,132.61 629.13,132.01 630.21,131.66 631.3,131.02 632.38,131.1 633.47,132.19 634.56,131.31 635.64,132.27 636.73,131.73 637.81,131.67 638.9,131.22 639.98,130.95 641.07,129.75 642.16,129.5 643.24,128.88 644.33,130.41 645.41,130.54 646.5,131.71 647.58,130.31 648.67,129.21 649.76,129.97 650.84,129.13 651.93,128.01 653.01,129.29 654.1,129.82 655.18,130.08 656.27,128.88 657.36,129.35 658.44,129.47 659.53,129.84 660.61,129.09 661.7,130.67 662.78,129.94 663.87,130.33 664.96,129.13 666.04,129.22 667.13,130.49 668.21,129.49 669.3,129.09 670.38,129.61 671.47,130 672.56,130.87 673.64,130.94 674.73,130.98 675.81,129.39 676.9,129.81 677.98,130.36 679.07,129.08 680.16,129.38 681.24,130.45 682.33,129.94 683.41,129.75" fill="none" stroke="#6a9a00" stroke-width="0.48"/>
<polyline points="555.3,159.08 556.39,156.8 557.47,157.41 558.56,156.32 559.64,156.26 560.73,156.8 561.81,156.72 562.9,157.75 563.99,158.23 565.07,157.28 566.16,157.13 567.24,157.76 568.33,157.61 569.41,156.81 570.5,157.88 571.59,156.18 572.67,158.11 573.76,158.26 574.84,158.76 575.93,158.95 577.01,159.21 578.1,159.77 579.19,159.81 580.27,158.15 581.36,158.15 582.44,158.26 583.53,158.8 584.61,159.19 585.7,157.55 586.79,159.65 587.87,159.34 588.96,158.93 590.04,158.65 591.13,159.24 592.21,158.07 593.3,159.49 594.39,160.12 595.47,160.36 596.56,166.45 597.64,174.31 598.73,177.08 599.81,175.97 600.9,177.15 601.99,176.81 603.07,177.46 604.16,177.24 605.24,177.15 606.33,176.75 607.41,177.41 608.5,177.49 609.58,177.19 610.67,176.41 611.76,177.56 612.84,176.25 613.93,176.9 615.01,178.07 616.1,176.64 617.18,178.01 618.27,178.94 619.36,178.64 620.44,179.19 621.53,179.58 622.61,181.14 623.7,180.52 624.78,181.34 625.87,181.16 626.96,181.92 628.04,182.98 629.13,182.94 630.21,182.32 631.3,182.65 632.38,184.07 633.47,183.24 634.56,183.46 635.64,183.7 636.73,184.6 637.81,184.57 638.9,183.61 639.98,185.67 641.07,186.35 642.16,186.49 643.24,188.27 644.33,188.41 645.41,189.04 646.5,189.74 647.58,190.21 648.67,190.02 649.76,191.98 650.84,192.05 651.93,193.48 653.01,193.51 654.1,191.84 655.18,192.55 656.27,192.53 657.36,192.29 658.44,191.8 659.53,192.88 660.61,192.77 661.7,192.2 662.78,191.95 663.87,192.03 664.96,191.71 666.04,193.51 667.13,192.46 668.21,193.82 669.3,192.58 670.38,194 671.47,192.8 672.56,191.35 673.64,192.14 674.73,194.08 675.81,193.18 676.9,193.49 677.98,192.74 679.07,192.64 680.16,193.46 681.24,193.04 682.33,192.24 683.41,192.02" fill="none" stroke="#ff4080" stroke-width="0.48"/>
<polyline points="555.3,158.06 556.39,157.77 557.47,158.6 558.56,158.31 559.64,158.49 560.73,158.05 561.81,159.55 562.9,158.25 563.99,157.46 565.07,158.15 566.16,157.34 567.24,155.59 568.33,157.52 569.41,157.07 570.5,156.15 571.59,157.04 572.67,156.82 573.76,157.93 574.84,157.98 575.93,156.95 577.01,157.72 578.1,157.82 579.19,158.21 580.27,158.72 581.36,157.82 582.44,158 583.53,158.13 584.61,157.38 585.7,157.92 586.79,159.03 587.87,157.74 588.96,158.44 590.04,158.34 591.13,157.66 592.21,158.1 593.3,158.13 594.39,158.91 595.47,159.25 596.56,162.19 597.64,161.07 598.73,164.99 599.81,170.37 600.9,171.75 601.99,172.83 603.07,173.27 604.16,174.29 605.24,173.36 606.33,173.32 607.41,175.02 608.5,174.04 609.58,175.37 610.67,175.92 611.76,177.12 612.84,177.12 613.93,177.16 615.01,177.87 616.1,178.41 617.18,179.16 618.27,179.97 619.36,180.18 620.44,180.46 621.53,181.64 622.61,182.7 623.7,183.49 624.78,183.83 625.87,184.57 626.96,184.7 628.04,185.33 629.13,186.39 630.21,186.45 631.3,187.36 632.38,187.86 633.47,188.66 634.56,189.79 635.64,191.21 636.73,191.29 637.81,191.93 638.9,193.33 639.98,193.83 641.07,192.73 642.16,193.64 643.24,193.25 644.33,192.61 645.41,191.92 646.5,191.94 647.58,191.5 648.67,191.87 649.76,191.96 650.84,191.69 651.93,190.93 653.01,191.12 654.1,191.7 655.18,193.75 656.27,193.75 657.36,192.52 658.44,192.65 659.53,192.17 660.61,192.99 661.7,192.92 662.78,191.89 663.87,192.4 664.96,192.38 666.04,193.11 667.13,193.46 668.21,193.42 669.3,193.1 670.38,192.71 671.47,191.86 672.56,191.41 673.64,192.4 674.73,192.94 675.81,193.14 676.9,192.3 677.98,193.22 679.07,193.26 680.16,193.14 681.24,193.52 682.33,192.81 683.41,193.65" fill="none" stroke="#f58231" stroke-width="0.48"/>
<polyline points="555.3,157.85 556.39,157.77 557.47,158.01 558.56,157.08 559.64,155.71 560.73,156.17 561.81,155.52 562.9,156.88 563.99,157.84 565.07,157.46 566.16,156.69 567.24,156.05 568.33,156.92 569.41,157.65 570.5,157.36 571.59,157.73 572.67,157 573.76,157.56 574.84,158.26 575.93,159.15 577.01,158.83 578.1,159.33 579.19,157.57 580.27,157.09 581.36,157.95 582.44,157.9 583.53,157.04 584.61,157.98 585.7,157.99 586.79,157.72 587.87,157.43 588.96,157.58 590.04,157.38 591.13,158.29 592.21,159.55 593.3,159.52 594.39,160.19 595.47,164.04 596.56,171.01 597.64,174.4 598.73,173.97 599.81,174.09 600.9,173.25 601.99,172.76 603.07,174.14 604.16,175.08 605.24,174.75 606.33,174.75 607.41,174.98 608.5,174.97 609.58,175.39 610.67,176.41 611.76,176.38 612.84,176.96 613.93,176.75 615.01,178.07 616.1,177.62 617.18,178.13 618.27,178.32 619.36,179.1 620.44,179.35 621.53,180.07 622.61,180.76 623.7,180.52 624.78,180.9 625.87,182.01 626.96,182.43 628.04,182.65 629.13,183.43 630.21,184.98 631.3,186.03 632.38,184.88 633.47,184.8 634.56,185.22 635.64,186.16 636.73,186.9 637.81,188.09 638.9,188.74 639.98,188.28 641.07,188.22 642.16,189.78 643.24,190.44 644.33,190.86 645.41,190.57 646.5,191.41 647.58,191.63 648.67,192.36 649.76,192.55 650.84,191.9 651.93,191.93 653.01,191.39 654.1,191.82 655.18,191.38 656.27,191.14 657.36,191.3 658.44,190.66 659.53,192.11 660.61,191.71 661.7,192.22 662.78,191.82 663.87,192.59 664.96,192.04 666.04,192.56 667.13,192.64 668.21,192.18 669.3,192.74 670.38,192.39 671.47,192.87 672.56,193.46 673.64,192.49 674.73,191.77 675.81,192.96 676.9,194.02 677.98,192.67 679.07,193.01 680.16,192.54 681.24,192.49 682.33,191.29 683.41,190.84" fill="none" stroke="#d62728" stroke-width="0.48"/>
<polyline points="555.3,157.82 556.39,157.13 557.47,156.21 558.56,157.54 559.64,157.81 560.73,157.98 561.81,158.61 562.9,159.04 563.99,158.42 565.07,157.78 566.16,157.37 567.24,157.52 568.33,158.07 569.41,157.31 570.5,159.21 571.59,157.9 572.67,157.62 573.76,157.62 574.84,158.25 575.93,157.84 577.01,158.64 578.1,158.6 579.19,157.72 580.27,157.79 581.36,158.34 582.44,158.66 583.53,158.01 584.61,159.05 585.7,157.71 586.79,155.8 587.87,156.21 588.96,158.19 590.04,159.17 591.13,160.22 592.21,159.56 593.3,159.21 594.39,162.7 595.47,168.69 596.56,174.21 597.64,173.33 598.73,173.39 599.81,174.69 600.9,173.67 601.99,173.55 603.07,172.67 604.16,171.29 605.24,169.78 606.33,166.05 607.41,164.91 608.5,163.75 609.58,165.15 610.67,166.03 611.76,165.55 612.84,165.02 613.93,165.05 615.01,165.12 616.1,164.9 617.18,165.66 618.27,166.73 619.36,167.51 620.44,166.48 621.53,166.49 622.61,166.94 623.7,167.47 624.78,166.95 625.87,168.04 626.96,168.07 628.04,168.55 629.13,168.64 630.21,168 631.3,158.39 632.38,141.48 633.47,131.14 634.56,129.44 635.64,131.78 636.73,132.94 637.81,133.66 638.9,131.45 639.98,131.64 641.07,130.47 642.16,130.42 643.24,130.16 644.33,130 645.41,130.35 646.5,131.23 647.58,130.21 648.67,129.73 649.76,129.81 650.84,130.37 651.93,129.34 653.01,128.89 654.1,129.01 655.18,129.37 656.27,129.18 657.36,130.09 658.44,129.66 659.53,130.16 660.61,130.69 661.7,130.81 662.78,131.1 663.87,130.74 664.96,130.73 666.04,131.37 667.13,130.54 668.21,130.96 669.3,130.06 670.38,129 671.47,128.96 672.56,128.97 673.64,130.97 674.73,130.29 675.81,130.66 676.9,130.47 677.98,130.06 679.07,129.23 680.16,129.27 681.24,129.79 682.33,130.18 683.41,129.86" fill="none" stroke="#38c8d8" stroke-width="0.48"/>
<polyline points="555.3,158.37 556.39,159.05 557.47,157.06 558.56,157.41 559.64,157.43 560.73,157.61 561.81,157.68 562.9,158.08 563.99,157.38 565.07,157.31 566.16,156.88 567.24,157.63 568.33,156.5 569.41,157.56 570.5,156.52 571.59,156.42 572.67,156.48 573.76,157.29 574.84,157.44 575.93,157.4 577.01,158.94 578.1,158.95 579.19,159.16 580.27,157.64 581.36,157.71 582.44,158.04 583.53,157.52 584.61,158.07 585.7,157.75 586.79,158.29 587.87,157.38 588.96,157.97 590.04,158.6 591.13,158.15 592.21,159.46 593.3,160.53 594.39,160.19 595.47,161.68 596.56,168.29 597.64,174.2 598.73,175.13 599.81,174.74 600.9,176.05 601.99,175.65 603.07,175.44 604.16,175.85 605.24,176.16 606.33,175.34 607.41,176.34 608.5,176.57 609.58,176.17 610.67,176.33 611.76,175.82 612.84,176.31 613.93,176.65 615.01,177.19 616.1,178.46 617.18,178.86 618.27,179.85 619.36,179.79 620.44,180.81 621.53,181.25 622.61,180.23 623.7,180.45 624.78,180.76 625.87,181.62 626.96,182.36 628.04,182.45 629.13,182.47 630.21,183.54 631.3,184.21 632.38,184.28 633.47,185.51 634.56,186.56 635.64,185.74 636.73,186.26 637.81,186.88 638.9,186.95 639.98,187.71 641.07,188.39 642.16,189.77 643.24,189.13 644.33,189.85 645.41,189.85 646.5,190.08 647.58,191.33 648.67,191.7 649.76,190.8 650.84,191.09 651.93,193 653.01,192.69 654.1,192.46 655.18,192.18 656.27,192.23 657.36,191.97 658.44,191.92 659.53,192.12 660.61,192.64 661.7,192.77 662.78,193.55 663.87,192.73 664.96,193.04 666.04,192.5 667.13,193.11 668.21,192.86 669.3,192.53 670.38,192.96 671.47,193.5 672.56,192.56 673.64,192.71 674.73,191.54 675.81,191.96 676.9,191.82 677.98,192.64 679.07,192.52 680.16,193.19 681.24,193.73 682.33,193.08 683.41,192.55" fill="none" stroke="#911eb4" stroke-width="0.48"/>
<polyline points="555.3,159 556.39,158.54 557.47,158.54 558.56,158.87 559.64,158.36 560.73,158.96 561.81,156.96 562.9,157.41 563.99,157.17 565.07,157.62 566.16,157.62 567.24,157.85 568.33,158.56 569.41,156.19 570.5,157.31 571.59,157.79 572.67,156.9 573.76,158.28 574.84,156.95 575.93,156.6 577.01,156.89 578.1,157.18 579.19,157.8 580.27,157.41 581.36,158.23 582.44,157.77 583.53,159.87 584.61,158.84 585.7,157.99 586.79,158.69 587.87,157.46 588.96,159.52 590.04,158.2 591.13,158.76 592.21,158.5 593.3,159.28 594.39,160.68 595.47,167.04 596.56,174.72 597.64,176.64 598.73,176.39 599.81,176.72 600.9,176.1 601.99,177.6 603.07,176.49 604.16,177.74 605.24,177.02 606.33,178.06 607.41,177.36 608.5,177.29 609.58,178.46 610.67,177.41 611.76,177.31 612.84,177.12 613.93,177.94 615.01,177.69 616.1,178.11 617.18,178.83 618.27,180 619.36,179.55 620.44,179.55 621.53,180.07 622.61,180.76 623.7,181.01 624.78,182.68 625.87,182.62 626.96,182.64 628.04,182.28 629.13,183.69 630.21,184.07 631.3,184.09 632.38,185.3 633.47,187.18 634.56,187.23 635.64,188.4 636.73,188.15 637.81,188.07 638.9,187.42 639.98,187.9 641.07,189.4 642.16,190.71 643.24,190.59 644.33,191.05 645.41,191.82 646.5,191.63 647.58,192.64 648.67,192.73 649.76,192.34 650.84,191.66 651.93,192.72 653.01,193.67 654.1,193.56 655.18,193.26 656.27,193.06 657.36,191.68 658.44,192.29 659.53,191.42 660.61,190.97 661.7,191.82 662.78,192.83 663.87,192.15 664.96,192.75 666.04,192.45 667.13,191.88 668.21,192.1 669.3,192.3 670.38,192.33 671.47,192.18 672.56,191.27 673.64,191.86 674.73,192.12 675.81,192.74 676.9,192.83 677.98,192.45 679.07,191.6 680.16,191.83 681.24,191.89 682.33,192.34 683.41,193.03" fill="none" stroke="#d62728" stroke-width="0.48"/>
<polyline points="555.3,157.27 556.39,158.55 557.47,157.98 558.56,158.75 559.64,158.79 560.73,158.55 561.81,157.97 562.9,157.11 563.99,156.71 565.07,156.61 566.16,156.98 567.24,158.14 568.33,157.93 569.41,158.08 570.5,157.09 571.59,155.96 572.67,157.29 573.76,158.1 574.84,158.47 575.93,157.88 577.01,158.93 578.1,159.27 579.19,158.85 580.27,158.03 581.36,158.49 582.44,157.48 583.53,158.7 584.61,157.72 585.7,158.74 586.79,158.81 587.87,158.39 588.96,157.71 590.04,158.43 591.13,158.85 592.21,159.17 593.3,158.28 594.39,158.62 595.47,159.7 596.56,159.64 597.64,166.59 598.73,172.03 599.81,173.12 600.9,173.87 601.99,174.16 603.07,165.41 604.16,155.72 605.24,146.94 606.33,137.18 607.41,135.64 608.5,136.15 609.58,134.95 610.67,134.28 611.76,132.72 612.84,133.26 613.93,132.16 615.01,131.66 616.1,133.45 617.18,132.32 618.27,132.97 619.36,133.21 620.44,133.59 621.53,132.14 622.61,131.16 623.7,131.29 624.78,131.53 625.87,130.94 626.96,130.26 628.04,130.67 629.13,131.07 630.21,131.99 631.3,132.22 632.38,130.86 633.47,129.65 634.56,131.16 635.64,130.38 636.73,130.67 637.81,130.01 638.9,130.54 639.98,130.12 641.07,129.69 642.16,128.84 643.24,128.87 644.33,128.49 645.41,127.16 646.5,129.03 647.58,129.16 648.67,129.49 649.76,130.34 650.84,128.76 651.93,128.5 653.01,128.55 654.1,129.79 655.18,128.79 656.27,129.73 657.36,130.82 658.44,130.43 659.53,129.71 660.61,128.96 661.7,128.61 662.78,129.96 663.87,129.6 664.96,129.99 666.04,128.13 667.13,128.16 668.21,128.71 669.3,129.45 670.38,130.09 671.47,129.82 672.56,129.22 673.64,128.62 674.73,128.27 675.81,128.23 676.9,128.37 677.98,128.64 679.07,129.39 680.16,129.94 681.24,128.99 682.33,129.32 683.41,128.85" fill="none" stroke="#40a0ff" stroke-width="0.48"/>
<polyline points="555.3,158.59 556.39,158.61 557.47,158.23 558.56,158.61 559.64,159.17 560.73,158.94 561.81,159.13 562.9,159.12 563.99,159.51 565.07,159.52 566.16,158.17 567.24,158.07 568.33,157.31 569.41,158.17 570.5,158.32 571.59,157.55 572.67,157.8 573.76,157.09 574.84,157.84 575.93,158.26 577.01,158.68 578.1,158.98 579.19,158.01 580.27,158.42 581.36,157.99 582.44,158.94 583.53,158.17 584.61,158.54 585.7,158.4 586.79,158.53 587.87,158.11 588.96,157.59 590.04,159.61 591.13,160.11 592.21,159.43 593.3,160.69 594.39,161.02 595.47,166.87 596.56,163.13 597.64,142.26 598.73,132.64 599.81,132.54 600.9,132.3 601.99,131.88 603.07,134.05 604.16,134.76 605.24,134.06 606.33,132.49 607.41,133.82 608.5,132.84 609.58,130.99 610.67,131.6 611.76,132.09 612.84,131.89 613.93,133.03 615.01,131.71 616.1,131.69 617.18,131.64 618.27,130.97 619.36,131.7 620.44,132.23 621.53,132.34 622.61,131.99 623.7,131.2 624.78,131.52 625.87,131.03 626.96,130.61 628.04,130.38 629.13,129.17 630.21,128.85 631.3,129.97 632.38,129.61 633.47,129.99 634.56,129.62 635.64,130.15 636.73,128.49 637.81,129.62 638.9,129.31 639.98,129.38 641.07,128.32 642.16,127.91 643.24,128.06 644.33,127.69 645.41,126.47 646.5,125.5 647.58,126.68 648.67,127.61 649.76,128.38 650.84,127.93 651.93,128.55 653.01,127.13 654.1,127.47 655.18,128.02 656.27,127.78 657.36,127.59 658.44,127.82 659.53,127.8 660.61,128.35 661.7,128.85 662.78,128.25 663.87,128.31 664.96,127.5 666.04,128.38 667.13,128.77 668.21,129.15 669.3,128.44 670.38,128.41 671.47,127.08 672.56,127.99 673.64,128.6 674.73,128.85 675.81,129.28 676.9,128.89 677.98,128.12 679.07,128.34 680.16,128.66 681.24,128.55 682.33,128.05 683.41,128.35" fill="none" stroke="#00a0a0" stroke-width="0.48"/>
<polyline points="555.3,158.82 556.39,158.97 557.47,158.88 558.56,157.68 559.64,157.26 560.73,157.47 561.81,158.27 562.9,158.05 563.99,156.87 565.07,158.66 566.16,158.84 567.24,158.71 568.33,157.16 569.41,157.7 570.5,158.56 571.59,158.33 572.67,156.86 573.76,157.42 574.84,158.65 575.93,157.8 577.01,157.95 578.1,157.66 579.19,157.75 580.27,158.48 581.36,157.82 582.44,159.76 583.53,159.84 584.61,158.94 585.7,157.69 586.79,157.92 587.87,158.41 588.96,158.47 590.04,158.98 591.13,159.28 592.21,158.73 593.3,159.41 594.39,160.42 595.47,166.78 596.56,174.6 597.64,178.05 598.73,178.7 599.81,176.42 600.9,177.44 601.99,178.47 603.07,178.21 604.16,178.91 605.24,179.24 606.33,178.76 607.41,179.74 608.5,181.28 609.58,180.25 610.67,180.42 611.76,180.83 612.84,181.05 613.93,181.41 615.01,180.38 616.1,181.35 617.18,181.68 618.27,181.74 619.36,181.96 620.44,180.87 621.53,182.99 622.61,182.95 623.7,183.91 624.78,184.67 625.87,184.2 626.96,184.08 628.04,185.31 629.13,186.53 630.21,186.04 631.3,185.83 632.38,185.88 633.47,186.48 634.56,186.51 635.64,188.13 636.73,188.95 637.81,190.66 638.9,190.01 639.98,190.04 641.07,190.01 642.16,190.51 643.24,192.58 644.33,193.04 645.41,192.07 646.5,191.86 647.58,191.88 648.67,191.38 649.76,191.86 650.84,191.32 651.93,192.89 653.01,192.66 654.1,192.15 655.18,192.76 656.27,192.57 657.36,192.51 658.44,192.49 659.53,193.09 660.61,193.4 661.7,192.52 662.78,193.75 663.87,192.81 664.96,192.21 666.04,192.01 667.13,191.71 668.21,192.14 669.3,192.8 670.38,193.27 671.47,192.69 672.56,192.11 673.64,192.7 674.73,193.63 675.81,192.84 676.9,191.41 677.98,191.28 679.07,192.67 680.16,193.26 681.24,193.48 682.33,192.16 683.41,191.72" fill="none" stroke="#2ca02c" stroke-width="0.48"/>
<polyline points="555.3,157.35 556.39,156.93 557.47,157.24 558.56,157.49 559.64,157.36 560.73,156.68 561.81,158.48 562.9,158.48 563.99,158.17 565.07,159.63 566.16,158.2 567.24,157.21 568.33,156.74 569.41,157.83 570.5,157.94 571.59,158.89 572.67,159.14 573.76,157.44 574.84,158.1 575.93,157.98 577.01,159.14 578.1,157.96 579.19,158.39 580.27,156.78 581.36,155.88 582.44,155.58 583.53,156.9 584.61,157.75 585.7,157.07 586.79,157.1 587.87,157.22 588.96,157.26 590.04,157.35 591.13,158.38 592.21,159.55 593.3,159.29 594.39,159.83 595.47,167.89 596.56,176.12 597.64,178.29 598.73,177.27 599.81,176.23 600.9,176.73 601.99,177.37 603.07,177.9 604.16,178.79 605.24,177.19 606.33,156.15 607.41,136.07 608.5,135.33 609.58,135.01 610.67,134.91 611.76,134.66 612.84,135.41 613.93,134.97 615.01,134.18 616.1,134.74 617.18,134.54 618.27,133.37 619.36,133.99 620.44,134.66 621.53,134.66 622.61,134.82 623.7,133.78 624.78,135.08 625.87,135.29 626.96,134.26 628.04,134.05 629.13,133.93 630.21,132.91 631.3,133.07 632.38,132.99 633.47,131.64 634.56,132.84 635.64,131.76 636.73,132.28 637.81,132.87 638.9,131.42 639.98,131.31 641.07,130.27 642.16,131.22 643.24,130.26 644.33,130.21 645.41,129.58 646.5,130.07 647.58,130.33 648.67,131.33 649.76,130.58 650.84,130.67 651.93,130.68 653.01,130.47 654.1,130.32 655.18,129.91 656.27,129.79 657.36,131.72 658.44,131.12 659.53,130.73 660.61,131.57 661.7,131.32 662.78,130.49 663.87,132.67 664.96,130.66 666.04,130.09 667.13,130.62 668.21,130.52 669.3,130.33 670.38,130.34 671.47,130.32 672.56,130.65 673.64,130.24 674.73,130.56 675.81,131.3 676.9,129.65 677.98,131.27 679.07,129.77 680.16,129.63 681.24,130.74 682.33,130.59 683.41,130.94" fill="none" stroke="#1f77b4" stroke-width="0.48"/>
<polyline points="555.3,158.25 556.39,157.9 557.47,158.12 558.56,157.61 559.64,158.52 560.73,158.78 561.81,159.21 562.9,158.45 563.99,158.28 565.07,158.47 566.16,158.4 567.24,158.6 568.33,158.24 569.41,158.14 570.5,157.06 571.59,157.92 572.67,158.21 573.76,157.04 574.84,156.9 575.93,156.36 577.01,157.12 578.1,157.51 579.19,157.79 580.27,158.17 581.36,157.26 582.44,156.2 583.53,157.1 584.61,158.47 585.7,158.53 586.79,158.7 587.87,158.77 588.96,157.65 590.04,157.99 591.13,159.02 592.21,159.24 593.3,158.57 594.39,158.73 595.47,162.4 596.56,168.03 597.64,169.79 598.73,170.8 599.81,171.2 600.9,170.52 601.99,170.86 603.07,169.83 604.16,170.6 605.24,170.74 606.33,171.92 607.41,171.94 608.5,171.86 609.58,172.43 610.67,173.29 611.76,174.41 612.84,173.91 613.93,174.75 615.01,175.17 616.1,174.82 617.18,175.47 618.27,175.79 619.36,176.63 620.44,176.56 621.53,176.68 622.61,177.87 623.7,178.99 624.78,178.49 625.87,179.37 626.96,179.1 628.04,180.54 629.13,181.12 630.21,182.44 631.3,182.72 632.38,182.46 633.47,183.02 634.56,183.7 635.64,184.72 636.73,185.58 637.81,186.22 638.9,187.22 639.98,188.62 641.07,189.28 642.16,189.27 643.24,190.27 644.33,189.91 645.41,190.93 646.5,191.06 647.58,191.32 648.67,190.88 649.76,192.36 650.84,192.43 651.93,192.75 653.01,192.41 654.1,191.88 655.18,191.26 656.27,191.86 657.36,192.72 658.44,191.89 659.53,193.22 660.61,192.63 661.7,191.27 662.78,192.61 663.87,192.61 664.96,192.24 666.04,192.49 667.13,193.01 668.21,192.82 669.3,191.8 670.38,191.25 671.47,191.39 672.56,192.44 673.64,191.02 674.73,190.1 675.81,189.96 676.9,191.72 677.98,192.83 679.07,192.67 680.16,192.97 681.24,192.49 682.33,192.12 683.41,192.27" fill="none" stroke="#9467bd" stroke-width="0.48"/>
<polyline points="555.3,157.78 556.39,157.64 557.47,157.47 558.56,157.37 559.64,157.36 560.73,157.19 561.81,157.75 562.9,156.83 563.99,158.64 565.07,158.54 566.16,159.78 567.24,159.95 568.33,158.64 569.41,158.29 570.5,158.22 571.59,159.04 572.67,158.9 573.76,158.2 574.84,159.01 575.93,158.45 577.01,158.25 578.1,157.93 579.19,157.99 580.27,157.74 581.36,157.38 582.44,157.5 583.53,157.5 584.61,157.01 585.7,157.44 586.79,156.64 587.87,157.52 588.96,158.77 590.04,158.58 591.13,158.1 592.21,160.23 593.3,159.99 594.39,159.58 595.47,159.94 596.56,165.65 597.64,169.3 598.73,171.21 599.81,171.7 600.9,172.63 601.99,171.88 603.07,158.93 604.16,141.79 605.24,135.95 606.33,135.5 607.41,136.49 608.5,135.66 609.58,136.42 610.67,135 611.76,135.26 612.84,135.86 613.93,136 615.01,135.63 616.1,134.14 617.18,134.7 618.27,133.81 619.36,133.93 620.44,132.76 621.53,133.21 622.61,134.03 623.7,133.24 624.78,132.36 625.87,132.13 626.96,131.05 628.04,132.15 629.13,132.07 630.21,132.25 631.3,132.08 632.38,132.11 633.47,131.78 634.56,131.93 635.64,132.53 636.73,132.52 637.81,131.83 638.9,129.38 639.98,129.53 641.07,130.73 642.16,129.8 643.24,129.48 644.33,130.14 645.41,130.75 646.5,130.69 647.58,130.26 648.67,131.52 649.76,130.53 650.84,130.27 651.93,129.72 653.01,131.78 654.1,131.82 655.18,132.07 656.27,131.15 657.36,130.23 658.44,130.85 659.53,130.85 660.61,130.52 661.7,127.99 662.78,129.83 663.87,130.18 664.96,130.7 666.04,130.77 667.13,130.15 668.21,131.4 669.3,129.48 670.38,130.57 671.47,131.9 672.56,130.87 673.64,130.99 674.73,129.52 675.81,129.36 676.9,130.44 677.98,131.4 679.07,131.2 680.16,131.85 681.24,130.29 682.33,130.37 683.41,130.92" fill="none" stroke="#ff7f0e" stroke-width="0.48"/>
<polyline points="555.3,158.58 556.39,158.12 557.47,159.22 558.56,159.27 559.64,158.44 560.73,157.99 561.81,157.79 562.9,157.36 563.99,158.63 565.07,158.85 566.16,157.68 567.24,157.46 568.33,157.79 569.41,158.44 570.5,157.71 571.59,155.96 572.67,156.97 573.76,156.37 574.84,156.62 575.93,158.4 577.01,157.39 578.1,158.3 579.19,157.83 580.27,158.54 581.36,158.81 582.44,157.95 583.53,157.97 584.61,156.78 585.7,157.79 586.79,157.15 587.87,156.88 588.96,157.9 590.04,158.65 591.13,159.28 592.21,159.65 593.3,160.64 594.39,160.39 595.47,165.73 596.56,171.56 597.64,174.52 598.73,175.69 599.81,175.92 600.9,175.96 601.99,175.11 603.07,174.18 604.16,174.72 605.24,175.86 606.33,177.21 607.41,176.69 608.5,177.28 609.58,177.19 610.67,177.4 611.76,176.98 612.84,176.86 613.93,178.62 615.01,178.9 616.1,179.26 617.18,179.43 618.27,179.28 619.36,179.43 620.44,181.04 621.53,180.85 622.61,180.23 623.7,181.14 624.78,181.7 625.87,181.21 626.96,182.54 628.04,182.87 629.13,182.85 630.21,183.22 631.3,184.05 632.38,185.55 633.47,185.63 634.56,185.35 635.64,186.48 636.73,185.72 637.81,186.06 638.9,187.31 639.98,187.75 641.07,188.31 642.16,189.71 643.24,188.9 644.33,188.95 645.41,190.74 646.5,191.03 647.58,191.4 648.67,191.66 649.76,190.89 650.84,191.49 651.93,191.82 653.01,192.14 654.1,191.95 655.18,191.63 656.27,191.52 657.36,191.13 658.44,193.1 659.53,193.17 660.61,191.85 661.7,192.52 662.78,192.07 663.87,192.75 664.96,192.46 666.04,192.83 667.13,193.37 668.21,192.15 669.3,193.14 670.38,192.05 671.47,191.59 672.56,192.08 673.64,192.56 674.73,192.4 675.81,192.8 676.9,192.05 677.98,192.41 679.07,192.17 680.16,193.79 681.24,192.38 682.33,192.84 683.41,191.87" fill="none" stroke="#8c564b" stroke-width="0.48"/>
<polyline points="555.3,157.05 556.39,157.46 557.47,157.38 558.56,157.92 559.64,157.38 560.73,157.54 561.81,157.47 562.9,158.59 563.99,157.93 565.07,158.25 566.16,158.53 567.24,158.56 568.33,158.32 569.41,157.97 570.5,158.59 571.59,158.32 572.67,157.63 573.76,158.71 574.84,157.91 575.93,157.35 577.01,158.34 578.1,159.15 579.19,158.03 580.27,157.66 581.36,157.85 582.44,156.86 583.53,156.24 584.61,156.79 585.7,157.01 586.79,156.25 587.87,157.81 588.96,158.23 590.04,159.16 591.13,159.28 592.21,158.99 593.3,160.45 594.39,160.75 595.47,160.62 596.56,167.33 597.64,174.66 598.73,175.23 599.81,175.14 600.9,174.46 601.99,172.14 603.07,157.67 604.16,143.1 605.24,135.15 606.33,134.59 607.41,134.84 608.5,134.62 609.58,135.36 610.67,135.07 611.76,134.16 612.84,134.5 613.93,135.87 615.01,135.42 616.1,134.53 617.18,134.42 618.27,133.13 619.36,132.36 620.44,132.46 621.53,132.68 622.61,132.32 623.7,132.2 624.78,132.01 625.87,131.84 626.96,131.6 628.04,131.88 629.13,131.38 630.21,132.5 631.3,131.85 632.38,131.26 633.47,130.82 634.56,131.87 635.64,131.94 636.73,131.38 637.81,132.43 638.9,131.47 639.98,130.46 641.07,130.96 642.16,130.33 643.24,129.64 644.33,129.96 645.41,130.88 646.5,130.58 647.58,130.75 648.67,129.84 649.76,129.71 650.84,131.24 651.93,132.18 653.01,130.71 654.1,130.64 655.18,130.95 656.27,130.4 657.36,130.47 658.44,129.19 659.53,128.26 660.61,129.05 661.7,129.43 662.78,129.66 663.87,129.86 664.96,130.55 666.04,129.92 667.13,129.82 668.21,129.61 669.3,130.55 670.38,130.07 671.47,129.28 672.56,129.94 673.64,130.92 674.73,129.72 675.81,130.65 676.9,130.15 677.98,130.18 679.07,129.93 680.16,129.82 681.24,130.56 682.33,129.35 683.41,130.25" fill="none" stroke="#00a0a0" stroke-width="0.48"/>
<polyline points="555.3,157.62 556.39,157.63 557.47,157.53 558.56,157.63 559.64,158.15 560.73,158.42 561.81,158.89 562.9,158.02 563.99,156.74 565.07,156.74 566.16,156.01 567.24,156.81 568.33,156.37 569.41,156.88 570.5,156.77 571.59,158.48 572.67,158.99 573.76,158.86 574.84,158.73 575.93,157.69 577.01,158.05 578.1,158.8 579.19,158.81 580.27,158.66 581.36,158.76 582.44,158.05 583.53,158.16 584.61,158.51 585.7,157.32 586.79,157 587.87,158.78 588.96,158.77 590.04,158.4 591.13,158.41 592.21,158.46 593.3,159.66 594.39,159.12 595.47,159.65 596.56,160.31 597.64,160.48 598.73,167.62 599.81,162.4 600.9,150.42 601.99,136.23 603.07,134.4 604.16,132.81 605.24,133.53 606.33,132.22 607.41,132.42 608.5,133.03 609.58,132.09 610.67,132.6 611.76,132.6 612.84,133.31 613.93,133.21 615.01,132.84 616.1,132.98 617.18,131.93 618.27,131.93 619.36,132.73 620.44,133.12 621.53,131.25 622.61,130.55 623.7,130.49 624.78,131.51 625.87,130.79 626.96,132.18 628.04,131.18 629.13,131.02 630.21,130.89 631.3,130.59 632.38,130.76 633.47,130.63 634.56,130.6 635.64,130.71 636.73,130.16 637.81,130.38 638.9,129.49 639.98,129.04 641.07,128.61 642.16,128.04 643.24,129.11 644.33,128.52 645.41,128.54 646.5,128.01 647.58,127.83 648.67,127.76 649.76,127.95 650.84,128.16 651.93,129.01 653.01,129 654.1,129.11 655.18,127.25 656.27,126.97 657.36,127.34 658.44,129.12 659.53,127.47 660.61,128 661.7,127.59 662.78,127.97 663.87,128.26 664.96,128.2 666.04,129.14 667.13,129.7 668.21,130.19 669.3,129.05 670.38,128.81 671.47,129 672.56,128.8 673.64,129.82 674.73,128.83 675.81,128.12 676.9,128.52 677.98,128.44 679.07,128.23 680.16,127.34 681.24,128.34 682.33,128.01 683.41,127.85" fill="none" stroke="#7f7f7f" stroke-width="0.48"/>
<polyline points="555.3,157.9 556.39,158.18 557.47,157.64 558.56,159.11 559.64,158.86 560.73,158.12 561.81,157.77 562.9,158.16 563.99,158.26 565.07,156.51 566.16,156.9 567.24,157.38 568.33,158.15 569.41,158.14 570.5,158.03 571.59,157.44 572.67,157.08 573.76,158.07 574.84,157.1 575.93,156.86 577.01,156.74 578.1,158.14 579.19,157.76 580.27,157.93 581.36,158.63 582.44,158.64 583.53,158.6 584.61,157.88 585.7,157.46 586.79,156.91 587.87,156.58 588.96,157.39 590.04,158.42 591.13,158.38 592.21,158.5 593.3,160.79 594.39,160.87 595.47,163.75 596.56,169.43 597.64,159.55 598.73,144.93 599.81,134.39 600.9,134.58 601.99,133.96 603.07,133.89 604.16,134.78 605.24,134 606.33,133.8 607.41,134.67 608.5,134.52 609.58,134.25 610.67,133.08 611.76,133.63 612.84,133.72 613.93,132.96 615.01,133.71 616.1,132.66 617.18,132.16 618.27,132.3 619.36,132.36 620.44,132.89 621.53,132.39 622.61,131.89 623.7,131.13 624.78,131.78 625.87,131.03 626.96,131.5 628.04,131.57 629.13,131.28 630.21,131.52 631.3,131.16 632.38,131.03 633.47,130.71 634.56,130.53 635.64,131.09 636.73,130.48 637.81,130.2 638.9,129.9 639.98,130.08 641.07,129.7 642.16,130.08 643.24,130.64 644.33,130.25 645.41,129.61 646.5,129.14 647.58,128.52 648.67,129.56 649.76,129.07 650.84,128.57 651.93,128.05 653.01,128.79 654.1,128.74 655.18,129.94 656.27,129.91 657.36,130.62 658.44,129.43 659.53,130.14 660.61,129.97 661.7,129.01 662.78,128.78 663.87,128.75 664.96,128.86 666.04,128.41 667.13,128.89 668.21,130.27 669.3,130.54 670.38,129.92 671.47,130.16 672.56,128.54 673.64,129.17 674.73,128.85 675.81,129.41 676.9,129.79 677.98,129.88 679.07,129.72 680.16,128.72 681.24,129.28 682.33,129.43 683.41,129.38" fill="none" stroke="#e0a000" stroke-width="0.48"/>
<polyline points="555.3,157.74 556.39,156.77 557.47,158.27 558.56,158.07 559.64,157.63 560.73,156.61 561.81,156.34 562.9,157.61 563.99,158 565.07,157.85 566.16,157.79 567.24,158.14 568.33,158.06 569.41,158.59 570.5,157.36 571.59,156.49 572.67,156.39 573.76,157.47 574.84,158.12 575.93,159.62 577.01,158.59 578.1,158.07 579.19,157.92 580.27,159.04 581.36,158.73 582.44,158.59 583.53,157.57 584.61,157.41 585.7,157.47 586.79,157.97 587.87,158.63 588.96,158 590.04,158.8 591.13,157.78 592.21,159.55 593.3,159.48 594.39,160.32 595.47,164.56 596.56,173.3 597.64,179.6 598.73,178.19 599.81,178.2 600.9,177.42 601.99,176.75 603.07,176.69 604.16,177.83 605.24,177.32 606.33,177.91 607.41,177.45 608.5,178.36 609.58,179.15 610.67,178.53 611.76,178.32 612.84,178.81 613.93,179.69 615.01,179.68 616.1,180.12 617.18,180.04 618.27,180.67 619.36,181.08 620.44,181.12 621.53,181.42 622.61,181.88 623.7,180.78 624.78,181.05 625.87,182.34 626.96,181.31 628.04,183.79 629.13,183.05 630.21,183.62 631.3,184.6 632.38,185.82 633.47,187.35 634.56,186.82 635.64,186.89 636.73,187.38 637.81,187.63 638.9,186.73 639.98,187.72 641.07,188.03 642.16,189.77 643.24,189.22 644.33,188.3 645.41,189.35 646.5,189.54 647.58,190.87 648.67,192.15 649.76,192.3 650.84,193.56 651.93,192.61 653.01,192.23 654.1,192.58 655.18,193.54 656.27,192.91 657.36,192.26 658.44,193.04 659.53,192.99 660.61,192.05 661.7,193.34 662.78,192.89 663.87,193.39 664.96,192.88 666.04,192.11 667.13,191.85 668.21,192.46 669.3,192.45 670.38,191.42 671.47,192.16 672.56,192.27 673.64,191.98 674.73,192.01 675.81,192.79 676.9,191.74 677.98,191.45 679.07,191.92 680.16,192.1 681.24,191.96 682.33,191.81 683.41,190.59" fill="none" stroke="#bcbd22" stroke-width="0.48"/>
</g>
<rect x="555.3" y="116.4" width="128" height="87.9" fill="none" stroke="#2c2c2c" stroke-width="0.9"/>
<line x1="553.4" y1="204.08" x2="555.3" y2="204.08" stroke="#2c2c2c" stroke-width="0.8"/>
<line x1="683.3" y1="204.08" x2="681.7" y2="204.08" stroke="#2c2c2c" stroke-width="0.8"/>
<line x1="553.4" y1="198.19" x2="555.3" y2="198.19" stroke="#2c2c2c" stroke-width="0.8"/>
<line x1="683.3" y1="198.19" x2="681.7" y2="198.19" stroke="#2c2c2c" stroke-width="0.8"/>
<line x1="551.2" y1="192.3" x2="555.3" y2="192.3" stroke="#2c2c2c" stroke-width="0.8"/>
<line x1="683.3" y1="192.3" x2="680.3" y2="192.3" stroke="#2c2c2c" stroke-width="0.8"/>
<line x1="553.4" y1="186.41" x2="555.3" y2="186.41" stroke="#2c2c2c" stroke-width="0.8"/>
<line x1="683.3" y1="186.41" x2="681.7" y2="186.41" stroke="#2c2c2c" stroke-width="0.8"/>
<line x1="553.4" y1="180.52" x2="555.3" y2="180.52" stroke="#2c2c2c" stroke-width="0.8"/>
<line x1="683.3" y1="180.52" x2="681.7" y2="180.52" stroke="#2c2c2c" stroke-width="0.8"/>
<line x1="553.4" y1="174.63" x2="555.3" y2="174.63" stroke="#2c2c2c" stroke-width="0.8"/>
<line x1="683.3" y1="174.63" x2="681.7" y2="174.63" stroke="#2c2c2c" stroke-width="0.8"/>
<line x1="553.4" y1="168.74" x2="555.3" y2="168.74" stroke="#2c2c2c" stroke-width="0.8"/>
<line x1="683.3" y1="168.74" x2="681.7" y2="168.74" stroke="#2c2c2c" stroke-width="0.8"/>
<line x1="551.2" y1="162.85" x2="555.3" y2="162.85" stroke="#2c2c2c" stroke-width="0.8"/>
<line x1="683.3" y1="162.85" x2="680.3" y2="162.85" stroke="#2c2c2c" stroke-width="0.8"/>
<line x1="553.4" y1="156.96" x2="555.3" y2="156.96" stroke="#2c2c2c" stroke-width="0.8"/>
<line x1="683.3" y1="156.96" x2="681.7" y2="156.96" stroke="#2c2c2c" stroke-width="0.8"/>
<line x1="553.4" y1="151.07" x2="555.3" y2="151.07" stroke="#2c2c2c" stroke-width="0.8"/>
<line x1="683.3" y1="151.07" x2="681.7" y2="151.07" stroke="#2c2c2c" stroke-width="0.8"/>
<line x1="553.4" y1="145.18" x2="555.3" y2="145.18" stroke="#2c2c2c" stroke-width="0.8"/>
<line x1="683.3" y1="145.18" x2="681.7" y2="145.18" stroke="#2c2c2c" stroke-width="0.8"/>
<line x1="553.4" y1="139.29" x2="555.3" y2="139.29" stroke="#2c2c2c" stroke-width="0.8"/>
<line x1="683.3" y1="139.29" x2="681.7" y2="139.29" stroke="#2c2c2c" stroke-width="0.8"/>
<line x1="551.2" y1="133.4" x2="555.3" y2="133.4" stroke="#2c2c2c" stroke-width="0.8"/>
<line x1="683.3" y1="133.4" x2="680.3" y2="133.4" stroke="#2c2c2c" stroke-width="0.8"/>
<line x1="553.4" y1="127.51" x2="555.3" y2="127.51" stroke="#2c2c2c" stroke-width="0.8"/>
<line x1="683.3" y1="127.51" x2="681.7" y2="127.51" stroke="#2c2c2c" stroke-width="0.8"/>
<line x1="553.4" y1="121.62" x2="555.3" y2="121.62" stroke="#2c2c2c" stroke-width="0.8"/>
<line x1="683.3" y1="121.62" x2="681.7" y2="121.62" stroke="#2c2c2c" stroke-width="0.8"/>
<line x1="553.4" y1="115.73" x2="555.3" y2="115.73" stroke="#2c2c2c" stroke-width="0.8"/>
<line x1="683.3" y1="115.73" x2="681.7" y2="115.73" stroke="#2c2c2c" stroke-width="0.8"/>
<text x="548.3" y="136.6" font-size="9.2" text-anchor="end" font-weight="normal" fill="#1a1a1a" stroke="#1a1a1a" stroke-width="0.12">1.0</text>
<text x="548.3" y="166.05" font-size="9.2" text-anchor="end" font-weight="normal" fill="#1a1a1a" stroke="#1a1a1a" stroke-width="0.12">0.5</text>
<text x="548.3" y="195.5" font-size="9.2" text-anchor="end" font-weight="normal" fill="#1a1a1a" stroke="#1a1a1a" stroke-width="0.12">0.0</text>
<line x1="555.3" y1="204.3" x2="555.3" y2="208.1" stroke="#2c2c2c" stroke-width="0.8"/>
<line x1="555.3" y1="116.4" x2="555.3" y2="120.2" stroke="#2c2c2c" stroke-width="0.8"/>
<line x1="570.81" y1="204.3" x2="570.81" y2="206.3" stroke="#2c2c2c" stroke-width="0.8"/>
<line x1="570.81" y1="116.4" x2="570.81" y2="118.4" stroke="#2c2c2c" stroke-width="0.8"/>
<line x1="586.32" y1="204.3" x2="586.32" y2="208.1" stroke="#2c2c2c" stroke-width="0.8"/>
<line x1="586.32" y1="116.4" x2="586.32" y2="120.2" stroke="#2c2c2c" stroke-width="0.8"/>
<line x1="601.83" y1="204.3" x2="601.83" y2="206.3" stroke="#2c2c2c" stroke-width="0.8"/>
<line x1="601.83" y1="116.4" x2="601.83" y2="118.4" stroke="#2c2c2c" stroke-width="0.8"/>
<line x1="617.34" y1="204.3" x2="617.34" y2="208.1" stroke="#2c2c2c" stroke-width="0.8"/>
<line x1="617.34" y1="116.4" x2="617.34" y2="120.2" stroke="#2c2c2c" stroke-width="0.8"/>
<line x1="632.85" y1="204.3" x2="632.85" y2="206.3" stroke="#2c2c2c" stroke-width="0.8"/>
<line x1="632.85" y1="116.4" x2="632.85" y2="118.4" stroke="#2c2c2c" stroke-width="0.8"/>
<line x1="648.36" y1="204.3" x2="648.36" y2="208.1" stroke="#2c2c2c" stroke-width="0.8"/>
<line x1="648.36" y1="116.4" x2="648.36" y2="120.2" stroke="#2c2c2c" stroke-width="0.8"/>
<line x1="663.87" y1="204.3" x2="663.87" y2="206.3" stroke="#2c2c2c" stroke-width="0.8"/>
<line x1="663.87" y1="116.4" x2="663.87" y2="118.4" stroke="#2c2c2c" stroke-width="0.8"/>
<line x1="679.38" y1="204.3" x2="679.38" y2="208.1" stroke="#2c2c2c" stroke-width="0.8"/>
<line x1="679.38" y1="116.4" x2="679.38" y2="120.2" stroke="#2c2c2c" stroke-width="0.8"/>
<text x="508.2" y="162" font-size="8.7" text-anchor="middle" font-weight="normal" fill="#1a1a1a" stroke="#1a1a1a" stroke-width="0.12" transform="rotate(-90 508.2 162)">Individual pulse</text>
<text x="522.1" y="160.4" font-size="8.7" text-anchor="middle" font-weight="normal" fill="#1a1a1a" stroke="#1a1a1a" stroke-width="0.12" transform="rotate(-90 522.1 160.4)">phases (π rad)</text>
<polyline points="555.3,217.3 556.01,217.3 556.71,217.3 557.42,217.3 558.13,217.3 558.84,217.3 559.54,217.3 560.25,217.3 560.96,217.3 561.67,217.3 562.37,217.3 563.08,217.3 563.79,217.3 564.49,217.3 565.2,217.3 565.91,217.3 566.62,217.3 567.32,217.3 568.03,217.3 568.74,217.3 569.45,217.3 570.15,217.3 570.86,217.3 571.57,217.3 572.27,217.3 572.98,217.3 573.69,217.3 574.4,217.3 575.1,217.3 575.81,217.3 576.52,217.3 577.23,217.3 577.93,217.3 578.64,217.3 579.35,217.3 580.05,217.3 580.76,217.3 581.47,217.3 582.18,217.3 582.88,217.3 583.59,217.3 584.3,217.3 585.01,217.3 585.71,217.3 586.42,217.3 587.13,217.3 587.83,217.3 588.54,217.3 589.25,217.3 589.96,217.3 590.66,217.3 591.37,217.3 592.08,217.3 592.79,217.3 593.49,217.3 594.2,217.3 594.2,213.8 594.99,213.8 595.78,213.8 596.56,213.8 597.35,213.8 598.14,213.8 598.92,213.8 599.71,213.8 600.5,213.8 600.8,227 601.4,238.4 602.2,252.7 603.4,266.9 604.8,272.6 605.5,278.25 606.2,283.9 607.6,292.5 608.37,294.2 609.13,295.49 609.9,297.2 610.62,297.98 611.35,297.1 612.07,298 612.8,297.41 613.5,298.39 614.2,297.87 614.9,298.07 615.6,297.22 616.3,297.34 617,296.9 617.72,296.74 618.43,297.05 619.15,296.56 619.87,296.88 620.58,297.24 621.3,297.02 622,296.43 622.7,296.92 623.4,295.75 624.1,295.09 624.83,295.36 625.55,295.12 626.27,295.17 627,295.18 627.7,296.39 628.4,296.07 629.1,296.51 629.8,297.07 630.5,297.92 631.2,297.52 631.95,297.68 632.7,298.2 633.4,298.2 634.11,298.2 634.81,298.2 635.51,298.2 636.21,298.2 636.92,298.2 637.62,298.2 638.32,298.2 639.03,298.2 639.73,298.2 640.43,298.2 641.13,298.2 641.84,298.2 642.54,298.2 643.24,298.2 643.94,298.2 644.65,298.2 645.35,298.2 646.05,298.2 646.76,298.2 647.46,298.2 648.16,298.2 648.86,298.2 649.57,298.2 650.27,298.2 650.97,298.2 651.67,298.2 652.38,298.2 653.08,298.2 653.78,298.2 654.49,298.2 655.19,298.2 655.89,298.2 656.59,298.2 657.3,298.2 658,298.2 658.7,298.2 659.41,298.2 660.11,298.2 660.81,298.2 661.51,298.2 662.22,298.2 662.92,298.2 663.62,298.2 664.33,298.2 665.03,298.2 665.73,298.2 666.43,298.2 667.14,298.2 667.84,298.2 668.54,298.2 669.24,298.2 669.95,298.2 670.65,298.2 671.35,298.2 672.06,298.2 672.76,298.2 673.46,298.2 674.16,298.2 674.87,298.2 675.57,298.2 676.27,298.2 676.97,298.2 677.68,298.2 678.38,298.2 679.08,298.2 679.79,298.2 680.49,298.2 681.19,298.2 681.89,298.2 682.6,298.2 683.3,298.2" fill="none" stroke="#f0484c" stroke-width="0.8"/>
<rect x="555.3" y="213.8" width="128" height="88.8" fill="none" stroke="#2c2c2c" stroke-width="0.9"/>
<line x1="553.4" y1="299.06" x2="555.3" y2="299.06" stroke="#2c2c2c" stroke-width="0.8"/>
<line x1="683.3" y1="299.06" x2="681.7" y2="299.06" stroke="#2c2c2c" stroke-width="0.8"/>
<line x1="553.4" y1="295.51" x2="555.3" y2="295.51" stroke="#2c2c2c" stroke-width="0.8"/>
<line x1="683.3" y1="295.51" x2="681.7" y2="295.51" stroke="#2c2c2c" stroke-width="0.8"/>
<line x1="553.4" y1="291.96" x2="555.3" y2="291.96" stroke="#2c2c2c" stroke-width="0.8"/>
<line x1="683.3" y1="291.96" x2="681.7" y2="291.96" stroke="#2c2c2c" stroke-width="0.8"/>
<line x1="551.2" y1="288.4" x2="555.3" y2="288.4" stroke="#2c2c2c" stroke-width="0.8"/>
<line x1="683.3" y1="288.4" x2="680.3" y2="288.4" stroke="#2c2c2c" stroke-width="0.8"/>
<line x1="553.4" y1="284.85" x2="555.3" y2="284.85" stroke="#2c2c2c" stroke-width="0.8"/>
<line x1="683.3" y1="284.85" x2="681.7" y2="284.85" stroke="#2c2c2c" stroke-width="0.8"/>
<line x1="553.4" y1="281.29" x2="555.3" y2="281.29" stroke="#2c2c2c" stroke-width="0.8"/>
<line x1="683.3" y1="281.29" x2="681.7" y2="281.29" stroke="#2c2c2c" stroke-width="0.8"/>
<line x1="553.4" y1="277.74" x2="555.3" y2="277.74" stroke="#2c2c2c" stroke-width="0.8"/>
<line x1="683.3" y1="277.74" x2="681.7" y2="277.74" stroke="#2c2c2c" stroke-width="0.8"/>
<line x1="553.4" y1="274.18" x2="555.3" y2="274.18" stroke="#2c2c2c" stroke-width="0.8"/>
<line x1="683.3" y1="274.18" x2="681.7" y2="274.18" stroke="#2c2c2c" stroke-width="0.8"/>
<line x1="553.4" y1="270.62" x2="555.3" y2="270.62" stroke="#2c2c2c" stroke-width="0.8"/>
<line x1="683.3" y1="270.62" x2="681.7" y2="270.62" stroke="#2c2c2c" stroke-width="0.8"/>
<line x1="553.4" y1="267.07" x2="555.3" y2="267.07" stroke="#2c2c2c" stroke-width="0.8"/>
<line x1="683.3" y1="267.07" x2="681.7" y2="267.07" stroke="#2c2c2c" stroke-width="0.8"/>
<line x1="553.4" y1="263.51" x2="555.3" y2="263.51" stroke="#2c2c2c" stroke-width="0.8"/>
<line x1="683.3" y1="263.51" x2="681.7" y2="263.51" stroke="#2c2c2c" stroke-width="0.8"/>
<line x1="553.4" y1="259.96" x2="555.3" y2="259.96" stroke="#2c2c2c" stroke-width="0.8"/>
<line x1="683.3" y1="259.96" x2="681.7" y2="259.96" stroke="#2c2c2c" stroke-width="0.8"/>
<line x1="553.4" y1="256.41" x2="555.3" y2="256.41" stroke="#2c2c2c" stroke-width="0.8"/>
<line x1="683.3" y1="256.41" x2="681.7" y2="256.41" stroke="#2c2c2c" stroke-width="0.8"/>
<line x1="551.2" y1="252.85" x2="555.3" y2="252.85" stroke="#2c2c2c" stroke-width="0.8"/>
<line x1="683.3" y1="252.85" x2="680.3" y2="252.85" stroke="#2c2c2c" stroke-width="0.8"/>
<line x1="553.4" y1="249.3" x2="555.3" y2="249.3" stroke="#2c2c2c" stroke-width="0.8"/>
<line x1="683.3" y1="249.3" x2="681.7" y2="249.3" stroke="#2c2c2c" stroke-width="0.8"/>
<line x1="553.4" y1="245.74" x2="555.3" y2="245.74" stroke="#2c2c2c" stroke-width="0.8"/>
<line x1="683.3" y1="245.74" x2="681.7" y2="245.74" stroke="#2c2c2c" stroke-width="0.8"/>
<line x1="553.4" y1="242.19" x2="555.3" y2="242.19" stroke="#2c2c2c" stroke-width="0.8"/>
<line x1="683.3" y1="242.19" x2="681.7" y2="242.19" stroke="#2c2c2c" stroke-width="0.8"/>
<line x1="553.4" y1="238.63" x2="555.3" y2="238.63" stroke="#2c2c2c" stroke-width="0.8"/>
<line x1="683.3" y1="238.63" x2="681.7" y2="238.63" stroke="#2c2c2c" stroke-width="0.8"/>
<line x1="553.4" y1="235.08" x2="555.3" y2="235.08" stroke="#2c2c2c" stroke-width="0.8"/>
<line x1="683.3" y1="235.08" x2="681.7" y2="235.08" stroke="#2c2c2c" stroke-width="0.8"/>
<line x1="553.4" y1="231.52" x2="555.3" y2="231.52" stroke="#2c2c2c" stroke-width="0.8"/>
<line x1="683.3" y1="231.52" x2="681.7" y2="231.52" stroke="#2c2c2c" stroke-width="0.8"/>
<line x1="553.4" y1="227.97" x2="555.3" y2="227.97" stroke="#2c2c2c" stroke-width="0.8"/>
<line x1="683.3" y1="227.97" x2="681.7" y2="227.97" stroke="#2c2c2c" stroke-width="0.8"/>
<line x1="553.4" y1="224.41" x2="555.3" y2="224.41" stroke="#2c2c2c" stroke-width="0.8"/>
<line x1="683.3" y1="224.41" x2="681.7" y2="224.41" stroke="#2c2c2c" stroke-width="0.8"/>
<line x1="553.4" y1="220.86" x2="555.3" y2="220.86" stroke="#2c2c2c" stroke-width="0.8"/>
<line x1="683.3" y1="220.86" x2="681.7" y2="220.86" stroke="#2c2c2c" stroke-width="0.8"/>
<line x1="551.2" y1="217.3" x2="555.3" y2="217.3" stroke="#2c2c2c" stroke-width="0.8"/>
<line x1="683.3" y1="217.3" x2="680.3" y2="217.3" stroke="#2c2c2c" stroke-width="0.8"/>
<text x="546.9" y="220.3" font-size="8.3" text-anchor="end" font-weight="normal" fill="#1a1a1a" stroke="#1a1a1a" stroke-width="0.12">0</text>
<text x="546.9" y="255.85" font-size="8.3" text-anchor="end" font-weight="normal" fill="#1a1a1a" stroke="#1a1a1a" stroke-width="0.12">-100</text>
<text x="546.9" y="291.4" font-size="8.3" text-anchor="end" font-weight="normal" fill="#1a1a1a" stroke="#1a1a1a" stroke-width="0.12">-200</text>
<line x1="555.3" y1="302.6" x2="555.3" y2="306.4" stroke="#2c2c2c" stroke-width="0.8"/>
<line x1="555.3" y1="213.8" x2="555.3" y2="217.6" stroke="#2c2c2c" stroke-width="0.8"/>
<text x="555.3" y="317" font-size="8.4" text-anchor="middle" font-weight="normal" fill="#1a1a1a" stroke="#1a1a1a" stroke-width="0.12">0</text>
<line x1="570.81" y1="302.6" x2="570.81" y2="304.6" stroke="#2c2c2c" stroke-width="0.8"/>
<line x1="570.81" y1="213.8" x2="570.81" y2="215.8" stroke="#2c2c2c" stroke-width="0.8"/>
<line x1="586.32" y1="302.6" x2="586.32" y2="306.4" stroke="#2c2c2c" stroke-width="0.8"/>
<line x1="586.32" y1="213.8" x2="586.32" y2="217.6" stroke="#2c2c2c" stroke-width="0.8"/>
<text x="586.32" y="317" font-size="8.4" text-anchor="middle" font-weight="normal" fill="#1a1a1a" stroke="#1a1a1a" stroke-width="0.12">20</text>
<line x1="601.83" y1="302.6" x2="601.83" y2="304.6" stroke="#2c2c2c" stroke-width="0.8"/>
<line x1="601.83" y1="213.8" x2="601.83" y2="215.8" stroke="#2c2c2c" stroke-width="0.8"/>
<line x1="617.34" y1="302.6" x2="617.34" y2="306.4" stroke="#2c2c2c" stroke-width="0.8"/>
<line x1="617.34" y1="213.8" x2="617.34" y2="217.6" stroke="#2c2c2c" stroke-width="0.8"/>
<text x="617.34" y="317" font-size="8.4" text-anchor="middle" font-weight="normal" fill="#1a1a1a" stroke="#1a1a1a" stroke-width="0.12">40</text>
<line x1="632.85" y1="302.6" x2="632.85" y2="304.6" stroke="#2c2c2c" stroke-width="0.8"/>
<line x1="632.85" y1="213.8" x2="632.85" y2="215.8" stroke="#2c2c2c" stroke-width="0.8"/>
<line x1="648.36" y1="302.6" x2="648.36" y2="306.4" stroke="#2c2c2c" stroke-width="0.8"/>
<line x1="648.36" y1="213.8" x2="648.36" y2="217.6" stroke="#2c2c2c" stroke-width="0.8"/>
<text x="648.36" y="317" font-size="8.4" text-anchor="middle" font-weight="normal" fill="#1a1a1a" stroke="#1a1a1a" stroke-width="0.12">60</text>
<line x1="663.87" y1="302.6" x2="663.87" y2="304.6" stroke="#2c2c2c" stroke-width="0.8"/>
<line x1="663.87" y1="213.8" x2="663.87" y2="215.8" stroke="#2c2c2c" stroke-width="0.8"/>
<line x1="679.38" y1="302.6" x2="679.38" y2="306.4" stroke="#2c2c2c" stroke-width="0.8"/>
<line x1="679.38" y1="213.8" x2="679.38" y2="217.6" stroke="#2c2c2c" stroke-width="0.8"/>
<text x="679.38" y="317" font-size="8.4" text-anchor="middle" font-weight="normal" fill="#1a1a1a" stroke="#1a1a1a" stroke-width="0.12">80</text>
<text x="518.5" y="258.2" font-size="8.9" text-anchor="middle" font-weight="normal" fill="#1a1a1a" stroke="#1a1a1a" stroke-width="0.12" transform="rotate(-90 518.5 258.2)">Hamiltonian</text>
<text x="619.6" y="332.4" font-size="9" text-anchor="middle" font-weight="normal" fill="#1a1a1a" stroke="#1a1a1a" stroke-width="0.12">Circulation number</text>
</svg>
</body></html>
